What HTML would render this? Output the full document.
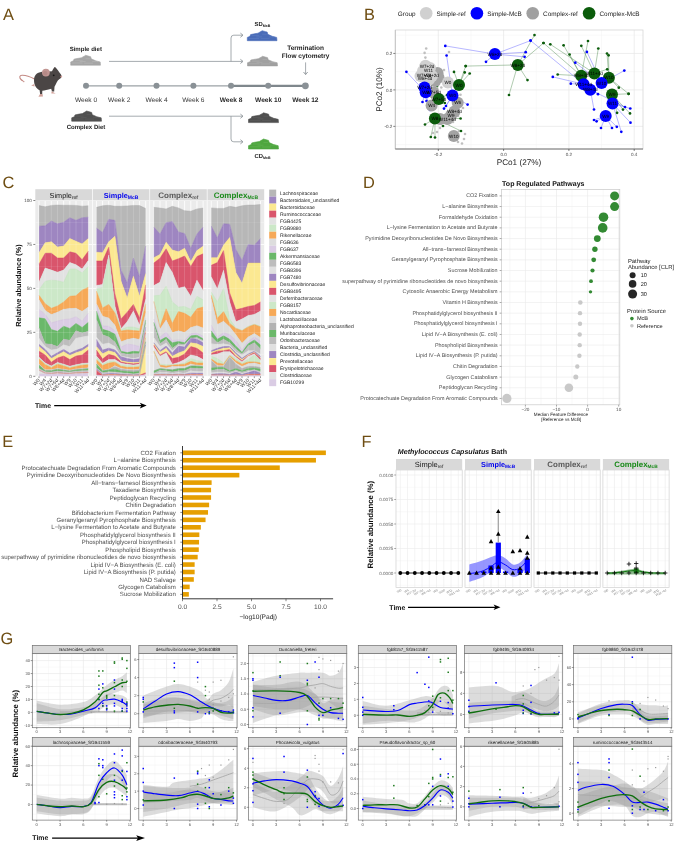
<!DOCTYPE html>
<html><head><meta charset="utf-8"><style>
html,body{margin:0;padding:0;background:#fff;width:685px;height:841px;overflow:hidden}
svg{display:block;will-change:transform}
text{font-family:"Liberation Sans", sans-serif;text-rendering:geometricPrecision}
</style></head><body>
<svg width="685" height="841" viewBox="0 0 685 841">
<rect width="685" height="841" fill="#fff"/>
<text x="3" y="20" font-size="16.4" text-anchor="start" fill="#6E4D12">A</text>
<path d="M 34.5,79 C 30,76.5 26,75 22,75.2 C 19.5,75.4 19,77.5 21,79.5 C 22,80.5 23.5,81.2 24.3,82" fill="none" stroke="#C48A84" stroke-width="1.1"/>
<path d="M 34,80 C 34,74 38.5,71.8 44,71.8 L 52,71.2 C 53.5,68.5 54.5,66.5 55.3,67.2 C 57.2,68.8 59,71.8 60.8,74.3 C 62.2,76 61.6,78.3 59.2,79.2 C 57.2,80.5 56,84 54.5,86.8 L 54.2,91.5 L 52,91.5 L 51.2,88.8 C 47.5,89.8 44.5,90.4 42.3,90.8 L 42.2,94.5 L 40.2,94.5 L 39.6,90.2 C 36,88.3 34,85.2 34,80 Z" fill="#4B4645" stroke="none" stroke-width="1"/>
<circle cx="45.9" cy="72.6" r="3.9" fill="#C19592" stroke="none" stroke-width="1"/>
<circle cx="45.2" cy="73.3" r="2.2" fill="#A97D7A" stroke="none" stroke-width="1" opacity="0.5"/>
<circle cx="53.7" cy="75.3" r="0.9" fill="#151515" stroke="none" stroke-width="1"/>
<circle cx="61.3" cy="76.6" r="0.9" fill="#D79C97" stroke="none" stroke-width="1"/>
<path d="M 51.6,91.2 L 55.6,93.4 L 51.4,93.6 Z" fill="#D2A29B" stroke="none" stroke-width="1"/>
<path d="M 40,94 L 42.6,94.2 L 43,96.6 L 38.4,96.8 Z" fill="#D2A29B" stroke="none" stroke-width="1"/>
<path d="M 34.2,84 L 31.2,85.6 L 34.6,86.4 Z" fill="#D2A29B" stroke="none" stroke-width="1"/>
<text x="85.8" y="50.7" font-size="6.05" text-anchor="middle" fill="#222" font-weight="bold">Simple diet</text>
<polygon points="70.7,65.2 70.7,61.93 73.38,60.84 73.98,59.16 76.66,58.57 81.43,57.77 84.71,55.89 85.6,55.3 89.18,56.29 90.67,56.69 91.26,58.86 95.73,60.84 100.2,61.93 100.5,65.2" fill="#A6A6A6" stroke="#A6A6A6" stroke-width="0.6" stroke-linejoin="round"/>
<line x1="72.19" y1="63.02" x2="82.62" y2="63.02" stroke="#C4C4C4" stroke-width="0.5" opacity="0.7"/>
<line x1="84.11" y1="63.22" x2="93.05" y2="63.22" stroke="#C4C4C4" stroke-width="0.5" opacity="0.7"/>
<line x1="75.17" y1="60.25" x2="82.62" y2="60.25" stroke="#C4C4C4" stroke-width="0.5" opacity="0.7"/>
<line x1="85.6" y1="58.77" x2="90.07" y2="58.77" stroke="#C4C4C4" stroke-width="0.5" opacity="0.7"/>
<line x1="92.16" y1="61.44" x2="98.12" y2="61.44" stroke="#C4C4C4" stroke-width="0.5" opacity="0.7"/>
<line x1="79.64" y1="61.44" x2="85.6" y2="61.44" stroke="#C4C4C4" stroke-width="0.5" opacity="0.7"/>
<polygon points="71.7,121.2 71.7,117.83 74.38,116.71 74.98,114.98 77.66,114.37 82.43,113.55 85.71,111.61 86.6,111 90.18,112.02 91.67,112.43 92.26,114.67 96.73,116.71 101.2,117.83 101.5,121.2" fill="#505050" stroke="#505050" stroke-width="0.6" stroke-linejoin="round"/>
<line x1="73.19" y1="118.96" x2="83.62" y2="118.96" stroke="#6A6A6A" stroke-width="0.5" opacity="0.7"/>
<line x1="85.11" y1="119.16" x2="94.05" y2="119.16" stroke="#6A6A6A" stroke-width="0.5" opacity="0.7"/>
<line x1="76.17" y1="116.1" x2="83.62" y2="116.1" stroke="#6A6A6A" stroke-width="0.5" opacity="0.7"/>
<line x1="86.6" y1="114.57" x2="91.07" y2="114.57" stroke="#6A6A6A" stroke-width="0.5" opacity="0.7"/>
<line x1="93.16" y1="117.32" x2="99.12" y2="117.32" stroke="#6A6A6A" stroke-width="0.5" opacity="0.7"/>
<line x1="80.64" y1="117.32" x2="86.6" y2="117.32" stroke="#6A6A6A" stroke-width="0.5" opacity="0.7"/>
<text x="86" y="128.5" font-size="6.05" text-anchor="middle" fill="#222" font-weight="bold">Complex Diet</text>
<line x1="109" y1="61.4" x2="242.5" y2="61.4" stroke="#8E959A" stroke-width="0.8"/>
<polyline points="240.4,63.48 243,61.4 240.4,59.32" fill="none" stroke="#8E959A" stroke-width="0.9"/>
<path d="M 231,61.4 L 231,38 Q 231,35.2 233.8,35.2 L 242.5,35.2" fill="none" stroke="#8E959A" stroke-width="0.8"/>
<polyline points="240.4,37.28 243,35.2 240.4,33.12" fill="none" stroke="#8E959A" stroke-width="0.9"/>
<line x1="109" y1="116.2" x2="242.5" y2="116.2" stroke="#8E959A" stroke-width="0.8"/>
<polyline points="240.4,118.28 243,116.2 240.4,114.12" fill="none" stroke="#8E959A" stroke-width="0.9"/>
<path d="M 231,116.2 L 231,139 Q 231,141.8 233.8,141.8 L 242.5,141.8" fill="none" stroke="#8E959A" stroke-width="0.8"/>
<polyline points="240.4,143.88 243,141.8 240.4,139.72" fill="none" stroke="#8E959A" stroke-width="0.9"/>
<polygon points="247.3,40.7 247.3,37.4 249.97,36.3 250.57,34.6 253.24,34 257.99,33.2 261.26,31.3 262.15,30.7 265.71,31.7 267.2,32.1 267.79,34.3 272.25,36.3 276.7,37.4 277,40.7" fill="#4A6CB8" stroke="#4A6CB8" stroke-width="0.6" stroke-linejoin="round"/>
<line x1="248.79" y1="38.5" x2="259.18" y2="38.5" stroke="#6F8CCB" stroke-width="0.5" opacity="0.7"/>
<line x1="260.67" y1="38.7" x2="269.57" y2="38.7" stroke="#6F8CCB" stroke-width="0.5" opacity="0.7"/>
<line x1="251.75" y1="35.7" x2="259.18" y2="35.7" stroke="#6F8CCB" stroke-width="0.5" opacity="0.7"/>
<line x1="262.15" y1="34.2" x2="266.61" y2="34.2" stroke="#6F8CCB" stroke-width="0.5" opacity="0.7"/>
<line x1="268.68" y1="36.9" x2="274.62" y2="36.9" stroke="#6F8CCB" stroke-width="0.5" opacity="0.7"/>
<line x1="256.21" y1="36.9" x2="262.15" y2="36.9" stroke="#6F8CCB" stroke-width="0.5" opacity="0.7"/>
<polygon points="247.5,65.9 247.5,62.73 250.2,61.68 250.8,60.04 253.5,59.47 258.3,58.7 261.6,56.88 262.5,56.3 266.1,57.26 267.6,57.64 268.2,59.76 272.7,61.68 277.2,62.73 277.5,65.9" fill="#A0A0A0" stroke="#A0A0A0" stroke-width="0.6" stroke-linejoin="round"/>
<line x1="249" y1="63.79" x2="259.5" y2="63.79" stroke="#BDBDBD" stroke-width="0.5" opacity="0.7"/>
<line x1="261" y1="63.98" x2="270" y2="63.98" stroke="#BDBDBD" stroke-width="0.5" opacity="0.7"/>
<line x1="252" y1="61.1" x2="259.5" y2="61.1" stroke="#BDBDBD" stroke-width="0.5" opacity="0.7"/>
<line x1="262.5" y1="59.66" x2="267" y2="59.66" stroke="#BDBDBD" stroke-width="0.5" opacity="0.7"/>
<line x1="269.1" y1="62.25" x2="275.1" y2="62.25" stroke="#BDBDBD" stroke-width="0.5" opacity="0.7"/>
<line x1="256.5" y1="62.25" x2="262.5" y2="62.25" stroke="#BDBDBD" stroke-width="0.5" opacity="0.7"/>
<polygon points="248.5,122.6 248.5,119.37 251.2,118.29 251.8,116.62 254.5,116.03 259.3,115.25 262.6,113.39 263.5,112.8 267.1,113.78 268.6,114.17 269.2,116.33 273.7,118.29 278.2,119.37 278.5,122.6" fill="#4F4F4F" stroke="#4F4F4F" stroke-width="0.6" stroke-linejoin="round"/>
<line x1="250" y1="120.44" x2="260.5" y2="120.44" stroke="#6A6A6A" stroke-width="0.5" opacity="0.7"/>
<line x1="262" y1="120.64" x2="271" y2="120.64" stroke="#6A6A6A" stroke-width="0.5" opacity="0.7"/>
<line x1="253" y1="117.7" x2="260.5" y2="117.7" stroke="#6A6A6A" stroke-width="0.5" opacity="0.7"/>
<line x1="263.5" y1="116.23" x2="268" y2="116.23" stroke="#6A6A6A" stroke-width="0.5" opacity="0.7"/>
<line x1="270.1" y1="118.88" x2="276.1" y2="118.88" stroke="#6A6A6A" stroke-width="0.5" opacity="0.7"/>
<line x1="257.5" y1="118.88" x2="263.5" y2="118.88" stroke="#6A6A6A" stroke-width="0.5" opacity="0.7"/>
<polygon points="248.5,149 248.5,145.7 251.2,144.6 251.8,142.9 254.5,142.3 259.3,141.5 262.6,139.6 263.5,139 267.1,140 268.6,140.4 269.2,142.6 273.7,144.6 278.2,145.7 278.5,149" fill="#4EA63F" stroke="#4EA63F" stroke-width="0.6" stroke-linejoin="round"/>
<line x1="250" y1="146.8" x2="260.5" y2="146.8" stroke="#72BC62" stroke-width="0.5" opacity="0.7"/>
<line x1="262" y1="147" x2="271" y2="147" stroke="#72BC62" stroke-width="0.5" opacity="0.7"/>
<line x1="253" y1="144" x2="260.5" y2="144" stroke="#72BC62" stroke-width="0.5" opacity="0.7"/>
<line x1="263.5" y1="142.5" x2="268" y2="142.5" stroke="#72BC62" stroke-width="0.5" opacity="0.7"/>
<line x1="270.1" y1="145.2" x2="276.1" y2="145.2" stroke="#72BC62" stroke-width="0.5" opacity="0.7"/>
<line x1="257.5" y1="145.2" x2="263.5" y2="145.2" stroke="#72BC62" stroke-width="0.5" opacity="0.7"/>
<text x="262.5" y="26" font-size="5.9" text-anchor="middle" font-weight="bold" fill="#222">SD<tspan font-size="3.6" dy="1">McB</tspan></text>
<text x="262.5" y="158" font-size="5.9" text-anchor="middle" font-weight="bold" fill="#222">CD<tspan font-size="3.6" dy="1">McB</tspan></text>
<text x="305.6" y="49.6" font-size="6.5" text-anchor="middle" fill="#222" font-weight="bold">Termination</text>
<text x="305.6" y="57.6" font-size="6.5" text-anchor="middle" fill="#222" font-weight="bold">Flow cytometry</text>
<line x1="305.6" y1="62.4" x2="305.6" y2="74.4" stroke="#8E959A" stroke-width="0.8"/>
<polyline points="303.52,72 305.6,74.6 307.68,72" fill="none" stroke="#8E959A" stroke-width="0.9"/>
<line x1="86" y1="85.8" x2="231" y2="85.8" stroke="#9BA2A6" stroke-width="1.3"/>
<line x1="231" y1="85.8" x2="305.4" y2="85.8" stroke="#7F878C" stroke-width="2.2"/>
<circle cx="86" cy="85.8" r="3" fill="#8A9196" stroke="none" stroke-width="1"/>
<circle cx="119.2" cy="85.8" r="3" fill="#8A9196" stroke="none" stroke-width="1"/>
<circle cx="156.5" cy="85.8" r="3" fill="#8A9196" stroke="none" stroke-width="1"/>
<circle cx="193.4" cy="85.8" r="3" fill="#8A9196" stroke="none" stroke-width="1"/>
<circle cx="231" cy="85.8" r="3" fill="#8A9196" stroke="none" stroke-width="1"/>
<circle cx="268.2" cy="85.8" r="3" fill="#8A9196" stroke="none" stroke-width="1"/>
<circle cx="305.4" cy="85.8" r="3.4" fill="#8A9196" stroke="none" stroke-width="1"/>
<text x="86" y="102.2" font-size="6.6" text-anchor="middle" fill="#353535">Week 0</text>
<text x="119.2" y="102.2" font-size="6.6" text-anchor="middle" fill="#353535">Week 2</text>
<text x="156.5" y="102.2" font-size="6.6" text-anchor="middle" fill="#353535">Week 4</text>
<text x="193.4" y="102.2" font-size="6.6" text-anchor="middle" fill="#353535">Week 6</text>
<text x="231" y="102.2" font-size="6.6" text-anchor="middle" fill="#2a2a2a" font-weight="bold">Week 8</text>
<text x="268.2" y="102.2" font-size="6.6" text-anchor="middle" fill="#2a2a2a" font-weight="bold">Week 10</text>
<text x="305.4" y="102.2" font-size="6.6" text-anchor="middle" fill="#2a2a2a" font-weight="bold">Week 12</text>
<text x="364" y="20.4" font-size="16.4" text-anchor="start" fill="#6E4D12">B</text>
<text x="397.8" y="15.9" font-size="6.4" text-anchor="start" fill="#222">Group</text>
<circle cx="426.2" cy="13.3" r="6.3" fill="#D0D0D0" stroke="none" stroke-width="1"/>
<text x="436.6" y="15.9" font-size="6.4" text-anchor="start" fill="#222">Simple-ref</text>
<circle cx="476.9" cy="13.3" r="6.3" fill="#0000FF" stroke="none" stroke-width="1"/>
<text x="487.3" y="15.9" font-size="6.4" text-anchor="start" fill="#222">Simple-McB</text>
<circle cx="532.7" cy="13.3" r="6.3" fill="#A0A0A0" stroke="none" stroke-width="1"/>
<text x="543.1" y="15.9" font-size="6.4" text-anchor="start" fill="#222">Complex-ref</text>
<circle cx="589.1" cy="13.3" r="6.3" fill="#0B5C0B" stroke="none" stroke-width="1"/>
<text x="599.5" y="15.9" font-size="6.4" text-anchor="start" fill="#222">Complex-McB</text>
<rect x="395.3" y="30" width="247.7" height="119" fill="#fff" stroke="none" stroke-width="1"/>
<line x1="405.65" y1="30" x2="405.65" y2="149" stroke="#F2F2F2" stroke-width="0.5"/>
<line x1="470.95" y1="30" x2="470.95" y2="149" stroke="#F2F2F2" stroke-width="0.5"/>
<line x1="536.25" y1="30" x2="536.25" y2="149" stroke="#F2F2F2" stroke-width="0.5"/>
<line x1="601.55" y1="30" x2="601.55" y2="149" stroke="#F2F2F2" stroke-width="0.5"/>
<line x1="395.3" y1="35.21" x2="643" y2="35.21" stroke="#F2F2F2" stroke-width="0.5"/>
<line x1="395.3" y1="71.67" x2="643" y2="71.67" stroke="#F2F2F2" stroke-width="0.5"/>
<line x1="395.3" y1="108.13" x2="643" y2="108.13" stroke="#F2F2F2" stroke-width="0.5"/>
<line x1="395.3" y1="144.59" x2="643" y2="144.59" stroke="#F2F2F2" stroke-width="0.5"/>
<line x1="438.3" y1="30" x2="438.3" y2="149" stroke="#E6E6E6" stroke-width="0.7"/>
<line x1="503.6" y1="30" x2="503.6" y2="149" stroke="#E6E6E6" stroke-width="0.7"/>
<line x1="568.9" y1="30" x2="568.9" y2="149" stroke="#E6E6E6" stroke-width="0.7"/>
<line x1="634.2" y1="30" x2="634.2" y2="149" stroke="#E6E6E6" stroke-width="0.7"/>
<line x1="395.3" y1="53.44" x2="643" y2="53.44" stroke="#E6E6E6" stroke-width="0.7"/>
<line x1="395.3" y1="89.9" x2="643" y2="89.9" stroke="#E6E6E6" stroke-width="0.7"/>
<line x1="395.3" y1="126.36" x2="643" y2="126.36" stroke="#E6E6E6" stroke-width="0.7"/>
<rect x="395.3" y="30" width="247.7" height="119" fill="none" stroke="#D6D6D6" stroke-width="0.8"/>
<line x1="395.3" y1="30" x2="395.3" y2="149" stroke="#BDBDBD" stroke-width="0.8"/>
<line x1="395.3" y1="149" x2="643" y2="149" stroke="#555" stroke-width="0.8"/>
<line x1="393.3" y1="53.44" x2="395.3" y2="53.44" stroke="#333" stroke-width="0.6"/>
<text x="392.3" y="55.04" font-size="4.6" text-anchor="end" fill="#4D4D4D">0.2</text>
<line x1="393.3" y1="89.9" x2="395.3" y2="89.9" stroke="#333" stroke-width="0.6"/>
<text x="392.3" y="91.5" font-size="4.6" text-anchor="end" fill="#4D4D4D">0.0</text>
<line x1="393.3" y1="126.36" x2="395.3" y2="126.36" stroke="#333" stroke-width="0.6"/>
<text x="392.3" y="127.96" font-size="4.6" text-anchor="end" fill="#4D4D4D">-0.2</text>
<line x1="438.3" y1="149" x2="438.3" y2="151" stroke="#333" stroke-width="0.6"/>
<text x="438.3" y="155.6" font-size="4.6" text-anchor="middle" fill="#4D4D4D">-0.2</text>
<line x1="503.6" y1="149" x2="503.6" y2="151" stroke="#333" stroke-width="0.6"/>
<text x="503.6" y="155.6" font-size="4.6" text-anchor="middle" fill="#4D4D4D">0.0</text>
<line x1="568.9" y1="149" x2="568.9" y2="151" stroke="#333" stroke-width="0.6"/>
<text x="568.9" y="155.6" font-size="4.6" text-anchor="middle" fill="#4D4D4D">0.2</text>
<line x1="634.2" y1="149" x2="634.2" y2="151" stroke="#333" stroke-width="0.6"/>
<text x="634.2" y="155.6" font-size="4.6" text-anchor="middle" fill="#4D4D4D">0.4</text>
<text x="519" y="164.5" font-size="8.2" text-anchor="middle" fill="#222">PCo1 (27%)</text>
<text x="381.5" y="89.5" font-size="8.2" text-anchor="middle" fill="#222" transform="rotate(-90 381.5 89.5)">PCo2 (10%)</text>
<line x1="494.9" y1="54.1" x2="445.3" y2="45.9" stroke="#5D5DFF" stroke-width="0.45"/>
<line x1="494.9" y1="54.1" x2="486" y2="61.8" stroke="#5D5DFF" stroke-width="0.45"/>
<line x1="494.9" y1="54.1" x2="530.6" y2="40.6" stroke="#5D5DFF" stroke-width="0.45"/>
<line x1="494.9" y1="54.1" x2="525.7" y2="52.2" stroke="#5D5DFF" stroke-width="0.45"/>
<line x1="494.9" y1="54.1" x2="524.6" y2="56.8" stroke="#5D5DFF" stroke-width="0.45"/>
<line x1="517.8" y1="64.9" x2="465.7" y2="66.1" stroke="#4F8A4F" stroke-width="0.45"/>
<line x1="517.8" y1="64.9" x2="534.5" y2="35.1" stroke="#4F8A4F" stroke-width="0.45"/>
<line x1="517.8" y1="64.9" x2="543.5" y2="43" stroke="#4F8A4F" stroke-width="0.45"/>
<line x1="517.8" y1="64.9" x2="509" y2="95" stroke="#4F8A4F" stroke-width="0.45"/>
<line x1="517.8" y1="64.9" x2="527.5" y2="80.1" stroke="#4F8A4F" stroke-width="0.45"/>
<line x1="581.2" y1="75.8" x2="563.6" y2="45.3" stroke="#4F8A4F" stroke-width="0.45"/>
<line x1="581.2" y1="75.8" x2="557.7" y2="74.5" stroke="#4F8A4F" stroke-width="0.45"/>
<line x1="581.2" y1="75.8" x2="569.6" y2="54.5" stroke="#4F8A4F" stroke-width="0.45"/>
<line x1="581.2" y1="75.8" x2="588" y2="41" stroke="#4F8A4F" stroke-width="0.45"/>
<line x1="581.2" y1="75.8" x2="543.5" y2="43" stroke="#4F8A4F" stroke-width="0.45"/>
<line x1="594.4" y1="73.4" x2="581.3" y2="45.8" stroke="#4F8A4F" stroke-width="0.45"/>
<line x1="594.4" y1="73.4" x2="598.3" y2="48.5" stroke="#4F8A4F" stroke-width="0.45"/>
<line x1="594.4" y1="73.4" x2="607.2" y2="69.3" stroke="#4F8A4F" stroke-width="0.45"/>
<line x1="594.4" y1="73.4" x2="550.3" y2="44.3" stroke="#4F8A4F" stroke-width="0.45"/>
<line x1="608.9" y1="77.7" x2="607" y2="53.5" stroke="#4F8A4F" stroke-width="0.45"/>
<line x1="608.9" y1="77.7" x2="608.6" y2="55.3" stroke="#4F8A4F" stroke-width="0.45"/>
<line x1="608.9" y1="77.7" x2="618.8" y2="87.7" stroke="#4F8A4F" stroke-width="0.45"/>
<line x1="608.9" y1="77.7" x2="628.6" y2="93.8" stroke="#4F8A4F" stroke-width="0.45"/>
<line x1="601.6" y1="83" x2="586.9" y2="51.9" stroke="#5D5DFF" stroke-width="0.45"/>
<line x1="601.6" y1="83" x2="624.3" y2="70.6" stroke="#5D5DFF" stroke-width="0.45"/>
<line x1="601.6" y1="83" x2="593.1" y2="70.5" stroke="#5D5DFF" stroke-width="0.45"/>
<line x1="601.6" y1="83" x2="575.3" y2="62.7" stroke="#5D5DFF" stroke-width="0.45"/>
<line x1="583.6" y1="84.2" x2="552.8" y2="76.9" stroke="#5D5DFF" stroke-width="0.45"/>
<line x1="583.6" y1="84.2" x2="570.8" y2="83.7" stroke="#5D5DFF" stroke-width="0.45"/>
<line x1="583.6" y1="84.2" x2="530.6" y2="40.6" stroke="#5D5DFF" stroke-width="0.45"/>
<line x1="590.3" y1="89.7" x2="598" y2="94.2" stroke="#5D5DFF" stroke-width="0.45"/>
<line x1="590.3" y1="89.7" x2="594" y2="109.5" stroke="#5D5DFF" stroke-width="0.45"/>
<line x1="590.3" y1="89.7" x2="625" y2="107" stroke="#5D5DFF" stroke-width="0.45"/>
<line x1="612" y1="94.5" x2="623" y2="109.6" stroke="#4F8A4F" stroke-width="0.45"/>
<line x1="612" y1="94.5" x2="630" y2="113.4" stroke="#4F8A4F" stroke-width="0.45"/>
<line x1="612" y1="94.5" x2="617.1" y2="112.8" stroke="#4F8A4F" stroke-width="0.45"/>
<line x1="612" y1="94.5" x2="628.6" y2="93.8" stroke="#4F8A4F" stroke-width="0.45"/>
<line x1="612.5" y1="103.5" x2="630.5" y2="122.7" stroke="#5D5DFF" stroke-width="0.45"/>
<line x1="612.5" y1="103.5" x2="630.3" y2="108.5" stroke="#5D5DFF" stroke-width="0.45"/>
<line x1="612.5" y1="103.5" x2="621.3" y2="131.8" stroke="#5D5DFF" stroke-width="0.45"/>
<line x1="605.7" y1="116" x2="596.6" y2="121.3" stroke="#5D5DFF" stroke-width="0.45"/>
<line x1="605.7" y1="116" x2="601" y2="128" stroke="#5D5DFF" stroke-width="0.45"/>
<line x1="605.7" y1="116" x2="612" y2="128" stroke="#5D5DFF" stroke-width="0.45"/>
<line x1="605.7" y1="116" x2="616.8" y2="126.8" stroke="#5D5DFF" stroke-width="0.45"/>
<line x1="605.7" y1="116" x2="594" y2="120" stroke="#5D5DFF" stroke-width="0.45"/>
<line x1="425.7" y1="92.3" x2="406.4" y2="71.8" stroke="#5D5DFF" stroke-width="0.45"/>
<line x1="425.7" y1="92.3" x2="422.5" y2="102" stroke="#5D5DFF" stroke-width="0.45"/>
<line x1="425.7" y1="92.3" x2="426.5" y2="101" stroke="#5D5DFF" stroke-width="0.45"/>
<line x1="425.7" y1="92.3" x2="430" y2="110" stroke="#5D5DFF" stroke-width="0.45"/>
<line x1="452.5" y1="95.6" x2="446.6" y2="55.5" stroke="#5D5DFF" stroke-width="0.45"/>
<line x1="452.5" y1="95.6" x2="467.6" y2="104.6" stroke="#5D5DFF" stroke-width="0.45"/>
<line x1="452.5" y1="95.6" x2="446" y2="106" stroke="#5D5DFF" stroke-width="0.45"/>
<line x1="452.5" y1="95.6" x2="444" y2="108.6" stroke="#5D5DFF" stroke-width="0.45"/>
<line x1="459" y1="85.1" x2="465.7" y2="66.1" stroke="#4F8A4F" stroke-width="0.45"/>
<line x1="459" y1="85.1" x2="454" y2="71.9" stroke="#4F8A4F" stroke-width="0.45"/>
<line x1="459" y1="85.1" x2="464.7" y2="72.4" stroke="#4F8A4F" stroke-width="0.45"/>
<line x1="459" y1="85.1" x2="469.7" y2="73.5" stroke="#4F8A4F" stroke-width="0.45"/>
<line x1="438.8" y1="98.9" x2="437" y2="86" stroke="#4F8A4F" stroke-width="0.45"/>
<line x1="438.8" y1="98.9" x2="447" y2="95" stroke="#4F8A4F" stroke-width="0.45"/>
<line x1="438.8" y1="98.9" x2="444.8" y2="103" stroke="#4F8A4F" stroke-width="0.45"/>
<line x1="434.9" y1="118.5" x2="425" y2="124.5" stroke="#4F8A4F" stroke-width="0.45"/>
<line x1="434.9" y1="118.5" x2="430.8" y2="137" stroke="#4F8A4F" stroke-width="0.45"/>
<line x1="434.9" y1="118.5" x2="435" y2="137.5" stroke="#4F8A4F" stroke-width="0.45"/>
<line x1="434.9" y1="118.5" x2="443" y2="126" stroke="#4F8A4F" stroke-width="0.45"/>
<line x1="434.9" y1="118.5" x2="450" y2="116" stroke="#4F8A4F" stroke-width="0.45"/>
<line x1="434.9" y1="118.5" x2="460.6" y2="118.5" stroke="#4F8A4F" stroke-width="0.45"/>
<line x1="434.9" y1="118.5" x2="461" y2="131" stroke="#4F8A4F" stroke-width="0.45"/>
<circle cx="426.2" cy="48.5" r="1.3" fill="#BFBFBF" stroke="none" stroke-width="1"/>
<circle cx="424.6" cy="52.9" r="1.3" fill="#BFBFBF" stroke="none" stroke-width="1"/>
<circle cx="425.4" cy="57.6" r="1.3" fill="#BFBFBF" stroke="none" stroke-width="1"/>
<circle cx="449" cy="52" r="1.3" fill="#BFBFBF" stroke="none" stroke-width="1"/>
<circle cx="444" cy="70" r="1.3" fill="#BFBFBF" stroke="none" stroke-width="1"/>
<circle cx="441.3" cy="87.5" r="1.3" fill="#BFBFBF" stroke="none" stroke-width="1"/>
<circle cx="439" cy="84" r="1.3" fill="#BFBFBF" stroke="none" stroke-width="1"/>
<circle cx="460.5" cy="94.8" r="1.3" fill="#BFBFBF" stroke="none" stroke-width="1"/>
<circle cx="463" cy="108" r="1.3" fill="#BFBFBF" stroke="none" stroke-width="1"/>
<circle cx="458" cy="116" r="1.3" fill="#BFBFBF" stroke="none" stroke-width="1"/>
<circle cx="453" cy="122" r="1.3" fill="#BFBFBF" stroke="none" stroke-width="1"/>
<circle cx="437" cy="132" r="1.3" fill="#BFBFBF" stroke="none" stroke-width="1"/>
<circle cx="433" cy="133" r="1.3" fill="#BFBFBF" stroke="none" stroke-width="1"/>
<circle cx="459" cy="131" r="1.3" fill="#BFBFBF" stroke="none" stroke-width="1"/>
<circle cx="464" cy="139" r="1.3" fill="#BFBFBF" stroke="none" stroke-width="1"/>
<circle cx="462" cy="143.5" r="1.3" fill="#BFBFBF" stroke="none" stroke-width="1"/>
<circle cx="458" cy="142" r="1.3" fill="#BFBFBF" stroke="none" stroke-width="1"/>
<circle cx="465" cy="134" r="1.3" fill="#BFBFBF" stroke="none" stroke-width="1"/>
<circle cx="440" cy="128" r="1.3" fill="#BFBFBF" stroke="none" stroke-width="1"/>
<circle cx="445.3" cy="45.9" r="1.35" fill="#0000FF" stroke="none" stroke-width="1"/>
<circle cx="486" cy="61.8" r="1.35" fill="#0000FF" stroke="none" stroke-width="1"/>
<circle cx="530.6" cy="40.6" r="1.35" fill="#0000FF" stroke="none" stroke-width="1"/>
<circle cx="525.7" cy="52.2" r="1.35" fill="#0000FF" stroke="none" stroke-width="1"/>
<circle cx="524.6" cy="56.8" r="1.35" fill="#0000FF" stroke="none" stroke-width="1"/>
<circle cx="465.7" cy="66.1" r="1.35" fill="#0B5C0B" stroke="none" stroke-width="1"/>
<circle cx="534.5" cy="35.1" r="1.35" fill="#0B5C0B" stroke="none" stroke-width="1"/>
<circle cx="543.5" cy="43" r="1.35" fill="#0B5C0B" stroke="none" stroke-width="1"/>
<circle cx="509" cy="95" r="1.35" fill="#0B5C0B" stroke="none" stroke-width="1"/>
<circle cx="527.5" cy="80.1" r="1.35" fill="#0B5C0B" stroke="none" stroke-width="1"/>
<circle cx="563.6" cy="45.3" r="1.35" fill="#0B5C0B" stroke="none" stroke-width="1"/>
<circle cx="557.7" cy="74.5" r="1.35" fill="#0B5C0B" stroke="none" stroke-width="1"/>
<circle cx="569.6" cy="54.5" r="1.35" fill="#0B5C0B" stroke="none" stroke-width="1"/>
<circle cx="588" cy="41" r="1.35" fill="#0B5C0B" stroke="none" stroke-width="1"/>
<circle cx="543.5" cy="43" r="1.35" fill="#0B5C0B" stroke="none" stroke-width="1"/>
<circle cx="581.3" cy="45.8" r="1.35" fill="#0B5C0B" stroke="none" stroke-width="1"/>
<circle cx="598.3" cy="48.5" r="1.35" fill="#0B5C0B" stroke="none" stroke-width="1"/>
<circle cx="607.2" cy="69.3" r="1.35" fill="#0B5C0B" stroke="none" stroke-width="1"/>
<circle cx="550.3" cy="44.3" r="1.35" fill="#0B5C0B" stroke="none" stroke-width="1"/>
<circle cx="607" cy="53.5" r="1.35" fill="#0B5C0B" stroke="none" stroke-width="1"/>
<circle cx="608.6" cy="55.3" r="1.35" fill="#0B5C0B" stroke="none" stroke-width="1"/>
<circle cx="618.8" cy="87.7" r="1.35" fill="#0B5C0B" stroke="none" stroke-width="1"/>
<circle cx="628.6" cy="93.8" r="1.35" fill="#0B5C0B" stroke="none" stroke-width="1"/>
<circle cx="586.9" cy="51.9" r="1.35" fill="#0000FF" stroke="none" stroke-width="1"/>
<circle cx="624.3" cy="70.6" r="1.35" fill="#0000FF" stroke="none" stroke-width="1"/>
<circle cx="593.1" cy="70.5" r="1.35" fill="#0000FF" stroke="none" stroke-width="1"/>
<circle cx="575.3" cy="62.7" r="1.35" fill="#0000FF" stroke="none" stroke-width="1"/>
<circle cx="552.8" cy="76.9" r="1.35" fill="#0000FF" stroke="none" stroke-width="1"/>
<circle cx="570.8" cy="83.7" r="1.35" fill="#0000FF" stroke="none" stroke-width="1"/>
<circle cx="530.6" cy="40.6" r="1.35" fill="#0000FF" stroke="none" stroke-width="1"/>
<circle cx="598" cy="94.2" r="1.35" fill="#0000FF" stroke="none" stroke-width="1"/>
<circle cx="594" cy="109.5" r="1.35" fill="#0000FF" stroke="none" stroke-width="1"/>
<circle cx="625" cy="107" r="1.35" fill="#0000FF" stroke="none" stroke-width="1"/>
<circle cx="623" cy="109.6" r="1.35" fill="#0B5C0B" stroke="none" stroke-width="1"/>
<circle cx="630" cy="113.4" r="1.35" fill="#0B5C0B" stroke="none" stroke-width="1"/>
<circle cx="617.1" cy="112.8" r="1.35" fill="#0B5C0B" stroke="none" stroke-width="1"/>
<circle cx="628.6" cy="93.8" r="1.35" fill="#0B5C0B" stroke="none" stroke-width="1"/>
<circle cx="630.5" cy="122.7" r="1.35" fill="#0000FF" stroke="none" stroke-width="1"/>
<circle cx="630.3" cy="108.5" r="1.35" fill="#0000FF" stroke="none" stroke-width="1"/>
<circle cx="621.3" cy="131.8" r="1.35" fill="#0000FF" stroke="none" stroke-width="1"/>
<circle cx="596.6" cy="121.3" r="1.35" fill="#0000FF" stroke="none" stroke-width="1"/>
<circle cx="601" cy="128" r="1.35" fill="#0000FF" stroke="none" stroke-width="1"/>
<circle cx="612" cy="128" r="1.35" fill="#0000FF" stroke="none" stroke-width="1"/>
<circle cx="616.8" cy="126.8" r="1.35" fill="#0000FF" stroke="none" stroke-width="1"/>
<circle cx="594" cy="120" r="1.35" fill="#0000FF" stroke="none" stroke-width="1"/>
<circle cx="406.4" cy="71.8" r="1.35" fill="#0000FF" stroke="none" stroke-width="1"/>
<circle cx="422.5" cy="102" r="1.35" fill="#0000FF" stroke="none" stroke-width="1"/>
<circle cx="426.5" cy="101" r="1.35" fill="#0000FF" stroke="none" stroke-width="1"/>
<circle cx="430" cy="110" r="1.35" fill="#0000FF" stroke="none" stroke-width="1"/>
<circle cx="446.6" cy="55.5" r="1.35" fill="#0000FF" stroke="none" stroke-width="1"/>
<circle cx="467.6" cy="104.6" r="1.35" fill="#0000FF" stroke="none" stroke-width="1"/>
<circle cx="446" cy="106" r="1.35" fill="#0000FF" stroke="none" stroke-width="1"/>
<circle cx="444" cy="108.6" r="1.35" fill="#0000FF" stroke="none" stroke-width="1"/>
<circle cx="465.7" cy="66.1" r="1.35" fill="#0B5C0B" stroke="none" stroke-width="1"/>
<circle cx="454" cy="71.9" r="1.35" fill="#0B5C0B" stroke="none" stroke-width="1"/>
<circle cx="464.7" cy="72.4" r="1.35" fill="#0B5C0B" stroke="none" stroke-width="1"/>
<circle cx="469.7" cy="73.5" r="1.35" fill="#0B5C0B" stroke="none" stroke-width="1"/>
<circle cx="437" cy="86" r="1.35" fill="#0B5C0B" stroke="none" stroke-width="1"/>
<circle cx="447" cy="95" r="1.35" fill="#0B5C0B" stroke="none" stroke-width="1"/>
<circle cx="444.8" cy="103" r="1.35" fill="#0B5C0B" stroke="none" stroke-width="1"/>
<circle cx="425" cy="124.5" r="1.35" fill="#0B5C0B" stroke="none" stroke-width="1"/>
<circle cx="430.8" cy="137" r="1.35" fill="#0B5C0B" stroke="none" stroke-width="1"/>
<circle cx="435" cy="137.5" r="1.35" fill="#0B5C0B" stroke="none" stroke-width="1"/>
<circle cx="443" cy="126" r="1.35" fill="#0B5C0B" stroke="none" stroke-width="1"/>
<circle cx="450" cy="116" r="1.35" fill="#0B5C0B" stroke="none" stroke-width="1"/>
<circle cx="460.6" cy="118.5" r="1.35" fill="#0B5C0B" stroke="none" stroke-width="1"/>
<circle cx="461" cy="131" r="1.35" fill="#0B5C0B" stroke="none" stroke-width="1"/>
<circle cx="437.5" cy="73" r="6" fill="#A3A3A3" stroke="none" stroke-width="1"/>
<circle cx="438.5" cy="77.5" r="6" fill="#A3A3A3" stroke="none" stroke-width="1"/>
<circle cx="435" cy="81" r="6" fill="#A3A3A3" stroke="none" stroke-width="1"/>
<circle cx="425.5" cy="65.8" r="6" fill="#D0D0D0" stroke="none" stroke-width="1"/>
<circle cx="430" cy="68" r="6" fill="#D0D0D0" stroke="none" stroke-width="1"/>
<circle cx="423" cy="71" r="6" fill="#D0D0D0" stroke="none" stroke-width="1"/>
<circle cx="428" cy="72" r="6" fill="#D0D0D0" stroke="none" stroke-width="1"/>
<circle cx="420.5" cy="76" r="6" fill="#D0D0D0" stroke="none" stroke-width="1"/>
<circle cx="426" cy="77.5" r="6" fill="#D0D0D0" stroke="none" stroke-width="1"/>
<circle cx="432" cy="76" r="6" fill="#D0D0D0" stroke="none" stroke-width="1"/>
<circle cx="429" cy="79.5" r="6" fill="#D0D0D0" stroke="none" stroke-width="1"/>
<circle cx="447.9" cy="82.5" r="6" fill="#D0D0D0" stroke="none" stroke-width="1"/>
<circle cx="431.6" cy="105.4" r="6" fill="#A3A3A3" stroke="none" stroke-width="1"/>
<circle cx="433.5" cy="92.5" r="6" fill="#A3A3A3" stroke="none" stroke-width="1"/>
<circle cx="457.7" cy="102.8" r="6" fill="#A3A3A3" stroke="none" stroke-width="1"/>
<circle cx="454.5" cy="111.5" r="6" fill="#A3A3A3" stroke="none" stroke-width="1"/>
<circle cx="451" cy="115.5" r="6" fill="#A3A3A3" stroke="none" stroke-width="1"/>
<circle cx="447.3" cy="119.1" r="6" fill="#A3A3A3" stroke="none" stroke-width="1"/>
<circle cx="440" cy="119" r="6" fill="#A3A3A3" stroke="none" stroke-width="1"/>
<circle cx="453.8" cy="136.1" r="6" fill="#A3A3A3" stroke="none" stroke-width="1"/>
<circle cx="459" cy="85.1" r="6" fill="#0B5C0B" stroke="none" stroke-width="1"/>
<circle cx="438.8" cy="98.9" r="6" fill="#0B5C0B" stroke="none" stroke-width="1"/>
<circle cx="434.9" cy="118.5" r="6" fill="#0B5C0B" stroke="none" stroke-width="1"/>
<circle cx="424.5" cy="87.5" r="6" fill="#0000FF" stroke="none" stroke-width="1"/>
<circle cx="425.7" cy="92.3" r="6" fill="#0000FF" stroke="none" stroke-width="1"/>
<circle cx="452.5" cy="95.6" r="6" fill="#0000FF" stroke="none" stroke-width="1"/>
<circle cx="494.9" cy="54.1" r="6" fill="#0000FF" stroke="none" stroke-width="1"/>
<circle cx="517.8" cy="64.9" r="6" fill="#0B5C0B" stroke="none" stroke-width="1"/>
<circle cx="581.2" cy="75.8" r="6" fill="#0B5C0B" stroke="none" stroke-width="1"/>
<circle cx="594.4" cy="73.4" r="6" fill="#0B5C0B" stroke="none" stroke-width="1"/>
<circle cx="608.9" cy="77.7" r="6" fill="#0B5C0B" stroke="none" stroke-width="1"/>
<circle cx="601.6" cy="83" r="6" fill="#0000FF" stroke="none" stroke-width="1"/>
<circle cx="583.6" cy="84.2" r="6" fill="#0000FF" stroke="none" stroke-width="1"/>
<circle cx="590.3" cy="89.7" r="6" fill="#0000FF" stroke="none" stroke-width="1"/>
<circle cx="612" cy="94.5" r="6" fill="#0B5C0B" stroke="none" stroke-width="1"/>
<circle cx="612.5" cy="103.5" r="6" fill="#0000FF" stroke="none" stroke-width="1"/>
<circle cx="605.7" cy="116" r="6" fill="#0000FF" stroke="none" stroke-width="1"/>
<text x="447.9" y="84.1" font-size="4.6" text-anchor="middle" fill="#000">W0</text>
<text x="431.6" y="107" font-size="4.6" text-anchor="middle" fill="#000">W4</text>
<text x="433.5" y="94.1" font-size="4.6" text-anchor="middle" fill="#000">W7+5d</text>
<text x="457.7" y="104.4" font-size="4.6" text-anchor="middle" fill="#000">W6</text>
<text x="454.5" y="113.1" font-size="4.6" text-anchor="middle" fill="#000">W8+4d</text>
<text x="451" y="117.1" font-size="4.6" text-anchor="middle" fill="#000">W9</text>
<text x="447.3" y="120.7" font-size="4.6" text-anchor="middle" fill="#000">W11+4d</text>
<text x="453.8" y="137.7" font-size="4.6" text-anchor="middle" fill="#000">W10</text>
<text x="459" y="86.7" font-size="4.6" text-anchor="middle" fill="#000">W0</text>
<text x="438.8" y="100.5" font-size="4.6" text-anchor="middle" fill="#000">W7+5d</text>
<text x="434.9" y="120.1" font-size="4.6" text-anchor="middle" fill="#000">W8</text>
<text x="424.5" y="89.1" font-size="4.6" text-anchor="middle" fill="#000">W7+2d</text>
<text x="425.7" y="93.9" font-size="4.6" text-anchor="middle" fill="#000">W8</text>
<text x="452.5" y="97.2" font-size="4.6" text-anchor="middle" fill="#000">W0</text>
<text x="494.9" y="55.7" font-size="4.6" text-anchor="middle" fill="#000">W8+2d</text>
<text x="517.8" y="66.5" font-size="4.6" text-anchor="middle" fill="#000">W8+2d</text>
<text x="581.2" y="77.4" font-size="4.6" text-anchor="middle" fill="#000">W8+4d</text>
<text x="594.4" y="75" font-size="4.6" text-anchor="middle" fill="#000">W11+4d</text>
<text x="608.9" y="79.3" font-size="4.6" text-anchor="middle" fill="#000">W10</text>
<text x="601.6" y="84.6" font-size="4.6" text-anchor="middle" fill="#000">W10</text>
<text x="583.6" y="85.8" font-size="4.6" text-anchor="middle" fill="#000">W11+4d</text>
<text x="590.3" y="91.3" font-size="4.6" text-anchor="middle" fill="#000">W8+4d</text>
<text x="612" y="96.1" font-size="4.6" text-anchor="middle" fill="#000">W9</text>
<text x="612.5" y="105.1" font-size="4.6" text-anchor="middle" fill="#000">W11</text>
<text x="605.7" y="117.6" font-size="4.6" text-anchor="middle" fill="#000">W9</text>
<text x="427" y="68.2" font-size="4.6" text-anchor="middle" fill="#000">W7+2d</text>
<text x="428.5" y="71.5" font-size="4.6" text-anchor="middle" fill="#000">W11</text>
<text x="424" y="76.6" font-size="4.6" text-anchor="middle" fill="#000">W7+5d</text>
<text x="431.5" y="77.2" font-size="4.6" text-anchor="middle" fill="#000">W8+2d</text>
<text x="425" y="80.2" font-size="4.6" text-anchor="middle" fill="#000">W8+4d</text>
<text x="2.6" y="187.7" font-size="16.4" text-anchor="start" fill="#6E4D12">C</text>
<rect x="35.3" y="200.4" width="56.7" height="175.9" fill="#EBEBEB" stroke="none" stroke-width="1"/>
<line x1="35.3" y1="354.32" x2="92" y2="354.32" stroke="#F5F5F5" stroke-width="0.4"/>
<line x1="35.3" y1="310.38" x2="92" y2="310.38" stroke="#F5F5F5" stroke-width="0.4"/>
<line x1="35.3" y1="266.43" x2="92" y2="266.43" stroke="#F5F5F5" stroke-width="0.4"/>
<line x1="35.3" y1="222.48" x2="92" y2="222.48" stroke="#F5F5F5" stroke-width="0.4"/>
<line x1="35.3" y1="376.3" x2="92" y2="376.3" stroke="#FFFFFF" stroke-width="0.8"/>
<line x1="35.3" y1="332.35" x2="92" y2="332.35" stroke="#FFFFFF" stroke-width="0.8"/>
<line x1="35.3" y1="288.4" x2="92" y2="288.4" stroke="#FFFFFF" stroke-width="0.8"/>
<line x1="35.3" y1="244.45" x2="92" y2="244.45" stroke="#FFFFFF" stroke-width="0.8"/>
<line x1="35.3" y1="200.5" x2="92" y2="200.5" stroke="#FFFFFF" stroke-width="0.8"/>
<line x1="39.02" y1="200.4" x2="39.02" y2="376.3" stroke="#FFFFFF" stroke-width="0.8"/>
<line x1="45.18" y1="200.4" x2="45.18" y2="376.3" stroke="#FFFFFF" stroke-width="0.8"/>
<line x1="51.34" y1="200.4" x2="51.34" y2="376.3" stroke="#FFFFFF" stroke-width="0.8"/>
<line x1="57.5" y1="200.4" x2="57.5" y2="376.3" stroke="#FFFFFF" stroke-width="0.8"/>
<line x1="63.66" y1="200.4" x2="63.66" y2="376.3" stroke="#FFFFFF" stroke-width="0.8"/>
<line x1="69.82" y1="200.4" x2="69.82" y2="376.3" stroke="#FFFFFF" stroke-width="0.8"/>
<line x1="75.98" y1="200.4" x2="75.98" y2="376.3" stroke="#FFFFFF" stroke-width="0.8"/>
<line x1="82.14" y1="200.4" x2="82.14" y2="376.3" stroke="#FFFFFF" stroke-width="0.8"/>
<line x1="88.3" y1="200.4" x2="88.3" y2="376.3" stroke="#FFFFFF" stroke-width="0.8"/>
<polygon points="39.02,205.6 45.18,206.83 51.34,205.42 57.5,205.07 63.66,205.25 69.82,205.25 75.98,205.42 82.14,206.13 88.3,205.77 88.3,217.2 82.14,217.73 75.98,220.37 69.82,217.73 63.66,222.3 57.5,223.71 51.34,221.07 45.18,225.82 39.02,226.17" fill="#B7B7B7" stroke="none" stroke-width="1"/>
<polygon points="39.02,226.17 45.18,225.82 51.34,221.07 57.5,223.71 63.66,222.3 69.82,217.73 75.98,220.37 82.14,217.73 88.3,217.2 88.3,238.47 82.14,243.92 75.98,241.29 69.82,238.47 63.66,246.03 57.5,247.09 51.34,241.81 45.18,242.87 39.02,252.71" fill="#9E86C1" stroke="none" stroke-width="1"/>
<polygon points="39.02,252.71 45.18,242.87 51.34,241.81 57.5,247.09 63.66,246.03 69.82,238.47 75.98,241.29 82.14,243.92 88.3,238.47 88.3,251.13 82.14,259.74 75.98,253.24 69.82,251.83 63.66,257.99 57.5,257.99 51.34,253.24 45.18,253.24 39.02,264.14" fill="#FBE891" stroke="none" stroke-width="1"/>
<polygon points="39.02,264.14 45.18,253.24 51.34,253.24 57.5,257.99 63.66,257.99 69.82,251.83 75.98,253.24 82.14,259.74 88.3,251.13 88.3,260.45 82.14,269.06 75.98,264.67 69.82,262.56 63.66,270.12 57.5,272.23 51.34,270.12 45.18,268.01 39.02,282.25" fill="#D9556C" stroke="none" stroke-width="1"/>
<polygon points="39.02,282.25 45.18,268.01 51.34,270.12 57.5,272.23 63.66,270.12 69.82,262.56 75.98,264.67 82.14,269.06 88.3,260.45 88.3,266.43 82.14,272.93 75.98,269.06 69.82,269.06 63.66,282.25 57.5,280.66 51.34,280.14 45.18,281.19 39.02,289.98" fill="#E2E2E2" stroke="none" stroke-width="1"/>
<polygon points="39.02,289.98 45.18,281.19 51.34,280.14 57.5,280.66 63.66,282.25 69.82,269.06 75.98,269.06 82.14,272.93 88.3,266.43 88.3,287.35 82.14,290.16 75.98,295.78 69.82,296.31 63.66,301.94 57.5,305.98 51.34,308.27 45.18,303.69 39.02,295.26" fill="#CCE8C8" stroke="none" stroke-width="1"/>
<polygon points="39.02,295.26 45.18,303.69 51.34,308.27 57.5,305.98 63.66,301.94 69.82,296.31 75.98,295.78 82.14,290.16 88.3,287.35 88.3,307.03 82.14,311.43 75.98,308.27 69.82,308.62 63.66,309.32 57.5,312.13 51.34,314.59 45.18,310.38 39.02,299.65" fill="#F6A958" stroke="none" stroke-width="1"/>
<polygon points="39.02,299.65 45.18,310.38 51.34,314.59 57.5,312.13 63.66,309.32 69.82,308.62 75.98,308.27 82.14,311.43 88.3,307.03 88.3,313.19 82.14,321.1 75.98,316.7 69.82,318.99 63.66,319.52 57.5,321.1 51.34,322.86 45.18,314.42 39.02,309.32" fill="#DDDDDD" stroke="none" stroke-width="1"/>
<polygon points="39.02,309.32 45.18,314.42 51.34,322.86 57.5,321.1 63.66,319.52 69.82,318.99 75.98,316.7 82.14,321.1 88.3,313.19 88.3,322.33 82.14,327.43 75.98,323.38 69.82,328.48 63.66,326.2 57.5,331.3 51.34,329.54 45.18,318.81 39.02,317.76" fill="#DACCE4" stroke="none" stroke-width="1"/>
<polygon points="39.02,317.76 45.18,318.81 51.34,329.54 57.5,331.3 63.66,326.2 69.82,328.48 75.98,323.38 82.14,327.43 88.3,322.33 88.3,331.3 82.14,333.05 75.98,330.77 69.82,340.26 63.66,339.21 57.5,346.59 51.34,344.3 45.18,343.78 39.02,327.96" fill="#6BB86A" stroke="none" stroke-width="1"/>
<polygon points="39.02,327.96 45.18,343.78 51.34,344.3 57.5,346.59 63.66,339.21 69.82,340.26 75.98,330.77 82.14,333.05 88.3,331.3 88.3,335.87 82.14,337.1 75.98,338.15 69.82,346.59 63.66,344.83 57.5,349.05 51.34,349.93 45.18,346.59 39.02,338.15" fill="#BDBDBD" stroke="none" stroke-width="1"/>
<polygon points="39.02,338.15 45.18,346.59 51.34,349.93 57.5,349.05 63.66,344.83 69.82,346.59 75.98,338.15 82.14,337.1 88.3,335.87 88.3,344.3 82.14,348.35 75.98,350.46 69.82,353.27 63.66,349.4 57.5,352.74 51.34,356.26 45.18,349.4 39.02,344.3" fill="#E0E0E0" stroke="none" stroke-width="1"/>
<polygon points="39.02,344.3 45.18,349.4 51.34,356.26 57.5,352.74 63.66,349.4 69.82,353.27 75.98,350.46 82.14,348.35 88.3,344.3 88.3,346.59 82.14,350.63 75.98,352.74 69.82,355.56 63.66,351.69 57.5,355.03 51.34,358.54 45.18,351.69 39.02,346.59" fill="#9E86C1" stroke="none" stroke-width="1"/>
<polygon points="39.02,346.59 45.18,351.69 51.34,358.54 57.5,355.03 63.66,351.69 69.82,355.56 75.98,352.74 82.14,350.63 88.3,346.59 88.3,349.93 82.14,355.03 75.98,356.08 69.82,359.6 63.66,356.08 57.5,358.02 51.34,362.24 45.18,355.03 39.02,351.16" fill="#FBE891" stroke="none" stroke-width="1"/>
<polygon points="39.02,351.16 45.18,355.03 51.34,362.24 57.5,358.02 63.66,356.08 69.82,359.6 75.98,356.08 82.14,355.03 88.3,349.93 88.3,362.94 82.14,363.47 75.98,364.7 69.82,366.28 63.66,364.17 57.5,362.41 51.34,365.93 45.18,362.94 39.02,357.31" fill="#D9556C" stroke="none" stroke-width="1"/>
<polygon points="39.02,357.31 45.18,362.94 51.34,365.93 57.5,362.41 63.66,364.17 69.82,366.28 75.98,364.7 82.14,363.47 88.3,362.94 88.3,363.64 82.14,364.17 75.98,365.4 69.82,366.98 63.66,364.87 57.5,363.12 51.34,366.63 45.18,363.64 39.02,358.02" fill="#E2E2E2" stroke="none" stroke-width="1"/>
<polygon points="39.02,358.02 45.18,363.64 51.34,366.63 57.5,363.12 63.66,364.87 69.82,366.98 75.98,365.4 82.14,364.17 88.3,363.64 88.3,364.7 82.14,365.22 75.98,366.46 69.82,368.04 63.66,365.93 57.5,364.17 51.34,367.69 45.18,364.7 39.02,359.07" fill="#CCE8C8" stroke="none" stroke-width="1"/>
<polygon points="39.02,359.07 45.18,364.7 51.34,367.69 57.5,364.17 63.66,365.93 69.82,368.04 75.98,366.46 82.14,365.22 88.3,364.7 88.3,367.86 82.14,368.39 75.98,368.92 69.82,370.15 63.66,369.27 57.5,368.39 51.34,369.8 45.18,369.8 39.02,364.17" fill="#F6A958" stroke="none" stroke-width="1"/>
<polygon points="39.02,364.17 45.18,369.8 51.34,369.8 57.5,368.39 63.66,369.27 69.82,370.15 75.98,368.92 82.14,368.39 88.3,367.86 88.3,368.39 82.14,368.92 75.98,369.44 69.82,370.67 63.66,369.8 57.5,368.92 51.34,370.32 45.18,370.32 39.02,364.7" fill="#DDDDDD" stroke="none" stroke-width="1"/>
<polygon points="39.02,364.7 45.18,370.32 51.34,370.32 57.5,368.92 63.66,369.8 69.82,370.67 75.98,369.44 82.14,368.92 88.3,368.39 88.3,368.92 82.14,369.44 75.98,369.97 69.82,371.2 63.66,370.32 57.5,369.44 51.34,370.85 45.18,370.85 39.02,365.22" fill="#B3B3B3" stroke="none" stroke-width="1"/>
<polygon points="39.02,365.22 45.18,370.85 51.34,370.85 57.5,369.44 63.66,370.32 69.82,371.2 75.98,369.97 82.14,369.44 88.3,368.92 88.3,370.5 82.14,370.85 75.98,371.03 69.82,371.91 63.66,371.38 57.5,371.03 51.34,371.91 45.18,371.73 39.02,368.56" fill="#6BB86A" stroke="none" stroke-width="1"/>
<polygon points="39.02,368.56 45.18,371.73 51.34,371.91 57.5,371.03 63.66,371.38 69.82,371.91 75.98,371.03 82.14,370.85 88.3,370.5 88.3,371.38 82.14,371.73 75.98,371.91 69.82,372.78 63.66,372.26 57.5,371.91 51.34,372.78 45.18,372.61 39.02,369.44" fill="#BDBDBD" stroke="none" stroke-width="1"/>
<polygon points="39.02,369.44 45.18,372.61 51.34,372.78 57.5,371.91 63.66,372.26 69.82,372.78 75.98,371.91 82.14,371.73 88.3,371.38 88.3,371.91 82.14,372.26 75.98,372.43 69.82,373.31 63.66,372.78 57.5,372.43 51.34,373.31 45.18,373.14 39.02,369.97" fill="#E0E0E0" stroke="none" stroke-width="1"/>
<polygon points="39.02,369.97 45.18,373.14 51.34,373.31 57.5,372.43 63.66,372.78 69.82,373.31 75.98,372.43 82.14,372.26 88.3,371.91 88.3,372.26 82.14,372.43 75.98,372.78 69.82,373.31 63.66,373.14 57.5,372.78 51.34,373.31 45.18,373.14 39.02,369.97" fill="#9E86C1" stroke="none" stroke-width="1"/>
<polygon points="39.02,369.97 45.18,373.14 51.34,373.31 57.5,372.78 63.66,373.14 69.82,373.31 75.98,372.78 82.14,372.43 88.3,372.26 88.3,372.61 82.14,372.78 75.98,373.14 69.82,373.49 63.66,373.49 57.5,373.14 51.34,373.49 45.18,373.14 39.02,369.97" fill="#FBE891" stroke="none" stroke-width="1"/>
<polygon points="39.02,369.97 45.18,373.14 51.34,373.49 57.5,373.14 63.66,373.49 69.82,373.49 75.98,373.14 82.14,372.78 88.3,372.61 88.3,372.96 82.14,373.14 75.98,373.49 69.82,373.84 63.66,373.84 57.5,373.49 51.34,373.84 45.18,373.49 39.02,369.97" fill="#D9556C" stroke="none" stroke-width="1"/>
<polygon points="39.02,369.97 45.18,373.49 51.34,373.84 57.5,373.49 63.66,373.84 69.82,373.84 75.98,373.49 82.14,373.14 88.3,372.96 88.3,373.66 82.14,373.84 75.98,374.01 69.82,374.37 63.66,374.37 57.5,374.01 51.34,374.37 45.18,374.01 39.02,374.19" fill="#E2E2E2" stroke="none" stroke-width="1"/>
<polygon points="39.02,374.19 45.18,374.01 51.34,374.37 57.5,374.01 63.66,374.37 69.82,374.37 75.98,374.01 82.14,373.84 88.3,373.66 88.3,376.3 82.14,376.3 75.98,376.3 69.82,376.3 63.66,376.3 57.5,376.3 51.34,376.3 45.18,376.3 39.02,376.3" fill="#DACCE4" stroke="none" stroke-width="1"/>
<polyline points="39.02,205.6 45.18,206.83 51.34,205.42 57.5,205.07 63.66,205.25 69.82,205.25 75.98,205.42 82.14,206.13 88.3,205.77" fill="none" stroke="#ABABAB" stroke-width="0.45"/>
<polyline points="39.02,226.17 45.18,225.82 51.34,221.07 57.5,223.71 63.66,222.3 69.82,217.73 75.98,220.37 82.14,217.73 88.3,217.2" fill="none" stroke="#8C72B4" stroke-width="0.45"/>
<polyline points="39.02,252.71 45.18,242.87 51.34,241.81 57.5,247.09 63.66,246.03 69.82,238.47 75.98,241.29 82.14,243.92 88.3,238.47" fill="none" stroke="#F4DC78" stroke-width="0.45"/>
<polyline points="39.02,264.14 45.18,253.24 51.34,253.24 57.5,257.99 63.66,257.99 69.82,251.83 75.98,253.24 82.14,259.74 88.3,251.13" fill="none" stroke="#D23F5A" stroke-width="0.45"/>
<polyline points="39.02,282.25 45.18,268.01 51.34,270.12 57.5,272.23 63.66,270.12 69.82,262.56 75.98,264.67 82.14,269.06 88.3,260.45" fill="none" stroke="#D8D8D8" stroke-width="0.45"/>
<polyline points="39.02,289.98 45.18,281.19 51.34,280.14 57.5,280.66 63.66,282.25 69.82,269.06 75.98,269.06 82.14,272.93 88.3,266.43" fill="none" stroke="#BFE0BA" stroke-width="0.45"/>
<polyline points="39.02,295.26 45.18,303.69 51.34,308.27 57.5,305.98 63.66,301.94 69.82,296.31 75.98,295.78 82.14,290.16 88.3,287.35" fill="none" stroke="#F19A40" stroke-width="0.45"/>
<polyline points="39.02,299.65 45.18,310.38 51.34,314.59 57.5,312.13 63.66,309.32 69.82,308.62 75.98,308.27 82.14,311.43 88.3,307.03" fill="none" stroke="#D2D2D2" stroke-width="0.45"/>
<polyline points="39.02,309.32 45.18,314.42 51.34,322.86 57.5,321.1 63.66,319.52 69.82,318.99 75.98,316.7 82.14,321.1 88.3,313.19" fill="none" stroke="#CDBCDA" stroke-width="0.45"/>
<polyline points="39.02,317.76 45.18,318.81 51.34,329.54 57.5,331.3 63.66,326.2 69.82,328.48 75.98,323.38 82.14,327.43 88.3,322.33" fill="none" stroke="#5AAE59" stroke-width="0.45"/>
<polyline points="39.02,327.96 45.18,343.78 51.34,344.3 57.5,346.59 63.66,339.21 69.82,340.26 75.98,330.77 82.14,333.05 88.3,331.3" fill="none" stroke="#B0B0B0" stroke-width="0.45"/>
<polyline points="39.02,338.15 45.18,346.59 51.34,349.93 57.5,349.05 63.66,344.83 69.82,346.59 75.98,338.15 82.14,337.1 88.3,335.87" fill="none" stroke="#D5D5D5" stroke-width="0.45"/>
<polyline points="39.02,344.3 45.18,349.4 51.34,356.26 57.5,352.74 63.66,349.4 69.82,353.27 75.98,350.46 82.14,348.35 88.3,344.3" fill="none" stroke="#8C72B4" stroke-width="0.45"/>
<polyline points="39.02,346.59 45.18,351.69 51.34,358.54 57.5,355.03 63.66,351.69 69.82,355.56 75.98,352.74 82.14,350.63 88.3,346.59" fill="none" stroke="#F4DC78" stroke-width="0.45"/>
<polyline points="39.02,351.16 45.18,355.03 51.34,362.24 57.5,358.02 63.66,356.08 69.82,359.6 75.98,356.08 82.14,355.03 88.3,349.93" fill="none" stroke="#D23F5A" stroke-width="0.45"/>
<polyline points="39.02,357.31 45.18,362.94 51.34,365.93 57.5,362.41 63.66,364.17 69.82,366.28 75.98,364.7 82.14,363.47 88.3,362.94" fill="none" stroke="#D8D8D8" stroke-width="0.45"/>
<polyline points="39.02,358.02 45.18,363.64 51.34,366.63 57.5,363.12 63.66,364.87 69.82,366.98 75.98,365.4 82.14,364.17 88.3,363.64" fill="none" stroke="#BFE0BA" stroke-width="0.45"/>
<polyline points="39.02,359.07 45.18,364.7 51.34,367.69 57.5,364.17 63.66,365.93 69.82,368.04 75.98,366.46 82.14,365.22 88.3,364.7" fill="none" stroke="#F19A40" stroke-width="0.45"/>
<polyline points="39.02,364.17 45.18,369.8 51.34,369.8 57.5,368.39 63.66,369.27 69.82,370.15 75.98,368.92 82.14,368.39 88.3,367.86" fill="none" stroke="#D2D2D2" stroke-width="0.45"/>
<polyline points="39.02,364.7 45.18,370.32 51.34,370.32 57.5,368.92 63.66,369.8 69.82,370.67 75.98,369.44 82.14,368.92 88.3,368.39" fill="none" stroke="#A8A8A8" stroke-width="0.45"/>
<polyline points="39.02,365.22 45.18,370.85 51.34,370.85 57.5,369.44 63.66,370.32 69.82,371.2 75.98,369.97 82.14,369.44 88.3,368.92" fill="none" stroke="#5AAE59" stroke-width="0.45"/>
<polyline points="39.02,368.56 45.18,371.73 51.34,371.91 57.5,371.03 63.66,371.38 69.82,371.91 75.98,371.03 82.14,370.85 88.3,370.5" fill="none" stroke="#B0B0B0" stroke-width="0.45"/>
<polyline points="39.02,369.44 45.18,372.61 51.34,372.78 57.5,371.91 63.66,372.26 69.82,372.78 75.98,371.91 82.14,371.73 88.3,371.38" fill="none" stroke="#D5D5D5" stroke-width="0.45"/>
<polyline points="39.02,369.97 45.18,373.14 51.34,373.31 57.5,372.43 63.66,372.78 69.82,373.31 75.98,372.43 82.14,372.26 88.3,371.91" fill="none" stroke="#8C72B4" stroke-width="0.45"/>
<polyline points="39.02,369.97 45.18,373.14 51.34,373.31 57.5,372.78 63.66,373.14 69.82,373.31 75.98,372.78 82.14,372.43 88.3,372.26" fill="none" stroke="#F4DC78" stroke-width="0.45"/>
<polyline points="39.02,369.97 45.18,373.14 51.34,373.49 57.5,373.14 63.66,373.49 69.82,373.49 75.98,373.14 82.14,372.78 88.3,372.61" fill="none" stroke="#D23F5A" stroke-width="0.45"/>
<polyline points="39.02,369.97 45.18,373.49 51.34,373.84 57.5,373.49 63.66,373.84 69.82,373.84 75.98,373.49 82.14,373.14 88.3,372.96" fill="none" stroke="#D8D8D8" stroke-width="0.45"/>
<polyline points="39.02,374.19 45.18,374.01 51.34,374.37 57.5,374.01 63.66,374.37 69.82,374.37 75.98,374.01 82.14,373.84 88.3,373.66" fill="none" stroke="#CDBCDA" stroke-width="0.45"/>
<line x1="39.02" y1="200.4" x2="39.02" y2="376.3" stroke="#FFFFFF" stroke-width="0.7" opacity="0.22"/>
<line x1="45.18" y1="200.4" x2="45.18" y2="376.3" stroke="#FFFFFF" stroke-width="0.7" opacity="0.22"/>
<line x1="51.34" y1="200.4" x2="51.34" y2="376.3" stroke="#FFFFFF" stroke-width="0.7" opacity="0.22"/>
<line x1="57.5" y1="200.4" x2="57.5" y2="376.3" stroke="#FFFFFF" stroke-width="0.7" opacity="0.22"/>
<line x1="63.66" y1="200.4" x2="63.66" y2="376.3" stroke="#FFFFFF" stroke-width="0.7" opacity="0.22"/>
<line x1="69.82" y1="200.4" x2="69.82" y2="376.3" stroke="#FFFFFF" stroke-width="0.7" opacity="0.22"/>
<line x1="75.98" y1="200.4" x2="75.98" y2="376.3" stroke="#FFFFFF" stroke-width="0.7" opacity="0.22"/>
<line x1="82.14" y1="200.4" x2="82.14" y2="376.3" stroke="#FFFFFF" stroke-width="0.7" opacity="0.22"/>
<line x1="88.3" y1="200.4" x2="88.3" y2="376.3" stroke="#FFFFFF" stroke-width="0.7" opacity="0.22"/>
<line x1="35.3" y1="332.35" x2="92" y2="332.35" stroke="#FFFFFF" stroke-width="0.7" opacity="0.22"/>
<line x1="35.3" y1="288.4" x2="92" y2="288.4" stroke="#FFFFFF" stroke-width="0.7" opacity="0.22"/>
<line x1="35.3" y1="244.45" x2="92" y2="244.45" stroke="#FFFFFF" stroke-width="0.7" opacity="0.22"/>
<line x1="35.3" y1="354.32" x2="92" y2="354.32" stroke="#FFFFFF" stroke-width="0.45" opacity="0.18"/>
<line x1="35.3" y1="310.38" x2="92" y2="310.38" stroke="#FFFFFF" stroke-width="0.45" opacity="0.18"/>
<line x1="35.3" y1="266.43" x2="92" y2="266.43" stroke="#FFFFFF" stroke-width="0.45" opacity="0.18"/>
<line x1="35.3" y1="222.48" x2="92" y2="222.48" stroke="#FFFFFF" stroke-width="0.45" opacity="0.18"/>
<rect x="35.3" y="189.2" width="56.7" height="11.2" fill="#D9D9D9" stroke="none" stroke-width="1"/>
<text x="63.65" y="197.6" font-size="7.3" text-anchor="middle" font-weight="normal" fill="#1A1A1A">Simple<tspan font-size="5.0" dy="1.4">ref</tspan></text>
<line x1="39.02" y1="376.3" x2="39.02" y2="378.1" stroke="#333" stroke-width="0.5"/>
<text x="40.32" y="380.6" font-size="5" text-anchor="end" fill="#333" transform="rotate(-45 40.32 380.6)">W0</text>
<line x1="45.18" y1="376.3" x2="45.18" y2="378.1" stroke="#333" stroke-width="0.5"/>
<text x="46.48" y="380.6" font-size="5" text-anchor="end" fill="#333" transform="rotate(-45 46.48 380.6)">W4</text>
<line x1="51.34" y1="376.3" x2="51.34" y2="378.1" stroke="#333" stroke-width="0.5"/>
<text x="52.64" y="380.6" font-size="5" text-anchor="end" fill="#333" transform="rotate(-45 52.64 380.6)">W7+2d</text>
<line x1="57.5" y1="376.3" x2="57.5" y2="378.1" stroke="#333" stroke-width="0.5"/>
<text x="58.8" y="380.6" font-size="5" text-anchor="end" fill="#333" transform="rotate(-45 58.8 380.6)">W7+5d</text>
<line x1="63.66" y1="376.3" x2="63.66" y2="378.1" stroke="#333" stroke-width="0.5"/>
<text x="64.96" y="380.6" font-size="5" text-anchor="end" fill="#333" transform="rotate(-45 64.96 380.6)">W8+4d</text>
<line x1="69.82" y1="376.3" x2="69.82" y2="378.1" stroke="#333" stroke-width="0.5"/>
<text x="71.12" y="380.6" font-size="5" text-anchor="end" fill="#333" transform="rotate(-45 71.12 380.6)">W9</text>
<line x1="75.98" y1="376.3" x2="75.98" y2="378.1" stroke="#333" stroke-width="0.5"/>
<text x="77.28" y="380.6" font-size="5" text-anchor="end" fill="#333" transform="rotate(-45 77.28 380.6)">W10</text>
<line x1="82.14" y1="376.3" x2="82.14" y2="378.1" stroke="#333" stroke-width="0.5"/>
<text x="83.44" y="380.6" font-size="5" text-anchor="end" fill="#333" transform="rotate(-45 83.44 380.6)">W11</text>
<line x1="88.3" y1="376.3" x2="88.3" y2="378.1" stroke="#333" stroke-width="0.5"/>
<text x="89.6" y="380.6" font-size="5" text-anchor="end" fill="#333" transform="rotate(-45 89.6 380.6)">W11+4d</text>
<rect x="92.7" y="200.4" width="56.7" height="175.9" fill="#EBEBEB" stroke="none" stroke-width="1"/>
<line x1="92.7" y1="354.32" x2="149.4" y2="354.32" stroke="#F5F5F5" stroke-width="0.4"/>
<line x1="92.7" y1="310.38" x2="149.4" y2="310.38" stroke="#F5F5F5" stroke-width="0.4"/>
<line x1="92.7" y1="266.43" x2="149.4" y2="266.43" stroke="#F5F5F5" stroke-width="0.4"/>
<line x1="92.7" y1="222.48" x2="149.4" y2="222.48" stroke="#F5F5F5" stroke-width="0.4"/>
<line x1="92.7" y1="376.3" x2="149.4" y2="376.3" stroke="#FFFFFF" stroke-width="0.8"/>
<line x1="92.7" y1="332.35" x2="149.4" y2="332.35" stroke="#FFFFFF" stroke-width="0.8"/>
<line x1="92.7" y1="288.4" x2="149.4" y2="288.4" stroke="#FFFFFF" stroke-width="0.8"/>
<line x1="92.7" y1="244.45" x2="149.4" y2="244.45" stroke="#FFFFFF" stroke-width="0.8"/>
<line x1="92.7" y1="200.5" x2="149.4" y2="200.5" stroke="#FFFFFF" stroke-width="0.8"/>
<line x1="96.42" y1="200.4" x2="96.42" y2="376.3" stroke="#FFFFFF" stroke-width="0.8"/>
<line x1="102.58" y1="200.4" x2="102.58" y2="376.3" stroke="#FFFFFF" stroke-width="0.8"/>
<line x1="108.74" y1="200.4" x2="108.74" y2="376.3" stroke="#FFFFFF" stroke-width="0.8"/>
<line x1="114.9" y1="200.4" x2="114.9" y2="376.3" stroke="#FFFFFF" stroke-width="0.8"/>
<line x1="121.06" y1="200.4" x2="121.06" y2="376.3" stroke="#FFFFFF" stroke-width="0.8"/>
<line x1="127.22" y1="200.4" x2="127.22" y2="376.3" stroke="#FFFFFF" stroke-width="0.8"/>
<line x1="133.38" y1="200.4" x2="133.38" y2="376.3" stroke="#FFFFFF" stroke-width="0.8"/>
<line x1="139.54" y1="200.4" x2="139.54" y2="376.3" stroke="#FFFFFF" stroke-width="0.8"/>
<line x1="145.7" y1="200.4" x2="145.7" y2="376.3" stroke="#FFFFFF" stroke-width="0.8"/>
<polygon points="96.42,207.36 102.58,205.77 108.74,205.25 114.9,206.3 121.06,206.3 127.22,205.95 133.38,205.42 139.54,205.6 145.7,208.41 145.7,246.03 139.54,276.8 133.38,258.16 127.22,282.77 121.06,270.12 114.9,220.37 108.74,219.31 102.58,232.5 96.42,228.1" fill="#B7B7B7" stroke="none" stroke-width="1"/>
<polygon points="96.42,228.1 102.58,232.5 108.74,219.31 114.9,220.37 121.06,270.12 127.22,282.77 133.38,258.16 139.54,276.8 145.7,246.03 145.7,273.46 139.54,296.31 133.38,276.27 127.22,298.07 121.06,281.19 114.9,236.36 108.74,241.81 102.58,252.71 96.42,252.19" fill="#9E86C1" stroke="none" stroke-width="1"/>
<polygon points="96.42,252.19 102.58,252.71 108.74,241.81 114.9,236.36 121.06,281.19 127.22,298.07 133.38,276.27 139.54,296.31 145.7,273.46 145.7,284.88 139.54,318.11 133.38,304.4 127.22,312.13 121.06,318.99 114.9,293.67 108.74,247.26 102.58,260.98 96.42,260.98" fill="#FBE891" stroke="none" stroke-width="1"/>
<polygon points="96.42,260.98 102.58,260.98 108.74,247.26 114.9,293.67 121.06,318.99 127.22,312.13 133.38,304.4 139.54,318.11 145.7,284.88 145.7,298.95 139.54,325.14 133.38,310.9 127.22,321.63 121.06,328.66 114.9,305.98 108.74,255 102.58,284.53 96.42,285.41" fill="#D9556C" stroke="none" stroke-width="1"/>
<polygon points="96.42,285.41 102.58,284.53 108.74,255 114.9,305.98 121.06,328.66 127.22,321.63 133.38,310.9 139.54,325.14 145.7,298.95 145.7,302.46 139.54,328.83 133.38,327.08 127.22,327.08 121.06,329.71 114.9,309.5 108.74,257.63 102.58,287.52 96.42,288.93" fill="#E2E2E2" stroke="none" stroke-width="1"/>
<polygon points="96.42,288.93 102.58,287.52 108.74,257.63 114.9,309.5 121.06,329.71 127.22,327.08 133.38,327.08 139.54,328.83 145.7,302.46 145.7,304.22 139.54,331.12 133.38,330.59 127.22,329.89 121.06,331.12 114.9,313.01 108.74,304.4 102.58,307.91 96.42,291.04" fill="#CCE8C8" stroke="none" stroke-width="1"/>
<polygon points="96.42,291.04 102.58,307.91 108.74,304.4 114.9,313.01 121.06,331.12 127.22,329.89 133.38,330.59 139.54,331.12 145.7,304.22 145.7,313.01 139.54,339.38 133.38,338.33 127.22,339.38 121.06,341.84 114.9,325.32 108.74,318.11 102.58,316.18 96.42,303.69" fill="#F6A958" stroke="none" stroke-width="1"/>
<polygon points="96.42,303.69 102.58,316.18 108.74,318.11 114.9,325.32 121.06,341.84 127.22,339.38 133.38,338.33 139.54,339.38 145.7,313.01 145.7,318.29 139.54,346.59 133.38,344.83 127.22,344.13 121.06,347.12 114.9,330.59 108.74,326.37 102.58,325.85 96.42,304.93" fill="#DDDDDD" stroke="none" stroke-width="1"/>
<polygon points="96.42,304.93 102.58,325.85 108.74,326.37 114.9,330.59 121.06,347.12 127.22,344.13 133.38,344.83 139.54,346.59 145.7,318.29 145.7,320.04 139.54,351.69 133.38,351.34 127.22,352.57 121.06,351.34 114.9,334.11 108.74,331.12 102.58,329.36 96.42,310.9" fill="#DACCE4" stroke="none" stroke-width="1"/>
<polygon points="96.42,310.9 102.58,329.36 108.74,331.12 114.9,334.11 121.06,351.34 127.22,352.57 133.38,351.34 139.54,351.69 145.7,320.04 145.7,323.56 139.54,353.8 133.38,353.8 127.22,354.32 121.06,353.09 114.9,342.02 108.74,337.1 102.58,334.64 96.42,319.17" fill="#6BB86A" stroke="none" stroke-width="1"/>
<polygon points="96.42,319.17 102.58,334.64 108.74,337.1 114.9,342.02 121.06,353.09 127.22,354.32 133.38,353.8 139.54,353.8 145.7,323.56 145.7,325.32 139.54,357.31 133.38,358.54 127.22,357.31 121.06,356.08 114.9,346.41 108.74,342.9 102.58,344.13 96.42,337.1" fill="#BDBDBD" stroke="none" stroke-width="1"/>
<polygon points="96.42,337.1 102.58,344.13 108.74,342.9 114.9,346.41 121.06,356.08 127.22,357.31 133.38,358.54 139.54,357.31 145.7,325.32 145.7,327.08 139.54,358.72 133.38,359.6 127.22,358.54 121.06,356.79 114.9,349.93 108.74,348.17 102.58,350.11 96.42,339.38" fill="#E0E0E0" stroke="none" stroke-width="1"/>
<polygon points="96.42,339.38 102.58,350.11 108.74,348.17 114.9,349.93 121.06,356.79 127.22,358.54 133.38,359.6 139.54,358.72 145.7,327.08 145.7,330.59 139.54,362.24 133.38,362.59 127.22,362.06 121.06,360.83 114.9,352.57 108.74,350.81 102.58,353.8 96.42,346.59" fill="#9E86C1" stroke="none" stroke-width="1"/>
<polygon points="96.42,346.59 102.58,353.8 108.74,350.81 114.9,352.57 121.06,360.83 127.22,362.06 133.38,362.59 139.54,362.24 145.7,330.59 145.7,332.35 139.54,363.29 133.38,363.82 127.22,363.29 121.06,362.06 114.9,356.08 108.74,354.32 102.58,359.07 96.42,350.11" fill="#FBE891" stroke="none" stroke-width="1"/>
<polygon points="96.42,350.11 102.58,359.07 108.74,354.32 114.9,356.08 121.06,362.06 127.22,363.29 133.38,363.82 139.54,363.29 145.7,332.35 145.7,334.11 139.54,364.35 133.38,365.05 127.22,364.35 121.06,363.29 114.9,359.6 108.74,359.6 102.58,363.29 96.42,356.08" fill="#D9556C" stroke="none" stroke-width="1"/>
<polygon points="96.42,356.08 102.58,363.29 108.74,359.6 114.9,359.6 121.06,363.29 127.22,364.35 133.38,365.05 139.54,364.35 145.7,334.11 145.7,335.87 139.54,365.58 133.38,365.93 127.22,365.58 121.06,365.05 114.9,361.36 108.74,361.36 102.58,364.35 96.42,357.31" fill="#E2E2E2" stroke="none" stroke-width="1"/>
<polygon points="96.42,357.31 102.58,364.35 108.74,361.36 114.9,361.36 121.06,365.05 127.22,365.58 133.38,365.93 139.54,365.58 145.7,335.87 145.7,337.62 139.54,366.81 133.38,367.33 127.22,367.33 121.06,366.28 114.9,362.24 108.74,363.12 102.58,365.58 96.42,359.77" fill="#CCE8C8" stroke="none" stroke-width="1"/>
<polygon points="96.42,359.77 102.58,365.58 108.74,363.12 114.9,362.24 121.06,366.28 127.22,367.33 133.38,367.33 139.54,366.81 145.7,337.62 145.7,339.38 139.54,369.27 133.38,369.8 127.22,369.27 121.06,368.56 114.9,365.75 108.74,369.27 102.58,370.32 96.42,363.29" fill="#F6A958" stroke="none" stroke-width="1"/>
<polygon points="96.42,363.29 102.58,370.32 108.74,369.27 114.9,365.75 121.06,368.56 127.22,369.27 133.38,369.8 139.54,369.27 145.7,339.38 145.7,341.14 139.54,369.97 133.38,370.32 127.22,369.97 121.06,369.27 114.9,366.63 108.74,369.62 102.58,370.67 96.42,363.82" fill="#DDDDDD" stroke="none" stroke-width="1"/>
<polygon points="96.42,363.82 102.58,370.67 108.74,369.62 114.9,366.63 121.06,369.27 127.22,369.97 133.38,370.32 139.54,369.97 145.7,341.14 145.7,342.02 139.54,371.38 133.38,372.08 127.22,371.55 121.06,371.03 114.9,369.27 108.74,369.97 102.58,371.03 96.42,363.99" fill="#B3B3B3" stroke="none" stroke-width="1"/>
<polygon points="96.42,363.99 102.58,371.03 108.74,369.97 114.9,369.27 121.06,371.03 127.22,371.55 133.38,372.08 139.54,371.38 145.7,342.02 145.7,342.9 139.54,373.14 133.38,374.01 127.22,373.31 121.06,372.78 114.9,371.91 108.74,371.73 102.58,372.78 96.42,368.04" fill="#6BB86A" stroke="none" stroke-width="1"/>
<polygon points="96.42,368.04 102.58,372.78 108.74,371.73 114.9,371.91 121.06,372.78 127.22,373.31 133.38,374.01 139.54,373.14 145.7,342.9 145.7,343.78 139.54,373.84 133.38,374.37 127.22,373.84 121.06,373.49 114.9,372.78 108.74,372.78 102.58,373.66 96.42,368.39" fill="#BDBDBD" stroke="none" stroke-width="1"/>
<polygon points="96.42,368.39 102.58,373.66 108.74,372.78 114.9,372.78 121.06,373.49 127.22,373.84 133.38,374.37 139.54,373.84 145.7,343.78 145.7,344.66 139.54,374.37 133.38,374.72 127.22,374.37 121.06,374.01 114.9,373.49 108.74,373.49 102.58,374.19 96.42,368.56" fill="#E0E0E0" stroke="none" stroke-width="1"/>
<polygon points="96.42,368.56 102.58,374.19 108.74,373.49 114.9,373.49 121.06,374.01 127.22,374.37 133.38,374.72 139.54,374.37 145.7,344.66 145.7,346.41 139.54,375.07 133.38,375.25 127.22,375.07 121.06,374.89 114.9,374.54 108.74,374.54 102.58,375.07 96.42,370.32" fill="#9E86C1" stroke="none" stroke-width="1"/>
<polygon points="96.42,370.32 102.58,375.07 108.74,374.54 114.9,374.54 121.06,374.89 127.22,375.07 133.38,375.25 139.54,375.07 145.7,346.41 145.7,372.78 139.54,375.25 133.38,375.42 127.22,375.25 121.06,375.07 114.9,374.72 108.74,374.72 102.58,375.25 96.42,370.5" fill="#FBE891" stroke="none" stroke-width="1"/>
<polygon points="96.42,370.5 102.58,375.25 108.74,374.72 114.9,374.72 121.06,375.07 127.22,375.25 133.38,375.42 139.54,375.25 145.7,372.78 145.7,374.54 139.54,375.77 133.38,375.77 127.22,375.77 121.06,375.77 114.9,375.6 108.74,375.6 102.58,375.77 96.42,375.07" fill="#D9556C" stroke="none" stroke-width="1"/>
<polygon points="96.42,375.07 102.58,375.77 108.74,375.6 114.9,375.6 121.06,375.77 127.22,375.77 133.38,375.77 139.54,375.77 145.7,374.54 145.7,375.42 139.54,375.95 133.38,375.95 127.22,375.95 121.06,375.95 114.9,375.77 108.74,375.77 102.58,375.95 96.42,375.42" fill="#E2E2E2" stroke="none" stroke-width="1"/>
<polygon points="96.42,375.42 102.58,375.95 108.74,375.77 114.9,375.77 121.06,375.95 127.22,375.95 133.38,375.95 139.54,375.95 145.7,375.42 145.7,376.3 139.54,376.3 133.38,376.3 127.22,376.3 121.06,376.3 114.9,376.3 108.74,376.3 102.58,376.3 96.42,376.3" fill="#DACCE4" stroke="none" stroke-width="1"/>
<polyline points="96.42,207.36 102.58,205.77 108.74,205.25 114.9,206.3 121.06,206.3 127.22,205.95 133.38,205.42 139.54,205.6 145.7,208.41" fill="none" stroke="#ABABAB" stroke-width="0.45"/>
<polyline points="96.42,228.1 102.58,232.5 108.74,219.31 114.9,220.37 121.06,270.12 127.22,282.77 133.38,258.16 139.54,276.8 145.7,246.03" fill="none" stroke="#8C72B4" stroke-width="0.45"/>
<polyline points="96.42,252.19 102.58,252.71 108.74,241.81 114.9,236.36 121.06,281.19 127.22,298.07 133.38,276.27 139.54,296.31 145.7,273.46" fill="none" stroke="#F4DC78" stroke-width="0.45"/>
<polyline points="96.42,260.98 102.58,260.98 108.74,247.26 114.9,293.67 121.06,318.99 127.22,312.13 133.38,304.4 139.54,318.11 145.7,284.88" fill="none" stroke="#D23F5A" stroke-width="0.45"/>
<polyline points="96.42,285.41 102.58,284.53 108.74,255 114.9,305.98 121.06,328.66 127.22,321.63 133.38,310.9 139.54,325.14 145.7,298.95" fill="none" stroke="#D8D8D8" stroke-width="0.45"/>
<polyline points="96.42,288.93 102.58,287.52 108.74,257.63 114.9,309.5 121.06,329.71 127.22,327.08 133.38,327.08 139.54,328.83 145.7,302.46" fill="none" stroke="#BFE0BA" stroke-width="0.45"/>
<polyline points="96.42,291.04 102.58,307.91 108.74,304.4 114.9,313.01 121.06,331.12 127.22,329.89 133.38,330.59 139.54,331.12 145.7,304.22" fill="none" stroke="#F19A40" stroke-width="0.45"/>
<polyline points="96.42,303.69 102.58,316.18 108.74,318.11 114.9,325.32 121.06,341.84 127.22,339.38 133.38,338.33 139.54,339.38 145.7,313.01" fill="none" stroke="#D2D2D2" stroke-width="0.45"/>
<polyline points="96.42,304.93 102.58,325.85 108.74,326.37 114.9,330.59 121.06,347.12 127.22,344.13 133.38,344.83 139.54,346.59 145.7,318.29" fill="none" stroke="#CDBCDA" stroke-width="0.45"/>
<polyline points="96.42,310.9 102.58,329.36 108.74,331.12 114.9,334.11 121.06,351.34 127.22,352.57 133.38,351.34 139.54,351.69 145.7,320.04" fill="none" stroke="#5AAE59" stroke-width="0.45"/>
<polyline points="96.42,319.17 102.58,334.64 108.74,337.1 114.9,342.02 121.06,353.09 127.22,354.32 133.38,353.8 139.54,353.8 145.7,323.56" fill="none" stroke="#B0B0B0" stroke-width="0.45"/>
<polyline points="96.42,337.1 102.58,344.13 108.74,342.9 114.9,346.41 121.06,356.08 127.22,357.31 133.38,358.54 139.54,357.31 145.7,325.32" fill="none" stroke="#D5D5D5" stroke-width="0.45"/>
<polyline points="96.42,339.38 102.58,350.11 108.74,348.17 114.9,349.93 121.06,356.79 127.22,358.54 133.38,359.6 139.54,358.72 145.7,327.08" fill="none" stroke="#8C72B4" stroke-width="0.45"/>
<polyline points="96.42,346.59 102.58,353.8 108.74,350.81 114.9,352.57 121.06,360.83 127.22,362.06 133.38,362.59 139.54,362.24 145.7,330.59" fill="none" stroke="#F4DC78" stroke-width="0.45"/>
<polyline points="96.42,350.11 102.58,359.07 108.74,354.32 114.9,356.08 121.06,362.06 127.22,363.29 133.38,363.82 139.54,363.29 145.7,332.35" fill="none" stroke="#D23F5A" stroke-width="0.45"/>
<polyline points="96.42,356.08 102.58,363.29 108.74,359.6 114.9,359.6 121.06,363.29 127.22,364.35 133.38,365.05 139.54,364.35 145.7,334.11" fill="none" stroke="#D8D8D8" stroke-width="0.45"/>
<polyline points="96.42,357.31 102.58,364.35 108.74,361.36 114.9,361.36 121.06,365.05 127.22,365.58 133.38,365.93 139.54,365.58 145.7,335.87" fill="none" stroke="#BFE0BA" stroke-width="0.45"/>
<polyline points="96.42,359.77 102.58,365.58 108.74,363.12 114.9,362.24 121.06,366.28 127.22,367.33 133.38,367.33 139.54,366.81 145.7,337.62" fill="none" stroke="#F19A40" stroke-width="0.45"/>
<polyline points="96.42,363.29 102.58,370.32 108.74,369.27 114.9,365.75 121.06,368.56 127.22,369.27 133.38,369.8 139.54,369.27 145.7,339.38" fill="none" stroke="#D2D2D2" stroke-width="0.45"/>
<polyline points="96.42,363.82 102.58,370.67 108.74,369.62 114.9,366.63 121.06,369.27 127.22,369.97 133.38,370.32 139.54,369.97 145.7,341.14" fill="none" stroke="#A8A8A8" stroke-width="0.45"/>
<polyline points="96.42,363.99 102.58,371.03 108.74,369.97 114.9,369.27 121.06,371.03 127.22,371.55 133.38,372.08 139.54,371.38 145.7,342.02" fill="none" stroke="#5AAE59" stroke-width="0.45"/>
<polyline points="96.42,368.04 102.58,372.78 108.74,371.73 114.9,371.91 121.06,372.78 127.22,373.31 133.38,374.01 139.54,373.14 145.7,342.9" fill="none" stroke="#B0B0B0" stroke-width="0.45"/>
<polyline points="96.42,368.39 102.58,373.66 108.74,372.78 114.9,372.78 121.06,373.49 127.22,373.84 133.38,374.37 139.54,373.84 145.7,343.78" fill="none" stroke="#D5D5D5" stroke-width="0.45"/>
<polyline points="96.42,368.56 102.58,374.19 108.74,373.49 114.9,373.49 121.06,374.01 127.22,374.37 133.38,374.72 139.54,374.37 145.7,344.66" fill="none" stroke="#8C72B4" stroke-width="0.45"/>
<polyline points="96.42,370.32 102.58,375.07 108.74,374.54 114.9,374.54 121.06,374.89 127.22,375.07 133.38,375.25 139.54,375.07 145.7,346.41" fill="none" stroke="#F4DC78" stroke-width="0.45"/>
<polyline points="96.42,370.5 102.58,375.25 108.74,374.72 114.9,374.72 121.06,375.07 127.22,375.25 133.38,375.42 139.54,375.25 145.7,372.78" fill="none" stroke="#D23F5A" stroke-width="0.45"/>
<polyline points="96.42,375.07 102.58,375.77 108.74,375.6 114.9,375.6 121.06,375.77 127.22,375.77 133.38,375.77 139.54,375.77 145.7,374.54" fill="none" stroke="#D8D8D8" stroke-width="0.45"/>
<polyline points="96.42,375.42 102.58,375.95 108.74,375.77 114.9,375.77 121.06,375.95 127.22,375.95 133.38,375.95 139.54,375.95 145.7,375.42" fill="none" stroke="#CDBCDA" stroke-width="0.45"/>
<line x1="96.42" y1="200.4" x2="96.42" y2="376.3" stroke="#FFFFFF" stroke-width="0.7" opacity="0.22"/>
<line x1="102.58" y1="200.4" x2="102.58" y2="376.3" stroke="#FFFFFF" stroke-width="0.7" opacity="0.22"/>
<line x1="108.74" y1="200.4" x2="108.74" y2="376.3" stroke="#FFFFFF" stroke-width="0.7" opacity="0.22"/>
<line x1="114.9" y1="200.4" x2="114.9" y2="376.3" stroke="#FFFFFF" stroke-width="0.7" opacity="0.22"/>
<line x1="121.06" y1="200.4" x2="121.06" y2="376.3" stroke="#FFFFFF" stroke-width="0.7" opacity="0.22"/>
<line x1="127.22" y1="200.4" x2="127.22" y2="376.3" stroke="#FFFFFF" stroke-width="0.7" opacity="0.22"/>
<line x1="133.38" y1="200.4" x2="133.38" y2="376.3" stroke="#FFFFFF" stroke-width="0.7" opacity="0.22"/>
<line x1="139.54" y1="200.4" x2="139.54" y2="376.3" stroke="#FFFFFF" stroke-width="0.7" opacity="0.22"/>
<line x1="145.7" y1="200.4" x2="145.7" y2="376.3" stroke="#FFFFFF" stroke-width="0.7" opacity="0.22"/>
<line x1="92.7" y1="332.35" x2="149.4" y2="332.35" stroke="#FFFFFF" stroke-width="0.7" opacity="0.22"/>
<line x1="92.7" y1="288.4" x2="149.4" y2="288.4" stroke="#FFFFFF" stroke-width="0.7" opacity="0.22"/>
<line x1="92.7" y1="244.45" x2="149.4" y2="244.45" stroke="#FFFFFF" stroke-width="0.7" opacity="0.22"/>
<line x1="92.7" y1="354.32" x2="149.4" y2="354.32" stroke="#FFFFFF" stroke-width="0.45" opacity="0.18"/>
<line x1="92.7" y1="310.38" x2="149.4" y2="310.38" stroke="#FFFFFF" stroke-width="0.45" opacity="0.18"/>
<line x1="92.7" y1="266.43" x2="149.4" y2="266.43" stroke="#FFFFFF" stroke-width="0.45" opacity="0.18"/>
<line x1="92.7" y1="222.48" x2="149.4" y2="222.48" stroke="#FFFFFF" stroke-width="0.45" opacity="0.18"/>
<rect x="92.7" y="189.2" width="56.7" height="11.2" fill="#D9D9D9" stroke="none" stroke-width="1"/>
<text x="121.05" y="197.6" font-size="7.3" text-anchor="middle" font-weight="bold" fill="#0000EE">Simple<tspan font-size="5.0" dy="1.4">McB</tspan></text>
<line x1="96.42" y1="376.3" x2="96.42" y2="378.1" stroke="#333" stroke-width="0.5"/>
<text x="97.72" y="380.6" font-size="5" text-anchor="end" fill="#333" transform="rotate(-45 97.72 380.6)">W0</text>
<line x1="102.58" y1="376.3" x2="102.58" y2="378.1" stroke="#333" stroke-width="0.5"/>
<text x="103.88" y="380.6" font-size="5" text-anchor="end" fill="#333" transform="rotate(-45 103.88 380.6)">W4</text>
<line x1="108.74" y1="376.3" x2="108.74" y2="378.1" stroke="#333" stroke-width="0.5"/>
<text x="110.04" y="380.6" font-size="5" text-anchor="end" fill="#333" transform="rotate(-45 110.04 380.6)">W7+2d</text>
<line x1="114.9" y1="376.3" x2="114.9" y2="378.1" stroke="#333" stroke-width="0.5"/>
<text x="116.2" y="380.6" font-size="5" text-anchor="end" fill="#333" transform="rotate(-45 116.2 380.6)">W7+5d</text>
<line x1="121.06" y1="376.3" x2="121.06" y2="378.1" stroke="#333" stroke-width="0.5"/>
<text x="122.36" y="380.6" font-size="5" text-anchor="end" fill="#333" transform="rotate(-45 122.36 380.6)">W8+4d</text>
<line x1="127.22" y1="376.3" x2="127.22" y2="378.1" stroke="#333" stroke-width="0.5"/>
<text x="128.52" y="380.6" font-size="5" text-anchor="end" fill="#333" transform="rotate(-45 128.52 380.6)">W9</text>
<line x1="133.38" y1="376.3" x2="133.38" y2="378.1" stroke="#333" stroke-width="0.5"/>
<text x="134.68" y="380.6" font-size="5" text-anchor="end" fill="#333" transform="rotate(-45 134.68 380.6)">W10</text>
<line x1="139.54" y1="376.3" x2="139.54" y2="378.1" stroke="#333" stroke-width="0.5"/>
<text x="140.84" y="380.6" font-size="5" text-anchor="end" fill="#333" transform="rotate(-45 140.84 380.6)">W11</text>
<line x1="145.7" y1="376.3" x2="145.7" y2="378.1" stroke="#333" stroke-width="0.5"/>
<text x="147" y="380.6" font-size="5" text-anchor="end" fill="#333" transform="rotate(-45 147 380.6)">W11+4d</text>
<rect x="150.1" y="200.4" width="56.7" height="175.9" fill="#EBEBEB" stroke="none" stroke-width="1"/>
<line x1="150.1" y1="354.32" x2="206.8" y2="354.32" stroke="#F5F5F5" stroke-width="0.4"/>
<line x1="150.1" y1="310.38" x2="206.8" y2="310.38" stroke="#F5F5F5" stroke-width="0.4"/>
<line x1="150.1" y1="266.43" x2="206.8" y2="266.43" stroke="#F5F5F5" stroke-width="0.4"/>
<line x1="150.1" y1="222.48" x2="206.8" y2="222.48" stroke="#F5F5F5" stroke-width="0.4"/>
<line x1="150.1" y1="376.3" x2="206.8" y2="376.3" stroke="#FFFFFF" stroke-width="0.8"/>
<line x1="150.1" y1="332.35" x2="206.8" y2="332.35" stroke="#FFFFFF" stroke-width="0.8"/>
<line x1="150.1" y1="288.4" x2="206.8" y2="288.4" stroke="#FFFFFF" stroke-width="0.8"/>
<line x1="150.1" y1="244.45" x2="206.8" y2="244.45" stroke="#FFFFFF" stroke-width="0.8"/>
<line x1="150.1" y1="200.5" x2="206.8" y2="200.5" stroke="#FFFFFF" stroke-width="0.8"/>
<line x1="153.82" y1="200.4" x2="153.82" y2="376.3" stroke="#FFFFFF" stroke-width="0.8"/>
<line x1="159.98" y1="200.4" x2="159.98" y2="376.3" stroke="#FFFFFF" stroke-width="0.8"/>
<line x1="166.14" y1="200.4" x2="166.14" y2="376.3" stroke="#FFFFFF" stroke-width="0.8"/>
<line x1="172.3" y1="200.4" x2="172.3" y2="376.3" stroke="#FFFFFF" stroke-width="0.8"/>
<line x1="178.46" y1="200.4" x2="178.46" y2="376.3" stroke="#FFFFFF" stroke-width="0.8"/>
<line x1="184.62" y1="200.4" x2="184.62" y2="376.3" stroke="#FFFFFF" stroke-width="0.8"/>
<line x1="190.78" y1="200.4" x2="190.78" y2="376.3" stroke="#FFFFFF" stroke-width="0.8"/>
<line x1="196.94" y1="200.4" x2="196.94" y2="376.3" stroke="#FFFFFF" stroke-width="0.8"/>
<line x1="203.1" y1="200.4" x2="203.1" y2="376.3" stroke="#FFFFFF" stroke-width="0.8"/>
<polygon points="153.82,207.36 159.98,208.06 166.14,208.94 172.3,206.3 178.46,207.88 184.62,210.7 190.78,211.22 196.94,208.94 203.1,208.06 203.1,227.05 196.94,234.08 190.78,248.32 184.62,233.55 178.46,231.97 172.3,221.6 166.14,222.65 159.98,234.08 153.82,227.05" fill="#B7B7B7" stroke="none" stroke-width="1"/>
<polygon points="153.82,227.05 159.98,234.08 166.14,222.65 172.3,221.6 178.46,231.97 184.62,233.55 190.78,248.32 196.94,234.08 203.1,227.05 203.1,246.21 196.94,250.6 190.78,261.5 184.62,248.32 178.46,251.66 172.3,250.08 166.14,242.34 159.98,254.47 153.82,257.63" fill="#9E86C1" stroke="none" stroke-width="1"/>
<polygon points="153.82,257.63 159.98,254.47 166.14,242.34 172.3,250.08 178.46,251.66 184.62,248.32 190.78,261.5 196.94,250.6 203.1,246.21 203.1,253.77 196.94,256.58 190.78,266.43 184.62,256.05 178.46,258.69 172.3,260.98 166.14,248.85 159.98,258.16 153.82,263.08" fill="#FBE891" stroke="none" stroke-width="1"/>
<polygon points="153.82,263.08 159.98,258.16 166.14,248.85 172.3,260.98 178.46,258.69 184.62,256.05 190.78,266.43 196.94,256.58 203.1,253.77 203.1,290.69 196.94,280.14 190.78,296.31 184.62,286.64 178.46,288.22 172.3,272.4 166.14,262.56 159.98,282.25 153.82,285.59" fill="#D9556C" stroke="none" stroke-width="1"/>
<polygon points="153.82,285.59 159.98,282.25 166.14,262.56 172.3,272.4 178.46,288.22 184.62,286.64 190.78,296.31 196.94,280.14 203.1,290.69 203.1,299.83 196.94,296.31 190.78,309.32 184.62,306.51 178.46,307.03 172.3,301.94 166.14,286.11 159.98,295.26 153.82,295.78" fill="#E2E2E2" stroke="none" stroke-width="1"/>
<polygon points="153.82,295.78 159.98,295.26 166.14,286.11 172.3,301.94 178.46,307.03 184.62,306.51 190.78,309.32 196.94,296.31 203.1,299.83 203.1,307.03 196.94,308.79 190.78,317.23 184.62,313.36 178.46,311.61 172.3,323.38 166.14,308.79 159.98,326.9 153.82,301.41" fill="#CCE8C8" stroke="none" stroke-width="1"/>
<polygon points="153.82,301.41 159.98,326.9 166.14,308.79 172.3,323.38 178.46,311.61 184.62,313.36 190.78,317.23 196.94,308.79 203.1,307.03 203.1,327.96 196.94,325.67 190.78,327.43 184.62,332.53 178.46,330.77 172.3,332.53 166.14,320.04 159.98,329.19 153.82,301.94" fill="#F6A958" stroke="none" stroke-width="1"/>
<polygon points="153.82,301.94 159.98,329.19 166.14,320.04 172.3,332.53 178.46,330.77 184.62,332.53 190.78,327.43 196.94,325.67 203.1,327.96 203.1,336.39 196.94,333.05 190.78,333.58 184.62,340.44 178.46,339.91 172.3,340.44 166.14,332 159.98,337.1 153.82,318.99" fill="#DDDDDD" stroke="none" stroke-width="1"/>
<polygon points="153.82,318.99 159.98,337.1 166.14,332 172.3,340.44 178.46,339.91 184.62,340.44 190.78,333.58 196.94,333.05 203.1,336.39 203.1,338.68 196.94,335.34 190.78,335.87 184.62,342.72 178.46,341.49 172.3,342.72 166.14,337.1 159.98,340.44 153.82,322.33" fill="#DACCE4" stroke="none" stroke-width="1"/>
<polygon points="153.82,322.33 159.98,340.44 166.14,337.1 172.3,342.72 178.46,341.49 184.62,342.72 190.78,335.87 196.94,335.34 203.1,338.68 203.1,340.44 196.94,337.62 190.78,338.15 184.62,344.3 178.46,343.78 172.3,348.35 166.14,339.21 159.98,343.78 153.82,324.61" fill="#6BB86A" stroke="none" stroke-width="1"/>
<polygon points="153.82,324.61 159.98,343.78 166.14,339.21 172.3,348.35 178.46,343.78 184.62,344.3 190.78,338.15 196.94,337.62 203.1,340.44 203.1,341.49 196.94,338.68 190.78,338.15 184.62,345.71 178.46,345.01 172.3,350.81 166.14,342.9 159.98,346.41 153.82,337.62" fill="#BDBDBD" stroke="none" stroke-width="1"/>
<polygon points="153.82,337.62 159.98,346.41 166.14,342.9 172.3,350.81 178.46,345.01 184.62,345.71 190.78,338.15 196.94,338.68 203.1,341.49 203.1,342.72 196.94,339.21 190.78,338.15 184.62,347.12 178.46,346.06 172.3,352.92 166.14,346.06 159.98,350.63 153.82,342.72" fill="#E0E0E0" stroke="none" stroke-width="1"/>
<polygon points="153.82,342.72 159.98,350.63 166.14,346.06 172.3,352.92 178.46,346.06 184.62,347.12 190.78,338.15 196.94,339.21 203.1,342.72 203.1,346.59 196.94,343.78 190.78,342.72 184.62,350.63 178.46,352.92 172.3,356.26 166.14,348.35 159.98,352.22 153.82,343.78" fill="#9E86C1" stroke="none" stroke-width="1"/>
<polygon points="153.82,343.78 159.98,352.22 166.14,348.35 172.3,356.26 178.46,352.92 184.62,350.63 190.78,342.72 196.94,343.78 203.1,346.59 203.1,352.92 196.94,348.35 190.78,346.59 184.62,353.97 178.46,357.31 172.3,358.54 166.14,351.69 159.98,355.03 153.82,345.01" fill="#FBE891" stroke="none" stroke-width="1"/>
<polygon points="153.82,345.01 159.98,355.03 166.14,351.69 172.3,358.54 178.46,357.31 184.62,353.97 190.78,346.59 196.94,348.35 203.1,352.92 203.1,359.6 196.94,356.26 190.78,355.03 184.62,359.6 178.46,362.41 172.3,364.17 166.14,352.92 159.98,356.26 153.82,347.12" fill="#D9556C" stroke="none" stroke-width="1"/>
<polygon points="153.82,347.12 159.98,356.26 166.14,352.92 172.3,364.17 178.46,362.41 184.62,359.6 190.78,355.03 196.94,356.26 203.1,359.6 203.1,361.36 196.94,360.65 190.78,358.54 184.62,362.94 178.46,364.17 172.3,364.7 166.14,364.7 159.98,364.17 153.82,350.63" fill="#E2E2E2" stroke="none" stroke-width="1"/>
<polygon points="153.82,350.63 159.98,364.17 166.14,364.7 172.3,364.7 178.46,364.17 184.62,362.94 190.78,358.54 196.94,360.65 203.1,361.36 203.1,362.94 196.94,362.94 190.78,361.36 184.62,364.17 178.46,364.7 172.3,365.22 166.14,366.1 159.98,365.22 153.82,351.16" fill="#CCE8C8" stroke="none" stroke-width="1"/>
<polygon points="153.82,351.16 159.98,365.22 166.14,366.1 172.3,365.22 178.46,364.7 184.62,364.17 190.78,361.36 196.94,362.94 203.1,362.94 203.1,365.75 196.94,365.22 190.78,364.17 184.62,366.46 178.46,366.46 172.3,366.46 166.14,368.04 159.98,366.98 153.82,352.74" fill="#F6A958" stroke="none" stroke-width="1"/>
<polygon points="153.82,352.74 159.98,366.98 166.14,368.04 172.3,366.46 178.46,366.46 184.62,366.46 190.78,364.17 196.94,365.22 203.1,365.75 203.1,366.46 196.94,365.93 190.78,365.93 184.62,368.39 178.46,368.56 172.3,369.8 166.14,369.27 159.98,368.56 153.82,370.85" fill="#DDDDDD" stroke="none" stroke-width="1"/>
<polygon points="153.82,370.85 159.98,368.56 166.14,369.27 172.3,369.8 178.46,368.56 184.62,368.39 190.78,365.93 196.94,365.93 203.1,366.46 203.1,366.63 196.94,366.1 190.78,366.1 184.62,368.56 178.46,368.74 172.3,369.97 166.14,369.44 159.98,368.74 153.82,371.03" fill="#B3B3B3" stroke="none" stroke-width="1"/>
<polygon points="153.82,371.03 159.98,368.74 166.14,369.44 172.3,369.97 178.46,368.74 184.62,368.56 190.78,366.1 196.94,366.1 203.1,366.63 203.1,368.56 196.94,368.56 190.78,368.04 184.62,370.85 178.46,370.85 172.3,372.08 166.14,370.85 159.98,370.32 153.82,373.14" fill="#6BB86A" stroke="none" stroke-width="1"/>
<polygon points="153.82,373.14 159.98,370.32 166.14,370.85 172.3,372.08 178.46,370.85 184.62,370.85 190.78,368.04 196.94,368.56 203.1,368.56 203.1,371.38 196.94,371.38 190.78,370.85 184.62,373.14 178.46,372.61 172.3,373.14 166.14,372.61 159.98,372.61 153.82,373.66" fill="#BDBDBD" stroke="none" stroke-width="1"/>
<polygon points="153.82,373.66 159.98,372.61 166.14,372.61 172.3,373.14 178.46,372.61 184.62,373.14 190.78,370.85 196.94,371.38 203.1,371.38 203.1,373.31 196.94,373.31 190.78,373.14 184.62,374.19 178.46,374.01 172.3,374.19 166.14,374.01 159.98,374.01 153.82,374.37" fill="#E0E0E0" stroke="none" stroke-width="1"/>
<polygon points="153.82,374.37 159.98,374.01 166.14,374.01 172.3,374.19 178.46,374.01 184.62,374.19 190.78,373.14 196.94,373.31 203.1,373.31 203.1,374.54 196.94,374.54 190.78,374.37 184.62,374.89 178.46,374.72 172.3,374.89 166.14,374.72 159.98,374.72 153.82,374.72" fill="#9E86C1" stroke="none" stroke-width="1"/>
<polygon points="153.82,374.72 159.98,374.72 166.14,374.72 172.3,374.89 178.46,374.72 184.62,374.89 190.78,374.37 196.94,374.54 203.1,374.54 203.1,374.72 196.94,374.72 190.78,374.54 184.62,375.07 178.46,374.89 172.3,375.07 166.14,374.89 159.98,374.89 153.82,374.89" fill="#FBE891" stroke="none" stroke-width="1"/>
<polygon points="153.82,374.89 159.98,374.89 166.14,374.89 172.3,375.07 178.46,374.89 184.62,375.07 190.78,374.54 196.94,374.72 203.1,374.72 203.1,375.42 196.94,375.42 190.78,375.25 184.62,375.6 178.46,375.42 172.3,375.6 166.14,375.42 159.98,375.42 153.82,375.42" fill="#D9556C" stroke="none" stroke-width="1"/>
<polygon points="153.82,375.42 159.98,375.42 166.14,375.42 172.3,375.6 178.46,375.42 184.62,375.6 190.78,375.25 196.94,375.42 203.1,375.42 203.1,375.6 196.94,375.6 190.78,375.42 184.62,375.77 178.46,375.6 172.3,375.77 166.14,375.6 159.98,375.6 153.82,375.6" fill="#E2E2E2" stroke="none" stroke-width="1"/>
<polygon points="153.82,375.6 159.98,375.6 166.14,375.6 172.3,375.77 178.46,375.6 184.62,375.77 190.78,375.42 196.94,375.6 203.1,375.6 203.1,376.3 196.94,376.3 190.78,376.3 184.62,376.3 178.46,376.3 172.3,376.3 166.14,376.3 159.98,376.3 153.82,376.3" fill="#DACCE4" stroke="none" stroke-width="1"/>
<polyline points="153.82,207.36 159.98,208.06 166.14,208.94 172.3,206.3 178.46,207.88 184.62,210.7 190.78,211.22 196.94,208.94 203.1,208.06" fill="none" stroke="#ABABAB" stroke-width="0.45"/>
<polyline points="153.82,227.05 159.98,234.08 166.14,222.65 172.3,221.6 178.46,231.97 184.62,233.55 190.78,248.32 196.94,234.08 203.1,227.05" fill="none" stroke="#8C72B4" stroke-width="0.45"/>
<polyline points="153.82,257.63 159.98,254.47 166.14,242.34 172.3,250.08 178.46,251.66 184.62,248.32 190.78,261.5 196.94,250.6 203.1,246.21" fill="none" stroke="#F4DC78" stroke-width="0.45"/>
<polyline points="153.82,263.08 159.98,258.16 166.14,248.85 172.3,260.98 178.46,258.69 184.62,256.05 190.78,266.43 196.94,256.58 203.1,253.77" fill="none" stroke="#D23F5A" stroke-width="0.45"/>
<polyline points="153.82,285.59 159.98,282.25 166.14,262.56 172.3,272.4 178.46,288.22 184.62,286.64 190.78,296.31 196.94,280.14 203.1,290.69" fill="none" stroke="#D8D8D8" stroke-width="0.45"/>
<polyline points="153.82,295.78 159.98,295.26 166.14,286.11 172.3,301.94 178.46,307.03 184.62,306.51 190.78,309.32 196.94,296.31 203.1,299.83" fill="none" stroke="#BFE0BA" stroke-width="0.45"/>
<polyline points="153.82,301.41 159.98,326.9 166.14,308.79 172.3,323.38 178.46,311.61 184.62,313.36 190.78,317.23 196.94,308.79 203.1,307.03" fill="none" stroke="#F19A40" stroke-width="0.45"/>
<polyline points="153.82,301.94 159.98,329.19 166.14,320.04 172.3,332.53 178.46,330.77 184.62,332.53 190.78,327.43 196.94,325.67 203.1,327.96" fill="none" stroke="#D2D2D2" stroke-width="0.45"/>
<polyline points="153.82,318.99 159.98,337.1 166.14,332 172.3,340.44 178.46,339.91 184.62,340.44 190.78,333.58 196.94,333.05 203.1,336.39" fill="none" stroke="#CDBCDA" stroke-width="0.45"/>
<polyline points="153.82,322.33 159.98,340.44 166.14,337.1 172.3,342.72 178.46,341.49 184.62,342.72 190.78,335.87 196.94,335.34 203.1,338.68" fill="none" stroke="#5AAE59" stroke-width="0.45"/>
<polyline points="153.82,324.61 159.98,343.78 166.14,339.21 172.3,348.35 178.46,343.78 184.62,344.3 190.78,338.15 196.94,337.62 203.1,340.44" fill="none" stroke="#B0B0B0" stroke-width="0.45"/>
<polyline points="153.82,337.62 159.98,346.41 166.14,342.9 172.3,350.81 178.46,345.01 184.62,345.71 190.78,338.15 196.94,338.68 203.1,341.49" fill="none" stroke="#D5D5D5" stroke-width="0.45"/>
<polyline points="153.82,342.72 159.98,350.63 166.14,346.06 172.3,352.92 178.46,346.06 184.62,347.12 190.78,338.15 196.94,339.21 203.1,342.72" fill="none" stroke="#8C72B4" stroke-width="0.45"/>
<polyline points="153.82,343.78 159.98,352.22 166.14,348.35 172.3,356.26 178.46,352.92 184.62,350.63 190.78,342.72 196.94,343.78 203.1,346.59" fill="none" stroke="#F4DC78" stroke-width="0.45"/>
<polyline points="153.82,345.01 159.98,355.03 166.14,351.69 172.3,358.54 178.46,357.31 184.62,353.97 190.78,346.59 196.94,348.35 203.1,352.92" fill="none" stroke="#D23F5A" stroke-width="0.45"/>
<polyline points="153.82,347.12 159.98,356.26 166.14,352.92 172.3,364.17 178.46,362.41 184.62,359.6 190.78,355.03 196.94,356.26 203.1,359.6" fill="none" stroke="#D8D8D8" stroke-width="0.45"/>
<polyline points="153.82,350.63 159.98,364.17 166.14,364.7 172.3,364.7 178.46,364.17 184.62,362.94 190.78,358.54 196.94,360.65 203.1,361.36" fill="none" stroke="#BFE0BA" stroke-width="0.45"/>
<polyline points="153.82,351.16 159.98,365.22 166.14,366.1 172.3,365.22 178.46,364.7 184.62,364.17 190.78,361.36 196.94,362.94 203.1,362.94" fill="none" stroke="#F19A40" stroke-width="0.45"/>
<polyline points="153.82,352.74 159.98,366.98 166.14,368.04 172.3,366.46 178.46,366.46 184.62,366.46 190.78,364.17 196.94,365.22 203.1,365.75" fill="none" stroke="#D2D2D2" stroke-width="0.45"/>
<polyline points="153.82,370.85 159.98,368.56 166.14,369.27 172.3,369.8 178.46,368.56 184.62,368.39 190.78,365.93 196.94,365.93 203.1,366.46" fill="none" stroke="#A8A8A8" stroke-width="0.45"/>
<polyline points="153.82,371.03 159.98,368.74 166.14,369.44 172.3,369.97 178.46,368.74 184.62,368.56 190.78,366.1 196.94,366.1 203.1,366.63" fill="none" stroke="#5AAE59" stroke-width="0.45"/>
<polyline points="153.82,373.14 159.98,370.32 166.14,370.85 172.3,372.08 178.46,370.85 184.62,370.85 190.78,368.04 196.94,368.56 203.1,368.56" fill="none" stroke="#B0B0B0" stroke-width="0.45"/>
<polyline points="153.82,373.66 159.98,372.61 166.14,372.61 172.3,373.14 178.46,372.61 184.62,373.14 190.78,370.85 196.94,371.38 203.1,371.38" fill="none" stroke="#D5D5D5" stroke-width="0.45"/>
<polyline points="153.82,374.37 159.98,374.01 166.14,374.01 172.3,374.19 178.46,374.01 184.62,374.19 190.78,373.14 196.94,373.31 203.1,373.31" fill="none" stroke="#8C72B4" stroke-width="0.45"/>
<polyline points="153.82,374.72 159.98,374.72 166.14,374.72 172.3,374.89 178.46,374.72 184.62,374.89 190.78,374.37 196.94,374.54 203.1,374.54" fill="none" stroke="#F4DC78" stroke-width="0.45"/>
<polyline points="153.82,374.89 159.98,374.89 166.14,374.89 172.3,375.07 178.46,374.89 184.62,375.07 190.78,374.54 196.94,374.72 203.1,374.72" fill="none" stroke="#D23F5A" stroke-width="0.45"/>
<polyline points="153.82,375.42 159.98,375.42 166.14,375.42 172.3,375.6 178.46,375.42 184.62,375.6 190.78,375.25 196.94,375.42 203.1,375.42" fill="none" stroke="#D8D8D8" stroke-width="0.45"/>
<polyline points="153.82,375.6 159.98,375.6 166.14,375.6 172.3,375.77 178.46,375.6 184.62,375.77 190.78,375.42 196.94,375.6 203.1,375.6" fill="none" stroke="#CDBCDA" stroke-width="0.45"/>
<line x1="153.82" y1="200.4" x2="153.82" y2="376.3" stroke="#FFFFFF" stroke-width="0.7" opacity="0.22"/>
<line x1="159.98" y1="200.4" x2="159.98" y2="376.3" stroke="#FFFFFF" stroke-width="0.7" opacity="0.22"/>
<line x1="166.14" y1="200.4" x2="166.14" y2="376.3" stroke="#FFFFFF" stroke-width="0.7" opacity="0.22"/>
<line x1="172.3" y1="200.4" x2="172.3" y2="376.3" stroke="#FFFFFF" stroke-width="0.7" opacity="0.22"/>
<line x1="178.46" y1="200.4" x2="178.46" y2="376.3" stroke="#FFFFFF" stroke-width="0.7" opacity="0.22"/>
<line x1="184.62" y1="200.4" x2="184.62" y2="376.3" stroke="#FFFFFF" stroke-width="0.7" opacity="0.22"/>
<line x1="190.78" y1="200.4" x2="190.78" y2="376.3" stroke="#FFFFFF" stroke-width="0.7" opacity="0.22"/>
<line x1="196.94" y1="200.4" x2="196.94" y2="376.3" stroke="#FFFFFF" stroke-width="0.7" opacity="0.22"/>
<line x1="203.1" y1="200.4" x2="203.1" y2="376.3" stroke="#FFFFFF" stroke-width="0.7" opacity="0.22"/>
<line x1="150.1" y1="332.35" x2="206.8" y2="332.35" stroke="#FFFFFF" stroke-width="0.7" opacity="0.22"/>
<line x1="150.1" y1="288.4" x2="206.8" y2="288.4" stroke="#FFFFFF" stroke-width="0.7" opacity="0.22"/>
<line x1="150.1" y1="244.45" x2="206.8" y2="244.45" stroke="#FFFFFF" stroke-width="0.7" opacity="0.22"/>
<line x1="150.1" y1="354.32" x2="206.8" y2="354.32" stroke="#FFFFFF" stroke-width="0.45" opacity="0.18"/>
<line x1="150.1" y1="310.38" x2="206.8" y2="310.38" stroke="#FFFFFF" stroke-width="0.45" opacity="0.18"/>
<line x1="150.1" y1="266.43" x2="206.8" y2="266.43" stroke="#FFFFFF" stroke-width="0.45" opacity="0.18"/>
<line x1="150.1" y1="222.48" x2="206.8" y2="222.48" stroke="#FFFFFF" stroke-width="0.45" opacity="0.18"/>
<rect x="150.1" y="189.2" width="56.7" height="11.2" fill="#D9D9D9" stroke="none" stroke-width="1"/>
<text x="178.45" y="197.6" font-size="8" text-anchor="middle" font-weight="bold" fill="#5A5A5A">Complex<tspan font-size="5.0" dy="1.4">ref</tspan></text>
<line x1="153.82" y1="376.3" x2="153.82" y2="378.1" stroke="#333" stroke-width="0.5"/>
<text x="155.12" y="380.6" font-size="5" text-anchor="end" fill="#333" transform="rotate(-45 155.12 380.6)">W0</text>
<line x1="159.98" y1="376.3" x2="159.98" y2="378.1" stroke="#333" stroke-width="0.5"/>
<text x="161.28" y="380.6" font-size="5" text-anchor="end" fill="#333" transform="rotate(-45 161.28 380.6)">W4</text>
<line x1="166.14" y1="376.3" x2="166.14" y2="378.1" stroke="#333" stroke-width="0.5"/>
<text x="167.44" y="380.6" font-size="5" text-anchor="end" fill="#333" transform="rotate(-45 167.44 380.6)">W7+2d</text>
<line x1="172.3" y1="376.3" x2="172.3" y2="378.1" stroke="#333" stroke-width="0.5"/>
<text x="173.6" y="380.6" font-size="5" text-anchor="end" fill="#333" transform="rotate(-45 173.6 380.6)">W7+5d</text>
<line x1="178.46" y1="376.3" x2="178.46" y2="378.1" stroke="#333" stroke-width="0.5"/>
<text x="179.76" y="380.6" font-size="5" text-anchor="end" fill="#333" transform="rotate(-45 179.76 380.6)">W8+4d</text>
<line x1="184.62" y1="376.3" x2="184.62" y2="378.1" stroke="#333" stroke-width="0.5"/>
<text x="185.92" y="380.6" font-size="5" text-anchor="end" fill="#333" transform="rotate(-45 185.92 380.6)">W9</text>
<line x1="190.78" y1="376.3" x2="190.78" y2="378.1" stroke="#333" stroke-width="0.5"/>
<text x="192.08" y="380.6" font-size="5" text-anchor="end" fill="#333" transform="rotate(-45 192.08 380.6)">W10</text>
<line x1="196.94" y1="376.3" x2="196.94" y2="378.1" stroke="#333" stroke-width="0.5"/>
<text x="198.24" y="380.6" font-size="5" text-anchor="end" fill="#333" transform="rotate(-45 198.24 380.6)">W11</text>
<line x1="203.1" y1="376.3" x2="203.1" y2="378.1" stroke="#333" stroke-width="0.5"/>
<text x="204.4" y="380.6" font-size="5" text-anchor="end" fill="#333" transform="rotate(-45 204.4 380.6)">W11+4d</text>
<rect x="207.5" y="200.4" width="56.7" height="175.9" fill="#EBEBEB" stroke="none" stroke-width="1"/>
<line x1="207.5" y1="354.32" x2="264.2" y2="354.32" stroke="#F5F5F5" stroke-width="0.4"/>
<line x1="207.5" y1="310.38" x2="264.2" y2="310.38" stroke="#F5F5F5" stroke-width="0.4"/>
<line x1="207.5" y1="266.43" x2="264.2" y2="266.43" stroke="#F5F5F5" stroke-width="0.4"/>
<line x1="207.5" y1="222.48" x2="264.2" y2="222.48" stroke="#F5F5F5" stroke-width="0.4"/>
<line x1="207.5" y1="376.3" x2="264.2" y2="376.3" stroke="#FFFFFF" stroke-width="0.8"/>
<line x1="207.5" y1="332.35" x2="264.2" y2="332.35" stroke="#FFFFFF" stroke-width="0.8"/>
<line x1="207.5" y1="288.4" x2="264.2" y2="288.4" stroke="#FFFFFF" stroke-width="0.8"/>
<line x1="207.5" y1="244.45" x2="264.2" y2="244.45" stroke="#FFFFFF" stroke-width="0.8"/>
<line x1="207.5" y1="200.5" x2="264.2" y2="200.5" stroke="#FFFFFF" stroke-width="0.8"/>
<line x1="211.22" y1="200.4" x2="211.22" y2="376.3" stroke="#FFFFFF" stroke-width="0.8"/>
<line x1="217.38" y1="200.4" x2="217.38" y2="376.3" stroke="#FFFFFF" stroke-width="0.8"/>
<line x1="223.54" y1="200.4" x2="223.54" y2="376.3" stroke="#FFFFFF" stroke-width="0.8"/>
<line x1="229.7" y1="200.4" x2="229.7" y2="376.3" stroke="#FFFFFF" stroke-width="0.8"/>
<line x1="235.86" y1="200.4" x2="235.86" y2="376.3" stroke="#FFFFFF" stroke-width="0.8"/>
<line x1="242.02" y1="200.4" x2="242.02" y2="376.3" stroke="#FFFFFF" stroke-width="0.8"/>
<line x1="248.18" y1="200.4" x2="248.18" y2="376.3" stroke="#FFFFFF" stroke-width="0.8"/>
<line x1="254.34" y1="200.4" x2="254.34" y2="376.3" stroke="#FFFFFF" stroke-width="0.8"/>
<line x1="260.5" y1="200.4" x2="260.5" y2="376.3" stroke="#FFFFFF" stroke-width="0.8"/>
<polygon points="211.22,207.88 217.38,208.41 223.54,208.41 229.7,206.3 235.86,207.36 242.02,205.77 248.18,205.07 254.34,205.07 260.5,204.54 260.5,238.47 254.34,245.15 248.18,244.45 242.02,260.45 235.86,249.55 229.7,224.23 223.54,223.71 217.38,237.95 211.22,225.99" fill="#B7B7B7" stroke="none" stroke-width="1"/>
<polygon points="211.22,225.99 217.38,237.95 223.54,223.71 229.7,224.23 235.86,249.55 242.02,260.45 248.18,244.45 254.34,245.15 260.5,238.47 260.5,263.08 254.34,263.08 248.18,263.08 242.02,283.3 235.86,272.4 229.7,237.42 223.54,245.15 217.38,257.63 211.22,257.63" fill="#9E86C1" stroke="none" stroke-width="1"/>
<polygon points="211.22,257.63 217.38,257.63 223.54,245.15 229.7,237.42 235.86,272.4 242.02,283.3 248.18,263.08 254.34,263.08 260.5,263.08 260.5,301.94 254.34,305.45 248.18,306.51 242.02,308.27 235.86,309.85 229.7,292.97 223.54,250.6 217.38,262.56 211.22,265.37" fill="#FBE891" stroke="none" stroke-width="1"/>
<polygon points="211.22,265.37 217.38,262.56 223.54,250.6 229.7,292.97 235.86,309.85 242.02,308.27 248.18,306.51 254.34,305.45 260.5,301.94 260.5,311.08 254.34,314.42 248.18,315.47 242.02,318.99 235.86,321.8 229.7,301.94 223.54,270.29 217.38,288.93 211.22,276.8" fill="#D9556C" stroke="none" stroke-width="1"/>
<polygon points="211.22,276.8 217.38,288.93 223.54,270.29 229.7,301.94 235.86,321.8 242.02,318.99 248.18,315.47 254.34,314.42 260.5,311.08 260.5,326.37 254.34,324.09 248.18,326.37 242.02,330.24 235.86,327.96 229.7,318.99 223.54,288.4 217.38,301.94 211.22,291.92" fill="#E2E2E2" stroke="none" stroke-width="1"/>
<polygon points="211.22,291.92 217.38,301.94 223.54,288.4 229.7,318.99 235.86,327.96 242.02,330.24 248.18,326.37 254.34,324.09 260.5,326.37 260.5,326.9 254.34,324.61 248.18,326.9 242.02,330.77 235.86,328.48 229.7,323.38 223.54,311.61 217.38,318.29 211.22,295.26" fill="#CCE8C8" stroke="none" stroke-width="1"/>
<polygon points="211.22,295.26 217.38,318.29 223.54,311.61 229.7,323.38 235.86,328.48 242.02,330.77 248.18,326.9 254.34,324.61 260.5,326.9 260.5,337.62 254.34,333.58 248.18,337.1 242.02,343.25 235.86,334.81 229.7,326.9 223.54,321.27 217.38,324.61 211.22,298.6" fill="#F6A958" stroke="none" stroke-width="1"/>
<polygon points="211.22,298.6 217.38,324.61 223.54,321.27 229.7,326.9 235.86,334.81 242.02,343.25 248.18,337.1 254.34,333.58 260.5,337.62 260.5,340.96 254.34,337.1 248.18,341.49 242.02,349.93 235.86,340.44 229.7,334.81 223.54,332.53 217.38,337.1 211.22,325.14" fill="#DDDDDD" stroke="none" stroke-width="1"/>
<polygon points="211.22,325.14 217.38,337.1 223.54,332.53 229.7,334.81 235.86,340.44 242.02,349.93 248.18,341.49 254.34,337.1 260.5,340.96 260.5,345.01 254.34,339.91 248.18,343.78 242.02,352.22 235.86,346.06 229.7,339.21 223.54,335.87 217.38,339.21 211.22,330.77" fill="#DACCE4" stroke="none" stroke-width="1"/>
<polygon points="211.22,330.77 217.38,339.21 223.54,335.87 229.7,339.21 235.86,346.06 242.02,352.22 248.18,343.78 254.34,339.91 260.5,345.01 260.5,348.88 254.34,342.72 248.18,346.06 242.02,353.97 235.86,348.88 229.7,342.72 223.54,339.21 217.38,342.72 211.22,336.39" fill="#6BB86A" stroke="none" stroke-width="1"/>
<polygon points="211.22,336.39 217.38,342.72 223.54,339.21 229.7,342.72 235.86,348.88 242.02,353.97 248.18,346.06 254.34,342.72 260.5,348.88 260.5,353.97 254.34,350.63 248.18,350.63 242.02,355.03 235.86,351.69 229.7,345.01 223.54,343.78 217.38,344.3 211.22,343.78" fill="#BDBDBD" stroke="none" stroke-width="1"/>
<polygon points="211.22,343.78 217.38,344.3 223.54,343.78 229.7,345.01 235.86,351.69 242.02,355.03 248.18,350.63 254.34,350.63 260.5,353.97 260.5,356.26 254.34,351.16 248.18,353.97 242.02,358.37 235.86,352.74 229.7,346.59 223.54,346.59 217.38,348.35 211.22,350.63" fill="#E0E0E0" stroke="none" stroke-width="1"/>
<polygon points="211.22,350.63 217.38,348.35 223.54,346.59 229.7,346.59 235.86,352.74 242.02,358.37 248.18,353.97 254.34,351.16 260.5,356.26 260.5,357.84 254.34,352.22 248.18,355.03 242.02,359.6 235.86,354.5 229.7,347.82 223.54,348.35 217.38,350.11 211.22,352.22" fill="#9E86C1" stroke="none" stroke-width="1"/>
<polygon points="211.22,352.22 217.38,350.11 223.54,348.35 229.7,347.82 235.86,354.5 242.02,359.6 248.18,355.03 254.34,352.22 260.5,357.84 260.5,358.37 254.34,352.74 248.18,355.73 242.02,360.65 235.86,356.26 229.7,349.4 223.54,350.63 217.38,351.16 211.22,353.45" fill="#FBE891" stroke="none" stroke-width="1"/>
<polygon points="211.22,353.45 217.38,351.16 223.54,350.63 229.7,349.4 235.86,356.26 242.02,360.65 248.18,355.73 254.34,352.74 260.5,358.37 260.5,360.13 254.34,353.97 248.18,356.26 242.02,361.88 235.86,357.31 229.7,351.69 223.54,351.69 217.38,353.97 211.22,355.03" fill="#D9556C" stroke="none" stroke-width="1"/>
<polygon points="211.22,355.03 217.38,353.97 223.54,351.69 229.7,351.69 235.86,357.31 242.02,361.88 248.18,356.26 254.34,353.97 260.5,360.13 260.5,360.48 254.34,355.03 248.18,359.6 242.02,362.94 235.86,358.54 229.7,355.03 223.54,362.94 217.38,358.54 211.22,356.26" fill="#E2E2E2" stroke="none" stroke-width="1"/>
<polygon points="211.22,356.26 217.38,358.54 223.54,362.94 229.7,355.03 235.86,358.54 242.02,362.94 248.18,359.6 254.34,355.03 260.5,360.48 260.5,362.94 254.34,361.88 248.18,361.88 242.02,364.17 235.86,360.65 229.7,355.73 223.54,364.17 217.38,362.94 211.22,359.07" fill="#CCE8C8" stroke="none" stroke-width="1"/>
<polygon points="211.22,359.07 217.38,362.94 223.54,364.17 229.7,355.73 235.86,360.65 242.02,364.17 248.18,361.88 254.34,361.88 260.5,362.94 260.5,364.7 254.34,362.94 248.18,363.64 242.02,366.46 235.86,362.94 229.7,356.79 223.54,365.75 217.38,365.75 211.22,360.13" fill="#F6A958" stroke="none" stroke-width="1"/>
<polygon points="211.22,360.13 217.38,365.75 223.54,365.75 229.7,356.79 235.86,362.94 242.02,366.46 248.18,363.64 254.34,362.94 260.5,364.7 260.5,367.51 254.34,366.46 248.18,366.46 242.02,368.56 235.86,364.17 229.7,357.31 223.54,366.46 217.38,366.46 211.22,360.65" fill="#DDDDDD" stroke="none" stroke-width="1"/>
<polygon points="211.22,360.65 217.38,366.46 223.54,366.46 229.7,357.31 235.86,364.17 242.02,368.56 248.18,366.46 254.34,366.46 260.5,367.51 260.5,369.27 254.34,368.04 248.18,368.56 242.02,370.85 235.86,368.56 229.7,370.85 223.54,367.51 217.38,367.51 211.22,368.04" fill="#B3B3B3" stroke="none" stroke-width="1"/>
<polygon points="211.22,368.04 217.38,367.51 223.54,367.51 229.7,370.85 235.86,368.56 242.02,370.85 248.18,368.56 254.34,368.04 260.5,369.27 260.5,371.38 254.34,369.8 248.18,370.32 242.02,372.08 235.86,370.32 229.7,372.08 223.54,369.27 217.38,369.27 211.22,370.85" fill="#6BB86A" stroke="none" stroke-width="1"/>
<polygon points="211.22,370.85 217.38,369.27 223.54,369.27 229.7,372.08 235.86,370.32 242.02,372.08 248.18,370.32 254.34,369.8 260.5,371.38 260.5,372.26 254.34,370.32 248.18,371.55 242.02,373.14 235.86,371.2 229.7,373.14 223.54,371.91 217.38,371.91 211.22,372.78" fill="#BDBDBD" stroke="none" stroke-width="1"/>
<polygon points="211.22,372.78 217.38,371.91 223.54,371.91 229.7,373.14 235.86,371.2 242.02,373.14 248.18,371.55 254.34,370.32 260.5,372.26 260.5,373.14 254.34,370.85 248.18,372.61 242.02,374.37 235.86,372.08 229.7,374.37 223.54,373.66 217.38,373.66 211.22,374.37" fill="#E0E0E0" stroke="none" stroke-width="1"/>
<polygon points="211.22,374.37 217.38,373.66 223.54,373.66 229.7,374.37 235.86,372.08 242.02,374.37 248.18,372.61 254.34,370.85 260.5,373.14 260.5,374.37 254.34,374.37 248.18,374.37 242.02,375.42 235.86,374.89 229.7,375.25 223.54,374.89 217.38,374.89 211.22,374.89" fill="#9E86C1" stroke="none" stroke-width="1"/>
<polygon points="211.22,374.89 217.38,374.89 223.54,374.89 229.7,375.25 235.86,374.89 242.02,375.42 248.18,374.37 254.34,374.37 260.5,374.37 260.5,374.54 254.34,374.54 248.18,374.54 242.02,375.6 235.86,375.07 229.7,375.42 223.54,375.07 217.38,375.07 211.22,375.07" fill="#FBE891" stroke="none" stroke-width="1"/>
<polygon points="211.22,375.07 217.38,375.07 223.54,375.07 229.7,375.42 235.86,375.07 242.02,375.6 248.18,374.54 254.34,374.54 260.5,374.54 260.5,375.6 254.34,375.6 248.18,375.6 242.02,375.77 235.86,375.6 229.7,375.77 223.54,375.6 217.38,375.6 211.22,375.6" fill="#D9556C" stroke="none" stroke-width="1"/>
<polygon points="211.22,375.6 217.38,375.6 223.54,375.6 229.7,375.77 235.86,375.6 242.02,375.77 248.18,375.6 254.34,375.6 260.5,375.6 260.5,375.77 254.34,375.77 248.18,375.77 242.02,375.95 235.86,375.77 229.7,375.95 223.54,375.77 217.38,375.77 211.22,375.77" fill="#E2E2E2" stroke="none" stroke-width="1"/>
<polygon points="211.22,375.77 217.38,375.77 223.54,375.77 229.7,375.95 235.86,375.77 242.02,375.95 248.18,375.77 254.34,375.77 260.5,375.77 260.5,376.3 254.34,376.3 248.18,376.3 242.02,376.3 235.86,376.3 229.7,376.3 223.54,376.3 217.38,376.3 211.22,376.3" fill="#DACCE4" stroke="none" stroke-width="1"/>
<polyline points="211.22,207.88 217.38,208.41 223.54,208.41 229.7,206.3 235.86,207.36 242.02,205.77 248.18,205.07 254.34,205.07 260.5,204.54" fill="none" stroke="#ABABAB" stroke-width="0.45"/>
<polyline points="211.22,225.99 217.38,237.95 223.54,223.71 229.7,224.23 235.86,249.55 242.02,260.45 248.18,244.45 254.34,245.15 260.5,238.47" fill="none" stroke="#8C72B4" stroke-width="0.45"/>
<polyline points="211.22,257.63 217.38,257.63 223.54,245.15 229.7,237.42 235.86,272.4 242.02,283.3 248.18,263.08 254.34,263.08 260.5,263.08" fill="none" stroke="#F4DC78" stroke-width="0.45"/>
<polyline points="211.22,265.37 217.38,262.56 223.54,250.6 229.7,292.97 235.86,309.85 242.02,308.27 248.18,306.51 254.34,305.45 260.5,301.94" fill="none" stroke="#D23F5A" stroke-width="0.45"/>
<polyline points="211.22,276.8 217.38,288.93 223.54,270.29 229.7,301.94 235.86,321.8 242.02,318.99 248.18,315.47 254.34,314.42 260.5,311.08" fill="none" stroke="#D8D8D8" stroke-width="0.45"/>
<polyline points="211.22,291.92 217.38,301.94 223.54,288.4 229.7,318.99 235.86,327.96 242.02,330.24 248.18,326.37 254.34,324.09 260.5,326.37" fill="none" stroke="#BFE0BA" stroke-width="0.45"/>
<polyline points="211.22,295.26 217.38,318.29 223.54,311.61 229.7,323.38 235.86,328.48 242.02,330.77 248.18,326.9 254.34,324.61 260.5,326.9" fill="none" stroke="#F19A40" stroke-width="0.45"/>
<polyline points="211.22,298.6 217.38,324.61 223.54,321.27 229.7,326.9 235.86,334.81 242.02,343.25 248.18,337.1 254.34,333.58 260.5,337.62" fill="none" stroke="#D2D2D2" stroke-width="0.45"/>
<polyline points="211.22,325.14 217.38,337.1 223.54,332.53 229.7,334.81 235.86,340.44 242.02,349.93 248.18,341.49 254.34,337.1 260.5,340.96" fill="none" stroke="#CDBCDA" stroke-width="0.45"/>
<polyline points="211.22,330.77 217.38,339.21 223.54,335.87 229.7,339.21 235.86,346.06 242.02,352.22 248.18,343.78 254.34,339.91 260.5,345.01" fill="none" stroke="#5AAE59" stroke-width="0.45"/>
<polyline points="211.22,336.39 217.38,342.72 223.54,339.21 229.7,342.72 235.86,348.88 242.02,353.97 248.18,346.06 254.34,342.72 260.5,348.88" fill="none" stroke="#B0B0B0" stroke-width="0.45"/>
<polyline points="211.22,343.78 217.38,344.3 223.54,343.78 229.7,345.01 235.86,351.69 242.02,355.03 248.18,350.63 254.34,350.63 260.5,353.97" fill="none" stroke="#D5D5D5" stroke-width="0.45"/>
<polyline points="211.22,350.63 217.38,348.35 223.54,346.59 229.7,346.59 235.86,352.74 242.02,358.37 248.18,353.97 254.34,351.16 260.5,356.26" fill="none" stroke="#8C72B4" stroke-width="0.45"/>
<polyline points="211.22,352.22 217.38,350.11 223.54,348.35 229.7,347.82 235.86,354.5 242.02,359.6 248.18,355.03 254.34,352.22 260.5,357.84" fill="none" stroke="#F4DC78" stroke-width="0.45"/>
<polyline points="211.22,353.45 217.38,351.16 223.54,350.63 229.7,349.4 235.86,356.26 242.02,360.65 248.18,355.73 254.34,352.74 260.5,358.37" fill="none" stroke="#D23F5A" stroke-width="0.45"/>
<polyline points="211.22,355.03 217.38,353.97 223.54,351.69 229.7,351.69 235.86,357.31 242.02,361.88 248.18,356.26 254.34,353.97 260.5,360.13" fill="none" stroke="#D8D8D8" stroke-width="0.45"/>
<polyline points="211.22,356.26 217.38,358.54 223.54,362.94 229.7,355.03 235.86,358.54 242.02,362.94 248.18,359.6 254.34,355.03 260.5,360.48" fill="none" stroke="#BFE0BA" stroke-width="0.45"/>
<polyline points="211.22,359.07 217.38,362.94 223.54,364.17 229.7,355.73 235.86,360.65 242.02,364.17 248.18,361.88 254.34,361.88 260.5,362.94" fill="none" stroke="#F19A40" stroke-width="0.45"/>
<polyline points="211.22,360.13 217.38,365.75 223.54,365.75 229.7,356.79 235.86,362.94 242.02,366.46 248.18,363.64 254.34,362.94 260.5,364.7" fill="none" stroke="#D2D2D2" stroke-width="0.45"/>
<polyline points="211.22,360.65 217.38,366.46 223.54,366.46 229.7,357.31 235.86,364.17 242.02,368.56 248.18,366.46 254.34,366.46 260.5,367.51" fill="none" stroke="#A8A8A8" stroke-width="0.45"/>
<polyline points="211.22,368.04 217.38,367.51 223.54,367.51 229.7,370.85 235.86,368.56 242.02,370.85 248.18,368.56 254.34,368.04 260.5,369.27" fill="none" stroke="#5AAE59" stroke-width="0.45"/>
<polyline points="211.22,370.85 217.38,369.27 223.54,369.27 229.7,372.08 235.86,370.32 242.02,372.08 248.18,370.32 254.34,369.8 260.5,371.38" fill="none" stroke="#B0B0B0" stroke-width="0.45"/>
<polyline points="211.22,372.78 217.38,371.91 223.54,371.91 229.7,373.14 235.86,371.2 242.02,373.14 248.18,371.55 254.34,370.32 260.5,372.26" fill="none" stroke="#D5D5D5" stroke-width="0.45"/>
<polyline points="211.22,374.37 217.38,373.66 223.54,373.66 229.7,374.37 235.86,372.08 242.02,374.37 248.18,372.61 254.34,370.85 260.5,373.14" fill="none" stroke="#8C72B4" stroke-width="0.45"/>
<polyline points="211.22,374.89 217.38,374.89 223.54,374.89 229.7,375.25 235.86,374.89 242.02,375.42 248.18,374.37 254.34,374.37 260.5,374.37" fill="none" stroke="#F4DC78" stroke-width="0.45"/>
<polyline points="211.22,375.07 217.38,375.07 223.54,375.07 229.7,375.42 235.86,375.07 242.02,375.6 248.18,374.54 254.34,374.54 260.5,374.54" fill="none" stroke="#D23F5A" stroke-width="0.45"/>
<polyline points="211.22,375.6 217.38,375.6 223.54,375.6 229.7,375.77 235.86,375.6 242.02,375.77 248.18,375.6 254.34,375.6 260.5,375.6" fill="none" stroke="#D8D8D8" stroke-width="0.45"/>
<polyline points="211.22,375.77 217.38,375.77 223.54,375.77 229.7,375.95 235.86,375.77 242.02,375.95 248.18,375.77 254.34,375.77 260.5,375.77" fill="none" stroke="#CDBCDA" stroke-width="0.45"/>
<line x1="211.22" y1="200.4" x2="211.22" y2="376.3" stroke="#FFFFFF" stroke-width="0.7" opacity="0.22"/>
<line x1="217.38" y1="200.4" x2="217.38" y2="376.3" stroke="#FFFFFF" stroke-width="0.7" opacity="0.22"/>
<line x1="223.54" y1="200.4" x2="223.54" y2="376.3" stroke="#FFFFFF" stroke-width="0.7" opacity="0.22"/>
<line x1="229.7" y1="200.4" x2="229.7" y2="376.3" stroke="#FFFFFF" stroke-width="0.7" opacity="0.22"/>
<line x1="235.86" y1="200.4" x2="235.86" y2="376.3" stroke="#FFFFFF" stroke-width="0.7" opacity="0.22"/>
<line x1="242.02" y1="200.4" x2="242.02" y2="376.3" stroke="#FFFFFF" stroke-width="0.7" opacity="0.22"/>
<line x1="248.18" y1="200.4" x2="248.18" y2="376.3" stroke="#FFFFFF" stroke-width="0.7" opacity="0.22"/>
<line x1="254.34" y1="200.4" x2="254.34" y2="376.3" stroke="#FFFFFF" stroke-width="0.7" opacity="0.22"/>
<line x1="260.5" y1="200.4" x2="260.5" y2="376.3" stroke="#FFFFFF" stroke-width="0.7" opacity="0.22"/>
<line x1="207.5" y1="332.35" x2="264.2" y2="332.35" stroke="#FFFFFF" stroke-width="0.7" opacity="0.22"/>
<line x1="207.5" y1="288.4" x2="264.2" y2="288.4" stroke="#FFFFFF" stroke-width="0.7" opacity="0.22"/>
<line x1="207.5" y1="244.45" x2="264.2" y2="244.45" stroke="#FFFFFF" stroke-width="0.7" opacity="0.22"/>
<line x1="207.5" y1="354.32" x2="264.2" y2="354.32" stroke="#FFFFFF" stroke-width="0.45" opacity="0.18"/>
<line x1="207.5" y1="310.38" x2="264.2" y2="310.38" stroke="#FFFFFF" stroke-width="0.45" opacity="0.18"/>
<line x1="207.5" y1="266.43" x2="264.2" y2="266.43" stroke="#FFFFFF" stroke-width="0.45" opacity="0.18"/>
<line x1="207.5" y1="222.48" x2="264.2" y2="222.48" stroke="#FFFFFF" stroke-width="0.45" opacity="0.18"/>
<rect x="207.5" y="189.2" width="56.7" height="11.2" fill="#D9D9D9" stroke="none" stroke-width="1"/>
<text x="235.85" y="197.6" font-size="8" text-anchor="middle" font-weight="bold" fill="#1A8A1A">Complex<tspan font-size="5.0" dy="1.4">McB</tspan></text>
<line x1="211.22" y1="376.3" x2="211.22" y2="378.1" stroke="#333" stroke-width="0.5"/>
<text x="212.52" y="380.6" font-size="5" text-anchor="end" fill="#333" transform="rotate(-45 212.52 380.6)">W0</text>
<line x1="217.38" y1="376.3" x2="217.38" y2="378.1" stroke="#333" stroke-width="0.5"/>
<text x="218.68" y="380.6" font-size="5" text-anchor="end" fill="#333" transform="rotate(-45 218.68 380.6)">W4</text>
<line x1="223.54" y1="376.3" x2="223.54" y2="378.1" stroke="#333" stroke-width="0.5"/>
<text x="224.84" y="380.6" font-size="5" text-anchor="end" fill="#333" transform="rotate(-45 224.84 380.6)">W7+2d</text>
<line x1="229.7" y1="376.3" x2="229.7" y2="378.1" stroke="#333" stroke-width="0.5"/>
<text x="231" y="380.6" font-size="5" text-anchor="end" fill="#333" transform="rotate(-45 231 380.6)">W7+5d</text>
<line x1="235.86" y1="376.3" x2="235.86" y2="378.1" stroke="#333" stroke-width="0.5"/>
<text x="237.16" y="380.6" font-size="5" text-anchor="end" fill="#333" transform="rotate(-45 237.16 380.6)">W8+4d</text>
<line x1="242.02" y1="376.3" x2="242.02" y2="378.1" stroke="#333" stroke-width="0.5"/>
<text x="243.32" y="380.6" font-size="5" text-anchor="end" fill="#333" transform="rotate(-45 243.32 380.6)">W9</text>
<line x1="248.18" y1="376.3" x2="248.18" y2="378.1" stroke="#333" stroke-width="0.5"/>
<text x="249.48" y="380.6" font-size="5" text-anchor="end" fill="#333" transform="rotate(-45 249.48 380.6)">W10</text>
<line x1="254.34" y1="376.3" x2="254.34" y2="378.1" stroke="#333" stroke-width="0.5"/>
<text x="255.64" y="380.6" font-size="5" text-anchor="end" fill="#333" transform="rotate(-45 255.64 380.6)">W11</text>
<line x1="260.5" y1="376.3" x2="260.5" y2="378.1" stroke="#333" stroke-width="0.5"/>
<text x="261.8" y="380.6" font-size="5" text-anchor="end" fill="#333" transform="rotate(-45 261.8 380.6)">W11+4d</text>
<line x1="33.3" y1="376.3" x2="35.3" y2="376.3" stroke="#333" stroke-width="0.6"/>
<text x="31.8" y="377.8" font-size="4.6" text-anchor="end" fill="#4D4D4D">0</text>
<line x1="33.3" y1="332.35" x2="35.3" y2="332.35" stroke="#333" stroke-width="0.6"/>
<text x="31.8" y="333.85" font-size="4.6" text-anchor="end" fill="#4D4D4D">25</text>
<line x1="33.3" y1="288.4" x2="35.3" y2="288.4" stroke="#333" stroke-width="0.6"/>
<text x="31.8" y="289.9" font-size="4.6" text-anchor="end" fill="#4D4D4D">50</text>
<line x1="33.3" y1="244.45" x2="35.3" y2="244.45" stroke="#333" stroke-width="0.6"/>
<text x="31.8" y="245.95" font-size="4.6" text-anchor="end" fill="#4D4D4D">75</text>
<line x1="33.3" y1="200.5" x2="35.3" y2="200.5" stroke="#333" stroke-width="0.6"/>
<text x="31.8" y="202" font-size="4.6" text-anchor="end" fill="#4D4D4D">100</text>
<text x="20.5" y="285.5" font-size="7.35" text-anchor="middle" fill="#111" font-weight="bold" transform="rotate(-90 20.5 285.5)">Relative abundance (%)</text>
<text x="35" y="408.3" font-size="6.9" text-anchor="start" fill="#111" font-weight="bold">Time</text>
<line x1="54.2" y1="405.6" x2="142" y2="405.6" stroke="#000" stroke-width="1.3"/>
<polygon points="146.7,405.6 139.8,402.8 141.5,405.6 139.8,408.4" fill="#000" stroke="none" stroke-width="1"/>
<rect x="269.2" y="189.6" width="7" height="7.02" fill="#B7B7B7" stroke="none" stroke-width="1"/>
<text x="280" y="194.9" font-size="5" text-anchor="start" fill="#1A1A1A">Lachnospiraceae</text>
<rect x="269.2" y="196.62" width="7" height="7.02" fill="#9E86C1" stroke="none" stroke-width="1"/>
<text x="280" y="201.92" font-size="5" text-anchor="start" fill="#1A1A1A">Bacteroidales_unclassified</text>
<rect x="269.2" y="203.64" width="7" height="7.02" fill="#FBE891" stroke="none" stroke-width="1"/>
<text x="280" y="208.94" font-size="5" text-anchor="start" fill="#1A1A1A">Bacteroidaceae</text>
<rect x="269.2" y="210.66" width="7" height="7.02" fill="#D9556C" stroke="none" stroke-width="1"/>
<text x="280" y="215.96" font-size="5" text-anchor="start" fill="#1A1A1A">Ruminococcaceae</text>
<rect x="269.2" y="217.68" width="7" height="7.02" fill="#E2E2E2" stroke="none" stroke-width="1"/>
<text x="280" y="222.98" font-size="5" text-anchor="start" fill="#1A1A1A">FGB4425</text>
<rect x="269.2" y="224.7" width="7" height="7.02" fill="#CCE8C8" stroke="none" stroke-width="1"/>
<text x="280" y="230" font-size="5" text-anchor="start" fill="#1A1A1A">FGB9880</text>
<rect x="269.2" y="231.72" width="7" height="7.02" fill="#F6A958" stroke="none" stroke-width="1"/>
<text x="280" y="237.02" font-size="5" text-anchor="start" fill="#1A1A1A">Rikenellaceae</text>
<rect x="269.2" y="238.74" width="7" height="7.02" fill="#DDDDDD" stroke="none" stroke-width="1"/>
<text x="280" y="244.04" font-size="5" text-anchor="start" fill="#1A1A1A">FGB636</text>
<rect x="269.2" y="245.76" width="7" height="7.02" fill="#DACCE4" stroke="none" stroke-width="1"/>
<text x="280" y="251.06" font-size="5" text-anchor="start" fill="#1A1A1A">FGB637</text>
<rect x="269.2" y="252.78" width="7" height="7.02" fill="#6BB86A" stroke="none" stroke-width="1"/>
<text x="280" y="258.08" font-size="5" text-anchor="start" fill="#1A1A1A">Akkermansiaceae</text>
<rect x="269.2" y="259.8" width="7" height="7.02" fill="#BDBDBD" stroke="none" stroke-width="1"/>
<text x="280" y="265.1" font-size="5" text-anchor="start" fill="#1A1A1A">FGB6583</text>
<rect x="269.2" y="266.82" width="7" height="7.02" fill="#E0E0E0" stroke="none" stroke-width="1"/>
<text x="280" y="272.12" font-size="5" text-anchor="start" fill="#1A1A1A">FGB8396</text>
<rect x="269.2" y="273.84" width="7" height="7.02" fill="#9E86C1" stroke="none" stroke-width="1"/>
<text x="280" y="279.14" font-size="5" text-anchor="start" fill="#1A1A1A">FGB7480</text>
<rect x="269.2" y="280.86" width="7" height="7.02" fill="#FBE891" stroke="none" stroke-width="1"/>
<text x="280" y="286.16" font-size="5" text-anchor="start" fill="#1A1A1A">Desulfovibrionaceae</text>
<rect x="269.2" y="287.88" width="7" height="7.02" fill="#D9556C" stroke="none" stroke-width="1"/>
<text x="280" y="293.18" font-size="5" text-anchor="start" fill="#1A1A1A">FGB8495</text>
<rect x="269.2" y="294.9" width="7" height="7.02" fill="#E2E2E2" stroke="none" stroke-width="1"/>
<text x="280" y="300.2" font-size="5" text-anchor="start" fill="#1A1A1A">Deferribacteraceae</text>
<rect x="269.2" y="301.92" width="7" height="7.02" fill="#CCE8C8" stroke="none" stroke-width="1"/>
<text x="280" y="307.22" font-size="5" text-anchor="start" fill="#1A1A1A">FGB8157</text>
<rect x="269.2" y="308.94" width="7" height="7.02" fill="#F6A958" stroke="none" stroke-width="1"/>
<text x="280" y="314.24" font-size="5" text-anchor="start" fill="#1A1A1A">Nocardiaceae</text>
<rect x="269.2" y="315.96" width="7" height="7.02" fill="#DDDDDD" stroke="none" stroke-width="1"/>
<text x="280" y="321.26" font-size="5" text-anchor="start" fill="#1A1A1A">Lactobacillaceae</text>
<rect x="269.2" y="322.98" width="7" height="7.02" fill="#B3B3B3" stroke="none" stroke-width="1"/>
<text x="280" y="328.28" font-size="5" text-anchor="start" fill="#1A1A1A">Alphaproteobacteria_unclassified</text>
<rect x="269.2" y="330" width="7" height="7.02" fill="#6BB86A" stroke="none" stroke-width="1"/>
<text x="280" y="335.3" font-size="5" text-anchor="start" fill="#1A1A1A">Muribaculaceae</text>
<rect x="269.2" y="337.02" width="7" height="7.02" fill="#BDBDBD" stroke="none" stroke-width="1"/>
<text x="280" y="342.32" font-size="5" text-anchor="start" fill="#1A1A1A">Odoribacteraceae</text>
<rect x="269.2" y="344.04" width="7" height="7.02" fill="#E0E0E0" stroke="none" stroke-width="1"/>
<text x="280" y="349.34" font-size="5" text-anchor="start" fill="#1A1A1A">Bacteria_unclassified</text>
<rect x="269.2" y="351.06" width="7" height="7.02" fill="#9E86C1" stroke="none" stroke-width="1"/>
<text x="280" y="356.36" font-size="5" text-anchor="start" fill="#1A1A1A">Clostridia_unclassified</text>
<rect x="269.2" y="358.08" width="7" height="7.02" fill="#FBE891" stroke="none" stroke-width="1"/>
<text x="280" y="363.38" font-size="5" text-anchor="start" fill="#1A1A1A">Prevotellaceae</text>
<rect x="269.2" y="365.1" width="7" height="7.02" fill="#D9556C" stroke="none" stroke-width="1"/>
<text x="280" y="370.4" font-size="5" text-anchor="start" fill="#1A1A1A">Erysipelotrichaceae</text>
<rect x="269.2" y="372.12" width="7" height="7.02" fill="#E2E2E2" stroke="none" stroke-width="1"/>
<text x="280" y="377.42" font-size="5" text-anchor="start" fill="#1A1A1A">Clostridiaceae</text>
<rect x="269.2" y="379.14" width="7" height="7.02" fill="#DACCE4" stroke="none" stroke-width="1"/>
<text x="280" y="384.44" font-size="5" text-anchor="start" fill="#1A1A1A">FGB10299</text>
<text x="363" y="187.8" font-size="16.4" text-anchor="start" fill="#6E4D12">D</text>
<text x="502.1" y="185.9" font-size="7" text-anchor="start" fill="#111" font-weight="bold">Top Regulated Pathways</text>
<rect x="501.4" y="189.4" width="118.4" height="215.4" fill="#fff" stroke="none" stroke-width="1"/>
<line x1="509.85" y1="189.4" x2="509.85" y2="404.8" stroke="#F0F0F0" stroke-width="0.5"/>
<line x1="540.95" y1="189.4" x2="540.95" y2="404.8" stroke="#F0F0F0" stroke-width="0.5"/>
<line x1="572.05" y1="189.4" x2="572.05" y2="404.8" stroke="#F0F0F0" stroke-width="0.5"/>
<line x1="603.15" y1="189.4" x2="603.15" y2="404.8" stroke="#F0F0F0" stroke-width="0.5"/>
<line x1="525.4" y1="189.4" x2="525.4" y2="404.8" stroke="#E8E8E8" stroke-width="0.6"/>
<line x1="556.5" y1="189.4" x2="556.5" y2="404.8" stroke="#E8E8E8" stroke-width="0.6"/>
<line x1="587.6" y1="189.4" x2="587.6" y2="404.8" stroke="#E8E8E8" stroke-width="0.6"/>
<line x1="618.7" y1="189.4" x2="618.7" y2="404.8" stroke="#E8E8E8" stroke-width="0.6"/>
<line x1="501.4" y1="195.9" x2="619.8" y2="195.9" stroke="#EBEBEB" stroke-width="0.6"/>
<line x1="501.4" y1="206.56" x2="619.8" y2="206.56" stroke="#EBEBEB" stroke-width="0.6"/>
<line x1="501.4" y1="217.22" x2="619.8" y2="217.22" stroke="#EBEBEB" stroke-width="0.6"/>
<line x1="501.4" y1="227.88" x2="619.8" y2="227.88" stroke="#EBEBEB" stroke-width="0.6"/>
<line x1="501.4" y1="238.54" x2="619.8" y2="238.54" stroke="#EBEBEB" stroke-width="0.6"/>
<line x1="501.4" y1="249.2" x2="619.8" y2="249.2" stroke="#EBEBEB" stroke-width="0.6"/>
<line x1="501.4" y1="259.86" x2="619.8" y2="259.86" stroke="#EBEBEB" stroke-width="0.6"/>
<line x1="501.4" y1="270.52" x2="619.8" y2="270.52" stroke="#EBEBEB" stroke-width="0.6"/>
<line x1="501.4" y1="281.18" x2="619.8" y2="281.18" stroke="#EBEBEB" stroke-width="0.6"/>
<line x1="501.4" y1="291.84" x2="619.8" y2="291.84" stroke="#EBEBEB" stroke-width="0.6"/>
<line x1="501.4" y1="302.5" x2="619.8" y2="302.5" stroke="#EBEBEB" stroke-width="0.6"/>
<line x1="501.4" y1="313.16" x2="619.8" y2="313.16" stroke="#EBEBEB" stroke-width="0.6"/>
<line x1="501.4" y1="323.82" x2="619.8" y2="323.82" stroke="#EBEBEB" stroke-width="0.6"/>
<line x1="501.4" y1="334.48" x2="619.8" y2="334.48" stroke="#EBEBEB" stroke-width="0.6"/>
<line x1="501.4" y1="345.14" x2="619.8" y2="345.14" stroke="#EBEBEB" stroke-width="0.6"/>
<line x1="501.4" y1="355.8" x2="619.8" y2="355.8" stroke="#EBEBEB" stroke-width="0.6"/>
<line x1="501.4" y1="366.46" x2="619.8" y2="366.46" stroke="#EBEBEB" stroke-width="0.6"/>
<line x1="501.4" y1="377.12" x2="619.8" y2="377.12" stroke="#EBEBEB" stroke-width="0.6"/>
<line x1="501.4" y1="387.78" x2="619.8" y2="387.78" stroke="#EBEBEB" stroke-width="0.6"/>
<line x1="501.4" y1="398.44" x2="619.8" y2="398.44" stroke="#EBEBEB" stroke-width="0.6"/>
<rect x="501.4" y="189.4" width="118.4" height="215.4" fill="none" stroke="#C8C8C8" stroke-width="0.7"/>
<line x1="499.6" y1="195.9" x2="501.4" y2="195.9" stroke="#555" stroke-width="0.5"/>
<text x="497.6" y="197.4" font-size="5.4" text-anchor="end" fill="#4D4D4D">CO2 Fixation</text>
<circle cx="614.6" cy="195.9" r="4.5" fill="#338A33" stroke="none" stroke-width="1"/>
<line x1="499.6" y1="206.56" x2="501.4" y2="206.56" stroke="#555" stroke-width="0.5"/>
<text x="497.6" y="208.06" font-size="5.4" text-anchor="end" fill="#4D4D4D">L−alanine Biosynthesis</text>
<circle cx="614.6" cy="206.56" r="4.5" fill="#338A33" stroke="none" stroke-width="1"/>
<line x1="499.6" y1="217.22" x2="501.4" y2="217.22" stroke="#555" stroke-width="0.5"/>
<text x="497.6" y="218.72" font-size="5.4" text-anchor="end" fill="#4D4D4D">Formaldehyde Oxidation</text>
<circle cx="603.5" cy="217.22" r="4.8" fill="#338A33" stroke="none" stroke-width="1"/>
<line x1="499.6" y1="227.88" x2="501.4" y2="227.88" stroke="#555" stroke-width="0.5"/>
<text x="497.6" y="229.38" font-size="5.4" text-anchor="end" fill="#4D4D4D">L−lysine Fermentation to Acetate and Butyrate</text>
<circle cx="602.7" cy="227.88" r="4.8" fill="#338A33" stroke="none" stroke-width="1"/>
<line x1="499.6" y1="238.54" x2="501.4" y2="238.54" stroke="#555" stroke-width="0.5"/>
<text x="497.6" y="240.04" font-size="5.4" text-anchor="end" fill="#4D4D4D">Pyrimidine Deoxyribonucleotides De Novo Biosynthesis</text>
<circle cx="597.3" cy="238.54" r="3.4" fill="#338A33" stroke="none" stroke-width="1"/>
<line x1="499.6" y1="249.2" x2="501.4" y2="249.2" stroke="#555" stroke-width="0.5"/>
<text x="497.6" y="250.7" font-size="5.4" text-anchor="end" fill="#4D4D4D">All−trans−farnesol Biosynthesis</text>
<circle cx="594.9" cy="249.2" r="2.7" fill="#338A33" stroke="none" stroke-width="1"/>
<line x1="499.6" y1="259.86" x2="501.4" y2="259.86" stroke="#555" stroke-width="0.5"/>
<text x="497.6" y="261.36" font-size="5.4" text-anchor="end" fill="#4D4D4D">Geranylgeranyl Pyrophosphate Biosynthesis</text>
<circle cx="593.7" cy="259.86" r="2.4" fill="#338A33" stroke="none" stroke-width="1"/>
<line x1="499.6" y1="270.52" x2="501.4" y2="270.52" stroke="#555" stroke-width="0.5"/>
<text x="497.6" y="272.02" font-size="5.4" text-anchor="end" fill="#4D4D4D">Sucrose Mobilization</text>
<circle cx="592.5" cy="270.52" r="2.1" fill="#338A33" stroke="none" stroke-width="1"/>
<line x1="499.6" y1="281.18" x2="501.4" y2="281.18" stroke="#555" stroke-width="0.5"/>
<text x="497.6" y="282.68" font-size="5.4" text-anchor="end" fill="#4D4D4D">superpathway of pyrimidine ribonucleotides de novo biosynthesis</text>
<circle cx="591" cy="281.18" r="1.9" fill="#338A33" stroke="none" stroke-width="1"/>
<line x1="499.6" y1="291.84" x2="501.4" y2="291.84" stroke="#555" stroke-width="0.5"/>
<text x="497.6" y="293.34" font-size="5.4" text-anchor="end" fill="#4D4D4D">Cytosolic Anaerobic Energy Metabolism</text>
<circle cx="590.5" cy="291.84" r="1.7" fill="#338A33" stroke="none" stroke-width="1"/>
<line x1="499.6" y1="302.5" x2="501.4" y2="302.5" stroke="#555" stroke-width="0.5"/>
<text x="497.6" y="304" font-size="5.4" text-anchor="end" fill="#4D4D4D">Vitamin H Biosynthesis</text>
<circle cx="580.3" cy="302.5" r="2.3" fill="#C9C9C9" stroke="none" stroke-width="1"/>
<line x1="499.6" y1="313.16" x2="501.4" y2="313.16" stroke="#555" stroke-width="0.5"/>
<text x="497.6" y="314.66" font-size="5.4" text-anchor="end" fill="#4D4D4D">Phosphatidylglycerol biosynthesis II</text>
<circle cx="580" cy="313.16" r="2.2" fill="#C9C9C9" stroke="none" stroke-width="1"/>
<line x1="499.6" y1="323.82" x2="501.4" y2="323.82" stroke="#555" stroke-width="0.5"/>
<text x="497.6" y="325.32" font-size="5.4" text-anchor="end" fill="#4D4D4D">Phosphatidylglycerol biosynthesis I</text>
<circle cx="580" cy="323.82" r="2.2" fill="#C9C9C9" stroke="none" stroke-width="1"/>
<line x1="499.6" y1="334.48" x2="501.4" y2="334.48" stroke="#555" stroke-width="0.5"/>
<text x="497.6" y="335.98" font-size="5.4" text-anchor="end" fill="#4D4D4D">Lipid IV−A Biosynthesis (E. coli)</text>
<circle cx="579.7" cy="334.48" r="2.2" fill="#C9C9C9" stroke="none" stroke-width="1"/>
<line x1="499.6" y1="345.14" x2="501.4" y2="345.14" stroke="#555" stroke-width="0.5"/>
<text x="497.6" y="346.64" font-size="5.4" text-anchor="end" fill="#4D4D4D">Phospholipid Biosynthesis</text>
<circle cx="579.7" cy="345.14" r="2.2" fill="#C9C9C9" stroke="none" stroke-width="1"/>
<line x1="499.6" y1="355.8" x2="501.4" y2="355.8" stroke="#555" stroke-width="0.5"/>
<text x="497.6" y="357.3" font-size="5.4" text-anchor="end" fill="#4D4D4D">Lipid IV−A Biosynthesis (P. putida)</text>
<circle cx="579.4" cy="355.8" r="2.2" fill="#C9C9C9" stroke="none" stroke-width="1"/>
<line x1="499.6" y1="366.46" x2="501.4" y2="366.46" stroke="#555" stroke-width="0.5"/>
<text x="497.6" y="367.96" font-size="5.4" text-anchor="end" fill="#4D4D4D">Chitin Degradation</text>
<circle cx="577.3" cy="366.46" r="2.2" fill="#C9C9C9" stroke="none" stroke-width="1"/>
<line x1="499.6" y1="377.12" x2="501.4" y2="377.12" stroke="#555" stroke-width="0.5"/>
<text x="497.6" y="378.62" font-size="5.4" text-anchor="end" fill="#4D4D4D">Glycogen Catabolism</text>
<circle cx="575.8" cy="377.12" r="2.5" fill="#C9C9C9" stroke="none" stroke-width="1"/>
<line x1="499.6" y1="387.78" x2="501.4" y2="387.78" stroke="#555" stroke-width="0.5"/>
<text x="497.6" y="389.28" font-size="5.4" text-anchor="end" fill="#4D4D4D">Peptidoglycan Recycling</text>
<circle cx="568.9" cy="387.78" r="4.3" fill="#C9C9C9" stroke="none" stroke-width="1"/>
<line x1="499.6" y1="398.44" x2="501.4" y2="398.44" stroke="#555" stroke-width="0.5"/>
<text x="497.6" y="399.94" font-size="5.4" text-anchor="end" fill="#4D4D4D">Protocatechuate Degradation From Aromatic Compounds</text>
<circle cx="506.9" cy="398.44" r="4.6" fill="#C9C9C9" stroke="none" stroke-width="1"/>
<line x1="525.4" y1="404.8" x2="525.4" y2="406.6" stroke="#555" stroke-width="0.5"/>
<text x="525.4" y="410.6" font-size="4.7" text-anchor="middle" fill="#4D4D4D">−20</text>
<line x1="556.5" y1="404.8" x2="556.5" y2="406.6" stroke="#555" stroke-width="0.5"/>
<text x="556.5" y="410.6" font-size="4.7" text-anchor="middle" fill="#4D4D4D">−10</text>
<line x1="587.6" y1="404.8" x2="587.6" y2="406.6" stroke="#555" stroke-width="0.5"/>
<text x="587.6" y="410.6" font-size="4.7" text-anchor="middle" fill="#4D4D4D">0</text>
<line x1="618.7" y1="404.8" x2="618.7" y2="406.6" stroke="#555" stroke-width="0.5"/>
<text x="618.7" y="410.6" font-size="4.7" text-anchor="middle" fill="#4D4D4D">10</text>
<text x="561" y="415.9" font-size="4.6" text-anchor="middle" fill="#222">Median Feature Difference</text>
<text x="561.2" y="420.6" font-size="4.6" text-anchor="middle" fill="#222">[Reference vs McB]</text>
<text x="627.9" y="262.9" font-size="5.9" text-anchor="start" fill="#222">Pathway</text>
<text x="627.9" y="268.7" font-size="5.85" text-anchor="start" fill="#222">Abundance [CLR]</text>
<circle cx="632.6" cy="275.3" r="3" fill="#262626" stroke="none" stroke-width="1"/>
<text x="640.7" y="277.2" font-size="5.6" text-anchor="start" fill="#222">10</text>
<circle cx="632.6" cy="283.9" r="3.8" fill="#262626" stroke="none" stroke-width="1"/>
<text x="640.7" y="285.8" font-size="5.6" text-anchor="start" fill="#222">20</text>
<circle cx="632.6" cy="294" r="4.5" fill="#262626" stroke="none" stroke-width="1"/>
<text x="640.7" y="295.9" font-size="5.6" text-anchor="start" fill="#222">30</text>
<text x="627.1" y="312.5" font-size="5.88" text-anchor="start" fill="#222">Protein Source</text>
<circle cx="631.9" cy="318.6" r="1.8" fill="#338A33" stroke="none" stroke-width="1"/>
<text x="636.9" y="320.4" font-size="5.6" text-anchor="start" fill="#222">McB</text>
<circle cx="631.9" cy="325.8" r="1.8" fill="#C9C9C9" stroke="none" stroke-width="1"/>
<text x="636.9" y="327.7" font-size="5.6" text-anchor="start" fill="#222">Reference</text>
<text x="2.2" y="447" font-size="16.4" text-anchor="start" fill="#6E4D12">E</text>
<rect x="182.5" y="450.5" width="143.38" height="4.6" fill="#E69F00" stroke="none" stroke-width="1"/>
<line x1="180.3" y1="452.8" x2="182.5" y2="452.8" stroke="#333" stroke-width="0.6"/>
<text x="175.8" y="454.9" font-size="6.07" text-anchor="end" fill="#4D4D4D">CO2 Fixation</text>
<rect x="182.5" y="457.95" width="133.45" height="4.6" fill="#E69F00" stroke="none" stroke-width="1"/>
<line x1="180.3" y1="460.25" x2="182.5" y2="460.25" stroke="#333" stroke-width="0.6"/>
<text x="175.8" y="462.35" font-size="6.07" text-anchor="end" fill="#4D4D4D">L−alanine Biosynthesis</text>
<rect x="182.5" y="465.4" width="97.29" height="4.6" fill="#E69F00" stroke="none" stroke-width="1"/>
<line x1="180.3" y1="467.7" x2="182.5" y2="467.7" stroke="#333" stroke-width="0.6"/>
<text x="175.8" y="469.8" font-size="6.07" text-anchor="end" fill="#4D4D4D">Protocatechuate Degradation From Aromatic Compounds</text>
<rect x="182.5" y="472.85" width="56.86" height="4.6" fill="#E69F00" stroke="none" stroke-width="1"/>
<line x1="180.3" y1="475.15" x2="182.5" y2="475.15" stroke="#333" stroke-width="0.6"/>
<text x="175.8" y="477.25" font-size="6.07" text-anchor="end" fill="#4D4D4D">Pyrimidine Deoxyribonucleotides De Novo Biosynthesis</text>
<rect x="182.5" y="480.3" width="29.12" height="4.6" fill="#E69F00" stroke="none" stroke-width="1"/>
<line x1="180.3" y1="482.6" x2="182.5" y2="482.6" stroke="#333" stroke-width="0.6"/>
<text x="175.8" y="484.7" font-size="6.07" text-anchor="end" fill="#4D4D4D">All−trans−farnesol Biosynthesis</text>
<rect x="182.5" y="487.75" width="28.57" height="4.6" fill="#E69F00" stroke="none" stroke-width="1"/>
<line x1="180.3" y1="490.05" x2="182.5" y2="490.05" stroke="#333" stroke-width="0.6"/>
<text x="175.8" y="492.15" font-size="6.07" text-anchor="end" fill="#4D4D4D">Taxadiene Biosynthesis</text>
<rect x="182.5" y="495.2" width="28.57" height="4.6" fill="#E69F00" stroke="none" stroke-width="1"/>
<line x1="180.3" y1="497.5" x2="182.5" y2="497.5" stroke="#333" stroke-width="0.6"/>
<text x="175.8" y="499.6" font-size="6.07" text-anchor="end" fill="#4D4D4D">Peptidoglycan Recycling</text>
<rect x="182.5" y="502.65" width="26.63" height="4.6" fill="#E69F00" stroke="none" stroke-width="1"/>
<line x1="180.3" y1="504.95" x2="182.5" y2="504.95" stroke="#333" stroke-width="0.6"/>
<text x="175.8" y="507.05" font-size="6.07" text-anchor="end" fill="#4D4D4D">Chitin Degradation</text>
<rect x="182.5" y="510.1" width="25.53" height="4.6" fill="#E69F00" stroke="none" stroke-width="1"/>
<line x1="180.3" y1="512.4" x2="182.5" y2="512.4" stroke="#333" stroke-width="0.6"/>
<text x="175.8" y="514.5" font-size="6.07" text-anchor="end" fill="#4D4D4D">Bifidobacterium Fermentation Pathway</text>
<rect x="182.5" y="517.55" width="23.05" height="4.6" fill="#E69F00" stroke="none" stroke-width="1"/>
<line x1="180.3" y1="519.85" x2="182.5" y2="519.85" stroke="#333" stroke-width="0.6"/>
<text x="175.8" y="521.95" font-size="6.07" text-anchor="end" fill="#4D4D4D">Geranylgeranyl Pyrophosphate Biosynthesis</text>
<rect x="182.5" y="525" width="18.35" height="4.6" fill="#E69F00" stroke="none" stroke-width="1"/>
<line x1="180.3" y1="527.3" x2="182.5" y2="527.3" stroke="#333" stroke-width="0.6"/>
<text x="175.8" y="529.4" font-size="6.07" text-anchor="end" fill="#4D4D4D">L−lysine Fermentation to Acetate and Butyrate</text>
<rect x="182.5" y="532.45" width="16.84" height="4.6" fill="#E69F00" stroke="none" stroke-width="1"/>
<line x1="180.3" y1="534.75" x2="182.5" y2="534.75" stroke="#333" stroke-width="0.6"/>
<text x="175.8" y="536.85" font-size="6.07" text-anchor="end" fill="#4D4D4D">Phosphatidylglycerol biosynthesis II</text>
<rect x="182.5" y="539.9" width="16.56" height="4.6" fill="#E69F00" stroke="none" stroke-width="1"/>
<line x1="180.3" y1="542.2" x2="182.5" y2="542.2" stroke="#333" stroke-width="0.6"/>
<text x="175.8" y="544.3" font-size="6.07" text-anchor="end" fill="#4D4D4D">Phosphatidylglycerol biosynthesis I</text>
<rect x="182.5" y="547.35" width="16.28" height="4.6" fill="#E69F00" stroke="none" stroke-width="1"/>
<line x1="180.3" y1="549.65" x2="182.5" y2="549.65" stroke="#333" stroke-width="0.6"/>
<text x="175.8" y="551.75" font-size="6.07" text-anchor="end" fill="#4D4D4D">Phospholipid Biosynthesis</text>
<rect x="182.5" y="554.8" width="15.18" height="4.6" fill="#E69F00" stroke="none" stroke-width="1"/>
<line x1="180.3" y1="557.1" x2="182.5" y2="557.1" stroke="#333" stroke-width="0.6"/>
<text x="175.8" y="559.2" font-size="6.07" text-anchor="end" fill="#4D4D4D">superpathway of pyrimidine ribonucleotides de novo biosynthesis</text>
<rect x="182.5" y="562.25" width="12.14" height="4.6" fill="#E69F00" stroke="none" stroke-width="1"/>
<line x1="180.3" y1="564.55" x2="182.5" y2="564.55" stroke="#333" stroke-width="0.6"/>
<text x="175.8" y="566.65" font-size="6.07" text-anchor="end" fill="#4D4D4D">Lipid IV−A Biosynthesis (E. coli)</text>
<rect x="182.5" y="569.7" width="12.14" height="4.6" fill="#E69F00" stroke="none" stroke-width="1"/>
<line x1="180.3" y1="572" x2="182.5" y2="572" stroke="#333" stroke-width="0.6"/>
<text x="175.8" y="574.1" font-size="6.07" text-anchor="end" fill="#4D4D4D">Lipid IV−A Biosynthesis (P. putida)</text>
<rect x="182.5" y="577.15" width="11.32" height="4.6" fill="#E69F00" stroke="none" stroke-width="1"/>
<line x1="180.3" y1="579.45" x2="182.5" y2="579.45" stroke="#333" stroke-width="0.6"/>
<text x="175.8" y="581.55" font-size="6.07" text-anchor="end" fill="#4D4D4D">NAD Salvage</text>
<rect x="182.5" y="584.6" width="7.18" height="4.6" fill="#E69F00" stroke="none" stroke-width="1"/>
<line x1="180.3" y1="586.9" x2="182.5" y2="586.9" stroke="#333" stroke-width="0.6"/>
<text x="175.8" y="589" font-size="6.07" text-anchor="end" fill="#4D4D4D">Glycogen Catabolism</text>
<rect x="182.5" y="592.05" width="6.35" height="4.6" fill="#E69F00" stroke="none" stroke-width="1"/>
<line x1="180.3" y1="594.35" x2="182.5" y2="594.35" stroke="#333" stroke-width="0.6"/>
<text x="175.8" y="596.45" font-size="6.07" text-anchor="end" fill="#4D4D4D">Sucrose Mobilization</text>
<line x1="182.5" y1="446" x2="182.5" y2="599" stroke="#222" stroke-width="0.9"/>
<line x1="182.5" y1="598.8" x2="333.1" y2="598.8" stroke="#222" stroke-width="0.9"/>
<line x1="182.5" y1="598.8" x2="182.5" y2="601.2" stroke="#333" stroke-width="0.6"/>
<text x="182.5" y="609.3" font-size="6.6" text-anchor="middle" fill="#4D4D4D">0.0</text>
<line x1="217" y1="598.8" x2="217" y2="601.2" stroke="#333" stroke-width="0.6"/>
<text x="217" y="609.3" font-size="6.6" text-anchor="middle" fill="#4D4D4D">2.5</text>
<line x1="251.5" y1="598.8" x2="251.5" y2="601.2" stroke="#333" stroke-width="0.6"/>
<text x="251.5" y="609.3" font-size="6.6" text-anchor="middle" fill="#4D4D4D">5.0</text>
<line x1="286" y1="598.8" x2="286" y2="601.2" stroke="#333" stroke-width="0.6"/>
<text x="286" y="609.3" font-size="6.6" text-anchor="middle" fill="#4D4D4D">7.5</text>
<line x1="320.5" y1="598.8" x2="320.5" y2="601.2" stroke="#333" stroke-width="0.6"/>
<text x="320.5" y="609.3" font-size="6.6" text-anchor="middle" fill="#4D4D4D">10.0</text>
<text x="258.2" y="618.6" font-size="6.6" text-anchor="middle" fill="#222">−log10(Padj)</text>
<text x="361.5" y="447" font-size="16.4" text-anchor="start" fill="#6E4D12">F</text>
<text x="397.8" y="453.6" font-size="7.1" font-weight="bold" fill="#111"><tspan font-style="italic">Methylococcus Capsulatus</tspan> Bath</text>
<rect x="396" y="470" width="66.2" height="117.6" fill="#fff" stroke="none" stroke-width="1"/>
<line x1="396" y1="560.75" x2="462.2" y2="560.75" stroke="#F3F3F3" stroke-width="0.5"/>
<line x1="396" y1="536.25" x2="462.2" y2="536.25" stroke="#F3F3F3" stroke-width="0.5"/>
<line x1="396" y1="511.75" x2="462.2" y2="511.75" stroke="#F3F3F3" stroke-width="0.5"/>
<line x1="396" y1="487.25" x2="462.2" y2="487.25" stroke="#F3F3F3" stroke-width="0.5"/>
<line x1="396" y1="585.25" x2="462.2" y2="585.25" stroke="#F3F3F3" stroke-width="0.5"/>
<line x1="396" y1="573" x2="462.2" y2="573" stroke="#EBEBEB" stroke-width="0.6"/>
<line x1="396" y1="548.5" x2="462.2" y2="548.5" stroke="#EBEBEB" stroke-width="0.6"/>
<line x1="396" y1="524" x2="462.2" y2="524" stroke="#EBEBEB" stroke-width="0.6"/>
<line x1="396" y1="499.5" x2="462.2" y2="499.5" stroke="#EBEBEB" stroke-width="0.6"/>
<line x1="396" y1="475" x2="462.2" y2="475" stroke="#EBEBEB" stroke-width="0.6"/>
<line x1="400.3" y1="470" x2="400.3" y2="587.6" stroke="#EBEBEB" stroke-width="0.6"/>
<line x1="407.55" y1="470" x2="407.55" y2="587.6" stroke="#EBEBEB" stroke-width="0.6"/>
<line x1="414.8" y1="470" x2="414.8" y2="587.6" stroke="#EBEBEB" stroke-width="0.6"/>
<line x1="422.05" y1="470" x2="422.05" y2="587.6" stroke="#EBEBEB" stroke-width="0.6"/>
<line x1="429.3" y1="470" x2="429.3" y2="587.6" stroke="#EBEBEB" stroke-width="0.6"/>
<line x1="436.55" y1="470" x2="436.55" y2="587.6" stroke="#EBEBEB" stroke-width="0.6"/>
<line x1="443.8" y1="470" x2="443.8" y2="587.6" stroke="#EBEBEB" stroke-width="0.6"/>
<line x1="451.05" y1="470" x2="451.05" y2="587.6" stroke="#EBEBEB" stroke-width="0.6"/>
<line x1="458.3" y1="470" x2="458.3" y2="587.6" stroke="#EBEBEB" stroke-width="0.6"/>
<rect x="396" y="470" width="66.2" height="117.6" fill="none" stroke="#D0D0D0" stroke-width="0.7"/>
<rect x="396" y="459" width="66.2" height="11" fill="#D9D9D9" stroke="none" stroke-width="1"/>
<text x="429.1" y="467.0" font-size="7.5" text-anchor="middle" font-weight="normal" fill="#1A1A1A">Simple<tspan font-size="4.8" dy="1.4">ref</tspan></text>
<text x="401.8" y="590.8" font-size="3.2" text-anchor="end" fill="#888" transform="rotate(-28 401.8 590.8)">W0</text>
<text x="409.05" y="590.8" font-size="3.2" text-anchor="end" fill="#888" transform="rotate(-28 409.05 590.8)">W4</text>
<text x="416.3" y="590.8" font-size="3.2" text-anchor="end" fill="#888" transform="rotate(-28 416.3 590.8)">W7+2d</text>
<text x="423.55" y="590.8" font-size="3.2" text-anchor="end" fill="#888" transform="rotate(-28 423.55 590.8)">W7+5d</text>
<text x="430.8" y="590.8" font-size="3.2" text-anchor="end" fill="#888" transform="rotate(-28 430.8 590.8)">W8+4d</text>
<text x="438.05" y="590.8" font-size="3.2" text-anchor="end" fill="#888" transform="rotate(-28 438.05 590.8)">W9</text>
<text x="445.3" y="590.8" font-size="3.2" text-anchor="end" fill="#888" transform="rotate(-28 445.3 590.8)">W10</text>
<text x="452.55" y="590.8" font-size="3.2" text-anchor="end" fill="#888" transform="rotate(-28 452.55 590.8)">W11</text>
<text x="459.8" y="590.8" font-size="3.2" text-anchor="end" fill="#888" transform="rotate(-28 459.8 590.8)">W11+4d</text>
<rect x="400.3" y="572" width="58" height="2" fill="#BDBDBD" stroke="none" stroke-width="1"/>
<line x1="400.3" y1="573" x2="458.3" y2="573" stroke="#333" stroke-width="0.6"/>
<circle cx="400.3" cy="573" r="1.9" fill="#000" stroke="none" stroke-width="1"/>
<circle cx="407.55" cy="573" r="1.9" fill="#000" stroke="none" stroke-width="1"/>
<circle cx="414.8" cy="573" r="1.9" fill="#000" stroke="none" stroke-width="1"/>
<circle cx="422.05" cy="573" r="1.9" fill="#000" stroke="none" stroke-width="1"/>
<circle cx="429.3" cy="573" r="1.9" fill="#000" stroke="none" stroke-width="1"/>
<circle cx="436.55" cy="573" r="1.9" fill="#000" stroke="none" stroke-width="1"/>
<circle cx="443.8" cy="573" r="1.9" fill="#000" stroke="none" stroke-width="1"/>
<circle cx="451.05" cy="573" r="1.9" fill="#000" stroke="none" stroke-width="1"/>
<circle cx="458.3" cy="573" r="1.9" fill="#000" stroke="none" stroke-width="1"/>
<rect x="465" y="470" width="66.2" height="117.6" fill="#fff" stroke="none" stroke-width="1"/>
<line x1="465" y1="560.75" x2="531.2" y2="560.75" stroke="#F3F3F3" stroke-width="0.5"/>
<line x1="465" y1="536.25" x2="531.2" y2="536.25" stroke="#F3F3F3" stroke-width="0.5"/>
<line x1="465" y1="511.75" x2="531.2" y2="511.75" stroke="#F3F3F3" stroke-width="0.5"/>
<line x1="465" y1="487.25" x2="531.2" y2="487.25" stroke="#F3F3F3" stroke-width="0.5"/>
<line x1="465" y1="585.25" x2="531.2" y2="585.25" stroke="#F3F3F3" stroke-width="0.5"/>
<line x1="465" y1="573" x2="531.2" y2="573" stroke="#EBEBEB" stroke-width="0.6"/>
<line x1="465" y1="548.5" x2="531.2" y2="548.5" stroke="#EBEBEB" stroke-width="0.6"/>
<line x1="465" y1="524" x2="531.2" y2="524" stroke="#EBEBEB" stroke-width="0.6"/>
<line x1="465" y1="499.5" x2="531.2" y2="499.5" stroke="#EBEBEB" stroke-width="0.6"/>
<line x1="465" y1="475" x2="531.2" y2="475" stroke="#EBEBEB" stroke-width="0.6"/>
<line x1="469.3" y1="470" x2="469.3" y2="587.6" stroke="#EBEBEB" stroke-width="0.6"/>
<line x1="476.55" y1="470" x2="476.55" y2="587.6" stroke="#EBEBEB" stroke-width="0.6"/>
<line x1="483.8" y1="470" x2="483.8" y2="587.6" stroke="#EBEBEB" stroke-width="0.6"/>
<line x1="491.05" y1="470" x2="491.05" y2="587.6" stroke="#EBEBEB" stroke-width="0.6"/>
<line x1="498.3" y1="470" x2="498.3" y2="587.6" stroke="#EBEBEB" stroke-width="0.6"/>
<line x1="505.55" y1="470" x2="505.55" y2="587.6" stroke="#EBEBEB" stroke-width="0.6"/>
<line x1="512.8" y1="470" x2="512.8" y2="587.6" stroke="#EBEBEB" stroke-width="0.6"/>
<line x1="520.05" y1="470" x2="520.05" y2="587.6" stroke="#EBEBEB" stroke-width="0.6"/>
<line x1="527.3" y1="470" x2="527.3" y2="587.6" stroke="#EBEBEB" stroke-width="0.6"/>
<rect x="465" y="470" width="66.2" height="117.6" fill="none" stroke="#D0D0D0" stroke-width="0.7"/>
<rect x="465" y="459" width="66.2" height="11" fill="#D9D9D9" stroke="none" stroke-width="1"/>
<text x="498.1" y="467.0" font-size="7.3" text-anchor="middle" font-weight="bold" fill="#0000EE">Simple<tspan font-size="4.8" dy="1.4">McB</tspan></text>
<text x="470.8" y="590.8" font-size="3.2" text-anchor="end" fill="#888" transform="rotate(-28 470.8 590.8)">W0</text>
<text x="478.05" y="590.8" font-size="3.2" text-anchor="end" fill="#888" transform="rotate(-28 478.05 590.8)">W4</text>
<text x="485.3" y="590.8" font-size="3.2" text-anchor="end" fill="#888" transform="rotate(-28 485.3 590.8)">W7+2d</text>
<text x="492.55" y="590.8" font-size="3.2" text-anchor="end" fill="#888" transform="rotate(-28 492.55 590.8)">W7+5d</text>
<text x="499.8" y="590.8" font-size="3.2" text-anchor="end" fill="#888" transform="rotate(-28 499.8 590.8)">W8+4d</text>
<text x="507.05" y="590.8" font-size="3.2" text-anchor="end" fill="#888" transform="rotate(-28 507.05 590.8)">W9</text>
<text x="514.3" y="590.8" font-size="3.2" text-anchor="end" fill="#888" transform="rotate(-28 514.3 590.8)">W10</text>
<text x="521.55" y="590.8" font-size="3.2" text-anchor="end" fill="#888" transform="rotate(-28 521.55 590.8)">W11</text>
<text x="528.8" y="590.8" font-size="3.2" text-anchor="end" fill="#888" transform="rotate(-28 528.8 590.8)">W11+4d</text>
<path d="M 469.3,564.4 C 470.51,564.08 474.13,563.23 476.55,562.5 C 478.97,561.77 481.38,560.92 483.8,560 C 486.22,559.08 488.63,557.78 491.05,557 C 493.47,556.22 495.88,555.05 498.3,555.3 C 500.72,555.55 503.13,556.98 505.55,558.5 C 507.97,560.02 510.38,563.73 512.8,564.4 C 515.22,565.07 517.63,564.2 520.05,562.5 C 522.47,560.8 526.09,555.58 527.3,554.2 L 527.3,567.5 C 526.09,568.67 522.47,572.97 520.05,574.5 C 517.63,576.03 515.22,577.2 512.8,576.7 C 510.38,576.2 507.97,573.03 505.55,571.5 C 503.13,569.97 500.72,567.42 498.3,567.5 C 495.88,567.58 493.47,570.5 491.05,572 C 488.63,573.5 486.22,575.25 483.8,576.5 C 481.38,577.75 478.97,578.62 476.55,579.5 C 474.13,580.38 470.51,581.42 469.3,581.8 Z" fill="#7373FF" stroke="none" stroke-width="1" opacity="0.75"/>
<rect x="481.2" y="571.5" width="5.2" height="1.5" fill="#0000FF" stroke="none" stroke-width="1"/>
<rect x="488.45" y="565.5" width="5.2" height="7.5" fill="#0000FF" stroke="none" stroke-width="1"/>
<rect x="495.7" y="542.6" width="5.2" height="30.4" fill="#0000FF" stroke="none" stroke-width="1"/>
<rect x="502.95" y="571.5" width="5.2" height="1.5" fill="#0000FF" stroke="none" stroke-width="1"/>
<rect x="517.45" y="569.6" width="5.2" height="3.4" fill="#0000FF" stroke="none" stroke-width="1"/>
<rect x="524.7" y="558.7" width="5.2" height="14.3" fill="#0000FF" stroke="none" stroke-width="1"/>
<line x1="498.3" y1="511.3" x2="498.3" y2="542.6" stroke="#A0A0A0" stroke-width="1.2"/>
<path d="M 469.3,573.6 C 470.51,573.43 474.13,573.1 476.55,572.6 C 478.97,572.1 481.38,571.62 483.8,570.6 C 486.22,569.58 488.63,567.93 491.05,566.5 C 493.47,565.07 495.88,562.25 498.3,562 C 500.72,561.75 503.13,563.73 505.55,565 C 507.97,566.27 510.38,569.1 512.8,569.6 C 515.22,570.1 517.63,569.53 520.05,568 C 522.47,566.47 526.09,561.67 527.3,560.4" fill="none" stroke="#0000FF" stroke-width="1"/>
<polygon points="469.3,570.59 471.6,574.73 467,574.73" fill="#000" stroke="none" stroke-width="1"/>
<polygon points="476.55,570.59 478.85,574.73 474.25,574.73" fill="#000" stroke="none" stroke-width="1"/>
<polygon points="483.8,570.59 486.1,574.73 481.5,574.73" fill="#000" stroke="none" stroke-width="1"/>
<polygon points="491.05,570.59 493.35,574.73 488.75,574.73" fill="#000" stroke="none" stroke-width="1"/>
<polygon points="498.3,570.59 500.6,574.73 496,574.73" fill="#000" stroke="none" stroke-width="1"/>
<polygon points="505.55,570.59 507.85,574.73 503.25,574.73" fill="#000" stroke="none" stroke-width="1"/>
<polygon points="512.8,570.59 515.1,574.73 510.5,574.73" fill="#000" stroke="none" stroke-width="1"/>
<polygon points="520.05,570.59 522.35,574.73 517.75,574.73" fill="#000" stroke="none" stroke-width="1"/>
<polygon points="527.3,570.59 529.6,574.73 525,574.73" fill="#000" stroke="none" stroke-width="1"/>
<polygon points="498.3,508.88 500.6,513.02 496,513.02" fill="#000" stroke="none" stroke-width="1"/>
<polygon points="498.3,531.59 500.6,535.73 496,535.73" fill="#000" stroke="none" stroke-width="1"/>
<polygon points="491.05,539.09 493.35,543.23 488.75,543.23" fill="#000" stroke="none" stroke-width="1"/>
<polygon points="512.8,549.09 515.1,553.23 510.5,553.23" fill="#000" stroke="none" stroke-width="1"/>
<polygon points="520.05,548.09 522.35,552.23 517.75,552.23" fill="#000" stroke="none" stroke-width="1"/>
<polygon points="527.3,534.59 529.6,538.73 525,538.73" fill="#000" stroke="none" stroke-width="1"/>
<polygon points="527.3,550.59 529.6,554.73 525,554.73" fill="#000" stroke="none" stroke-width="1"/>
<polygon points="498.3,564.59 500.6,568.73 496,568.73" fill="#000" stroke="none" stroke-width="1"/>
<polygon points="491.05,565.59 493.35,569.73 488.75,569.73" fill="#000" stroke="none" stroke-width="1"/>
<polygon points="527.3,555.59 529.6,559.73 525,559.73" fill="#000" stroke="none" stroke-width="1"/>
<polygon points="520.05,566.09 522.35,570.23 517.75,570.23" fill="#000" stroke="none" stroke-width="1"/>
<rect x="534" y="470" width="66.2" height="117.6" fill="#fff" stroke="none" stroke-width="1"/>
<line x1="534" y1="560.75" x2="600.2" y2="560.75" stroke="#F3F3F3" stroke-width="0.5"/>
<line x1="534" y1="536.25" x2="600.2" y2="536.25" stroke="#F3F3F3" stroke-width="0.5"/>
<line x1="534" y1="511.75" x2="600.2" y2="511.75" stroke="#F3F3F3" stroke-width="0.5"/>
<line x1="534" y1="487.25" x2="600.2" y2="487.25" stroke="#F3F3F3" stroke-width="0.5"/>
<line x1="534" y1="585.25" x2="600.2" y2="585.25" stroke="#F3F3F3" stroke-width="0.5"/>
<line x1="534" y1="573" x2="600.2" y2="573" stroke="#EBEBEB" stroke-width="0.6"/>
<line x1="534" y1="548.5" x2="600.2" y2="548.5" stroke="#EBEBEB" stroke-width="0.6"/>
<line x1="534" y1="524" x2="600.2" y2="524" stroke="#EBEBEB" stroke-width="0.6"/>
<line x1="534" y1="499.5" x2="600.2" y2="499.5" stroke="#EBEBEB" stroke-width="0.6"/>
<line x1="534" y1="475" x2="600.2" y2="475" stroke="#EBEBEB" stroke-width="0.6"/>
<line x1="538.3" y1="470" x2="538.3" y2="587.6" stroke="#EBEBEB" stroke-width="0.6"/>
<line x1="545.55" y1="470" x2="545.55" y2="587.6" stroke="#EBEBEB" stroke-width="0.6"/>
<line x1="552.8" y1="470" x2="552.8" y2="587.6" stroke="#EBEBEB" stroke-width="0.6"/>
<line x1="560.05" y1="470" x2="560.05" y2="587.6" stroke="#EBEBEB" stroke-width="0.6"/>
<line x1="567.3" y1="470" x2="567.3" y2="587.6" stroke="#EBEBEB" stroke-width="0.6"/>
<line x1="574.55" y1="470" x2="574.55" y2="587.6" stroke="#EBEBEB" stroke-width="0.6"/>
<line x1="581.8" y1="470" x2="581.8" y2="587.6" stroke="#EBEBEB" stroke-width="0.6"/>
<line x1="589.05" y1="470" x2="589.05" y2="587.6" stroke="#EBEBEB" stroke-width="0.6"/>
<line x1="596.3" y1="470" x2="596.3" y2="587.6" stroke="#EBEBEB" stroke-width="0.6"/>
<rect x="534" y="470" width="66.2" height="117.6" fill="none" stroke="#D0D0D0" stroke-width="0.7"/>
<rect x="534" y="459" width="66.2" height="11" fill="#D9D9D9" stroke="none" stroke-width="1"/>
<text x="567.1" y="467.0" font-size="7.9" text-anchor="middle" font-weight="bold" fill="#5A5A5A">Complex<tspan font-size="4.8" dy="1.4">ref</tspan></text>
<text x="539.8" y="590.8" font-size="3.2" text-anchor="end" fill="#888" transform="rotate(-28 539.8 590.8)">W0</text>
<text x="547.05" y="590.8" font-size="3.2" text-anchor="end" fill="#888" transform="rotate(-28 547.05 590.8)">W4</text>
<text x="554.3" y="590.8" font-size="3.2" text-anchor="end" fill="#888" transform="rotate(-28 554.3 590.8)">W7+2d</text>
<text x="561.55" y="590.8" font-size="3.2" text-anchor="end" fill="#888" transform="rotate(-28 561.55 590.8)">W7+5d</text>
<text x="568.8" y="590.8" font-size="3.2" text-anchor="end" fill="#888" transform="rotate(-28 568.8 590.8)">W8+4d</text>
<text x="576.05" y="590.8" font-size="3.2" text-anchor="end" fill="#888" transform="rotate(-28 576.05 590.8)">W9</text>
<text x="583.3" y="590.8" font-size="3.2" text-anchor="end" fill="#888" transform="rotate(-28 583.3 590.8)">W10</text>
<text x="590.55" y="590.8" font-size="3.2" text-anchor="end" fill="#888" transform="rotate(-28 590.55 590.8)">W11</text>
<text x="597.8" y="590.8" font-size="3.2" text-anchor="end" fill="#888" transform="rotate(-28 597.8 590.8)">W11+4d</text>
<rect x="538.3" y="572" width="58" height="2" fill="#BDBDBD" stroke="none" stroke-width="1"/>
<line x1="538.3" y1="573" x2="596.3" y2="573" stroke="#333" stroke-width="0.6"/>
<rect x="536.7" y="571.4" width="3.2" height="3.2" fill="#000" stroke="none" stroke-width="1"/>
<rect x="543.95" y="571.4" width="3.2" height="3.2" fill="#000" stroke="none" stroke-width="1"/>
<rect x="551.2" y="571.4" width="3.2" height="3.2" fill="#000" stroke="none" stroke-width="1"/>
<rect x="558.45" y="571.4" width="3.2" height="3.2" fill="#000" stroke="none" stroke-width="1"/>
<rect x="565.7" y="571.4" width="3.2" height="3.2" fill="#000" stroke="none" stroke-width="1"/>
<rect x="572.95" y="571.4" width="3.2" height="3.2" fill="#000" stroke="none" stroke-width="1"/>
<rect x="580.2" y="571.4" width="3.2" height="3.2" fill="#000" stroke="none" stroke-width="1"/>
<rect x="587.45" y="571.4" width="3.2" height="3.2" fill="#000" stroke="none" stroke-width="1"/>
<rect x="594.7" y="571.4" width="3.2" height="3.2" fill="#000" stroke="none" stroke-width="1"/>
<rect x="602.9" y="470" width="66.2" height="117.6" fill="#fff" stroke="none" stroke-width="1"/>
<line x1="602.9" y1="560.75" x2="669.1" y2="560.75" stroke="#F3F3F3" stroke-width="0.5"/>
<line x1="602.9" y1="536.25" x2="669.1" y2="536.25" stroke="#F3F3F3" stroke-width="0.5"/>
<line x1="602.9" y1="511.75" x2="669.1" y2="511.75" stroke="#F3F3F3" stroke-width="0.5"/>
<line x1="602.9" y1="487.25" x2="669.1" y2="487.25" stroke="#F3F3F3" stroke-width="0.5"/>
<line x1="602.9" y1="585.25" x2="669.1" y2="585.25" stroke="#F3F3F3" stroke-width="0.5"/>
<line x1="602.9" y1="573" x2="669.1" y2="573" stroke="#EBEBEB" stroke-width="0.6"/>
<line x1="602.9" y1="548.5" x2="669.1" y2="548.5" stroke="#EBEBEB" stroke-width="0.6"/>
<line x1="602.9" y1="524" x2="669.1" y2="524" stroke="#EBEBEB" stroke-width="0.6"/>
<line x1="602.9" y1="499.5" x2="669.1" y2="499.5" stroke="#EBEBEB" stroke-width="0.6"/>
<line x1="602.9" y1="475" x2="669.1" y2="475" stroke="#EBEBEB" stroke-width="0.6"/>
<line x1="607.2" y1="470" x2="607.2" y2="587.6" stroke="#EBEBEB" stroke-width="0.6"/>
<line x1="614.45" y1="470" x2="614.45" y2="587.6" stroke="#EBEBEB" stroke-width="0.6"/>
<line x1="621.7" y1="470" x2="621.7" y2="587.6" stroke="#EBEBEB" stroke-width="0.6"/>
<line x1="628.95" y1="470" x2="628.95" y2="587.6" stroke="#EBEBEB" stroke-width="0.6"/>
<line x1="636.2" y1="470" x2="636.2" y2="587.6" stroke="#EBEBEB" stroke-width="0.6"/>
<line x1="643.45" y1="470" x2="643.45" y2="587.6" stroke="#EBEBEB" stroke-width="0.6"/>
<line x1="650.7" y1="470" x2="650.7" y2="587.6" stroke="#EBEBEB" stroke-width="0.6"/>
<line x1="657.95" y1="470" x2="657.95" y2="587.6" stroke="#EBEBEB" stroke-width="0.6"/>
<line x1="665.2" y1="470" x2="665.2" y2="587.6" stroke="#EBEBEB" stroke-width="0.6"/>
<rect x="602.9" y="470" width="66.2" height="117.6" fill="none" stroke="#D0D0D0" stroke-width="0.7"/>
<rect x="602.9" y="459" width="66.2" height="11" fill="#D9D9D9" stroke="none" stroke-width="1"/>
<text x="636" y="467.0" font-size="7.9" text-anchor="middle" font-weight="bold" fill="#1A8A1A">Complex<tspan font-size="4.8" dy="1.4">McB</tspan></text>
<text x="608.7" y="590.8" font-size="3.2" text-anchor="end" fill="#888" transform="rotate(-28 608.7 590.8)">W0</text>
<text x="615.95" y="590.8" font-size="3.2" text-anchor="end" fill="#888" transform="rotate(-28 615.95 590.8)">W4</text>
<text x="623.2" y="590.8" font-size="3.2" text-anchor="end" fill="#888" transform="rotate(-28 623.2 590.8)">W7+2d</text>
<text x="630.45" y="590.8" font-size="3.2" text-anchor="end" fill="#888" transform="rotate(-28 630.45 590.8)">W7+5d</text>
<text x="637.7" y="590.8" font-size="3.2" text-anchor="end" fill="#888" transform="rotate(-28 637.7 590.8)">W8+4d</text>
<text x="644.95" y="590.8" font-size="3.2" text-anchor="end" fill="#888" transform="rotate(-28 644.95 590.8)">W9</text>
<text x="652.2" y="590.8" font-size="3.2" text-anchor="end" fill="#888" transform="rotate(-28 652.2 590.8)">W10</text>
<text x="659.45" y="590.8" font-size="3.2" text-anchor="end" fill="#888" transform="rotate(-28 659.45 590.8)">W11</text>
<text x="666.7" y="590.8" font-size="3.2" text-anchor="end" fill="#888" transform="rotate(-28 666.7 590.8)">W11+4d</text>
<path d="M 607.2,574.5 L 607.2,572.3 L 614.45,571.8 L 621.7,570.8 L 628.95,569.5 L 636.2,568.5 L 643.45,571 L 650.7,572 L 657.95,572.3 L 665.2,572.5 L 665.2,574.5 Z" fill="#1E7A1E" stroke="none" stroke-width="1" opacity="0.5"/>
<rect x="633.8" y="568.4" width="4.8" height="4.6" fill="#0E6E0E" stroke="none" stroke-width="1"/>
<polyline points="607.2,573.2 614.45,572.8 621.7,572 628.95,571 636.2,570.3 643.45,572 650.7,572.8 657.95,573 665.2,573.2" fill="none" stroke="#157A15" stroke-width="1.2"/>
<line x1="605" y1="573" x2="609.4" y2="573" stroke="#000" stroke-width="0.8"/>
<line x1="607.2" y1="570.8" x2="607.2" y2="575.2" stroke="#000" stroke-width="0.8"/>
<line x1="612.25" y1="573" x2="616.65" y2="573" stroke="#000" stroke-width="0.8"/>
<line x1="614.45" y1="570.8" x2="614.45" y2="575.2" stroke="#000" stroke-width="0.8"/>
<line x1="619.5" y1="573" x2="623.9" y2="573" stroke="#000" stroke-width="0.8"/>
<line x1="621.7" y1="570.8" x2="621.7" y2="575.2" stroke="#000" stroke-width="0.8"/>
<line x1="626.75" y1="573" x2="631.15" y2="573" stroke="#000" stroke-width="0.8"/>
<line x1="628.95" y1="570.8" x2="628.95" y2="575.2" stroke="#000" stroke-width="0.8"/>
<line x1="634" y1="573" x2="638.4" y2="573" stroke="#000" stroke-width="0.8"/>
<line x1="636.2" y1="570.8" x2="636.2" y2="575.2" stroke="#000" stroke-width="0.8"/>
<line x1="641.25" y1="573" x2="645.65" y2="573" stroke="#000" stroke-width="0.8"/>
<line x1="643.45" y1="570.8" x2="643.45" y2="575.2" stroke="#000" stroke-width="0.8"/>
<line x1="648.5" y1="573" x2="652.9" y2="573" stroke="#000" stroke-width="0.8"/>
<line x1="650.7" y1="570.8" x2="650.7" y2="575.2" stroke="#000" stroke-width="0.8"/>
<line x1="655.75" y1="573" x2="660.15" y2="573" stroke="#000" stroke-width="0.8"/>
<line x1="657.95" y1="570.8" x2="657.95" y2="575.2" stroke="#000" stroke-width="0.8"/>
<line x1="663" y1="573" x2="667.4" y2="573" stroke="#000" stroke-width="0.8"/>
<line x1="665.2" y1="570.8" x2="665.2" y2="575.2" stroke="#000" stroke-width="0.8"/>
<line x1="626.75" y1="564" x2="631.15" y2="564" stroke="#000" stroke-width="0.8"/>
<line x1="628.95" y1="561.8" x2="628.95" y2="566.2" stroke="#000" stroke-width="0.8"/>
<line x1="634" y1="563.5" x2="638.4" y2="563.5" stroke="#000" stroke-width="0.8"/>
<line x1="636.2" y1="561.3" x2="636.2" y2="565.7" stroke="#000" stroke-width="0.8"/>
<line x1="634" y1="568" x2="638.4" y2="568" stroke="#000" stroke-width="0.8"/>
<line x1="636.2" y1="565.8" x2="636.2" y2="570.2" stroke="#000" stroke-width="0.8"/>
<line x1="394.2" y1="475" x2="396" y2="475" stroke="#555" stroke-width="0.5"/>
<text x="393.3" y="476.6" font-size="4.6" text-anchor="end" fill="#666">0.0100</text>
<line x1="394.2" y1="499.5" x2="396" y2="499.5" stroke="#555" stroke-width="0.5"/>
<text x="393.3" y="501.1" font-size="4.6" text-anchor="end" fill="#666">0.0075</text>
<line x1="394.2" y1="524" x2="396" y2="524" stroke="#555" stroke-width="0.5"/>
<text x="393.3" y="525.6" font-size="4.6" text-anchor="end" fill="#666">0.0050</text>
<line x1="394.2" y1="548.5" x2="396" y2="548.5" stroke="#555" stroke-width="0.5"/>
<text x="393.3" y="550.1" font-size="4.6" text-anchor="end" fill="#666">0.0025</text>
<line x1="394.2" y1="573" x2="396" y2="573" stroke="#555" stroke-width="0.5"/>
<text x="393.3" y="574.6" font-size="4.6" text-anchor="end" fill="#666">0.0000</text>
<text x="373.4" y="524.6" font-size="7.8" text-anchor="middle" fill="#111" font-weight="bold" transform="rotate(-90 373.4 524.6)">Relative abundance (%)</text>
<text x="389.3" y="609.5" font-size="6.9" text-anchor="start" fill="#111" font-weight="bold">Time</text>
<line x1="408" y1="607.3" x2="496" y2="607.3" stroke="#000" stroke-width="1.3"/>
<polygon points="500.5,607.3 493.6,604.5 495.3,607.3 493.6,610.1" fill="#000" stroke="none" stroke-width="1"/>
<text x="0.6" y="643.8" font-size="16.4" fill="#6E4D12">G</text>
<rect x="32.3" y="653.5" width="98.3" height="74.2" fill="#fff" stroke="none" stroke-width="1"/>
<g><clipPath id="cp0"><rect x="32.3" y="653.5" width="98.3" height="74.2"/></clipPath></g>
<line x1="32.3" y1="718.88" x2="130.6" y2="718.88" stroke="#F2F2F2" stroke-width="0.45"/>
<line x1="32.3" y1="705.92" x2="130.6" y2="705.92" stroke="#F2F2F2" stroke-width="0.45"/>
<line x1="32.3" y1="692.98" x2="130.6" y2="692.98" stroke="#F2F2F2" stroke-width="0.45"/>
<line x1="32.3" y1="680.02" x2="130.6" y2="680.02" stroke="#F2F2F2" stroke-width="0.45"/>
<line x1="32.3" y1="667.07" x2="130.6" y2="667.07" stroke="#F2F2F2" stroke-width="0.45"/>
<line x1="32.3" y1="654.12" x2="130.6" y2="654.12" stroke="#F2F2F2" stroke-width="0.45"/>
<line x1="48.41" y1="653.5" x2="48.41" y2="727.7" stroke="#F2F2F2" stroke-width="0.45"/>
<line x1="71.72" y1="653.5" x2="71.72" y2="727.7" stroke="#F2F2F2" stroke-width="0.45"/>
<line x1="95.03" y1="653.5" x2="95.03" y2="727.7" stroke="#F2F2F2" stroke-width="0.45"/>
<line x1="118.33" y1="653.5" x2="118.33" y2="727.7" stroke="#F2F2F2" stroke-width="0.45"/>
<line x1="32.3" y1="660.6" x2="130.6" y2="660.6" stroke="#E6E6E6" stroke-width="0.6"/>
<line x1="32.3" y1="673.55" x2="130.6" y2="673.55" stroke="#E6E6E6" stroke-width="0.6"/>
<line x1="32.3" y1="686.5" x2="130.6" y2="686.5" stroke="#E6E6E6" stroke-width="0.6"/>
<line x1="32.3" y1="699.45" x2="130.6" y2="699.45" stroke="#E6E6E6" stroke-width="0.6"/>
<line x1="32.3" y1="712.4" x2="130.6" y2="712.4" stroke="#E6E6E6" stroke-width="0.6"/>
<line x1="32.3" y1="725.35" x2="130.6" y2="725.35" stroke="#E6E6E6" stroke-width="0.6"/>
<line x1="36.75" y1="653.5" x2="36.75" y2="727.7" stroke="#E6E6E6" stroke-width="0.6"/>
<line x1="60.06" y1="653.5" x2="60.06" y2="727.7" stroke="#E6E6E6" stroke-width="0.6"/>
<line x1="83.37" y1="653.5" x2="83.37" y2="727.7" stroke="#E6E6E6" stroke-width="0.6"/>
<line x1="106.68" y1="653.5" x2="106.68" y2="727.7" stroke="#E6E6E6" stroke-width="0.6"/>
<line x1="129.99" y1="653.5" x2="129.99" y2="727.7" stroke="#E6E6E6" stroke-width="0.6"/>
<g clip-path="url(#cp0)">
<path d="M 36.75,700.75 C 40.63,701.39 52.29,704.41 60.06,704.63 C 67.83,704.85 77.54,703.55 83.37,702.04 C 89.2,700.53 91.14,698.37 95.03,695.56 C 98.91,692.76 103.44,687.79 106.68,685.2 C 109.92,682.61 111.86,681.54 114.45,680.02 C 117.04,678.51 120.15,677.43 122.22,676.14 C 124.29,674.85 126.1,672.9 126.88,672.25 L 126.88,692.98 C 126.1,692.54 124.29,690.38 122.22,690.38 C 120.15,690.38 117.04,691.9 114.45,692.98 C 111.86,694.05 109.92,694.27 106.68,696.86 C 103.44,699.45 98.91,705.28 95.03,708.51 C 91.14,711.75 89.2,713.69 83.37,716.28 C 77.54,718.88 67.83,722.76 60.06,724.05 C 52.29,725.35 40.63,724.05 36.75,724.05 Z" fill="#999999" stroke="none" stroke-width="1" opacity="0.34"/>
<path d="M 36.75,703.33 C 40.63,704.31 52.29,708.51 60.06,709.16 C 67.83,709.81 77.54,708.19 83.37,707.22 C 89.2,706.25 91.14,705.49 95.03,703.33 C 98.91,701.18 103.44,695.78 106.68,694.27 C 109.92,692.76 111.86,694.05 114.45,694.27 C 117.04,694.49 120.15,694.92 122.22,695.56 C 124.29,696.21 126.1,697.72 126.88,698.15 L 126.88,712.4 C 126.1,711.75 124.29,709.81 122.22,708.51 C 120.15,707.22 117.04,705.06 114.45,704.63 C 111.86,704.2 109.92,704.63 106.68,705.92 C 103.44,707.22 98.91,710.89 95.03,712.4 C 91.14,713.91 89.2,713.7 83.37,714.99 C 77.54,716.28 67.83,719.09 60.06,720.17 C 52.29,721.25 40.63,721.25 36.75,721.47 Z" fill="#999999" stroke="none" stroke-width="1" opacity="0.34"/>
<path d="M 91.14,710.85 C 97.1,710.85 120.92,710.85 126.88,710.85 L 126.88,713.18 C 120.92,713.18 97.1,713.18 91.14,713.18 Z" fill="#999999" stroke="none" stroke-width="1" opacity="0.34"/>
<path d="M 60.06,712.01 C 63.95,711.99 75.6,711.93 83.37,711.88 C 91.14,711.84 99.43,711.77 106.68,711.75 C 113.93,711.73 123.51,711.75 126.88,711.75" fill="none" stroke="#A8A8A8" stroke-width="0.9"/>
<rect x="90.54" y="711.8" width="1.2" height="1.2" fill="#9A9A9A" stroke="none" stroke-width="1"/>
<rect x="98.31" y="710.5" width="1.2" height="1.2" fill="#9A9A9A" stroke="none" stroke-width="1"/>
<rect x="106.08" y="711.15" width="1.2" height="1.2" fill="#9A9A9A" stroke="none" stroke-width="1"/>
<rect x="113.85" y="711.8" width="1.2" height="1.2" fill="#9A9A9A" stroke="none" stroke-width="1"/>
<rect x="121.62" y="710.5" width="1.2" height="1.2" fill="#9A9A9A" stroke="none" stroke-width="1"/>
<rect x="126.28" y="711.8" width="1.2" height="1.2" fill="#9A9A9A" stroke="none" stroke-width="1"/>
<rect x="98.16" y="688.34" width="1.5" height="1.5" fill="#0000FF" stroke="none" stroke-width="1"/>
<rect x="98.16" y="707.76" width="1.5" height="1.5" fill="#0000FF" stroke="none" stroke-width="1"/>
<rect x="98.16" y="698.7" width="1.5" height="1.5" fill="#0000FF" stroke="none" stroke-width="1"/>
<rect x="102.05" y="683.16" width="1.5" height="1.5" fill="#0000FF" stroke="none" stroke-width="1"/>
<rect x="102.05" y="702.58" width="1.5" height="1.5" fill="#0000FF" stroke="none" stroke-width="1"/>
<rect x="102.05" y="705.17" width="1.5" height="1.5" fill="#0000FF" stroke="none" stroke-width="1"/>
<rect x="105.93" y="705.17" width="1.5" height="1.5" fill="#0000FF" stroke="none" stroke-width="1"/>
<rect x="105.93" y="707.76" width="1.5" height="1.5" fill="#0000FF" stroke="none" stroke-width="1"/>
<rect x="105.93" y="709.06" width="1.5" height="1.5" fill="#0000FF" stroke="none" stroke-width="1"/>
<rect x="113.7" y="679.27" width="1.5" height="1.5" fill="#0000FF" stroke="none" stroke-width="1"/>
<rect x="113.7" y="688.34" width="1.5" height="1.5" fill="#0000FF" stroke="none" stroke-width="1"/>
<rect x="113.7" y="702.58" width="1.5" height="1.5" fill="#0000FF" stroke="none" stroke-width="1"/>
<rect x="113.7" y="705.17" width="1.5" height="1.5" fill="#0000FF" stroke="none" stroke-width="1"/>
<rect x="121.47" y="698.7" width="1.5" height="1.5" fill="#0000FF" stroke="none" stroke-width="1"/>
<rect x="121.47" y="700" width="1.5" height="1.5" fill="#0000FF" stroke="none" stroke-width="1"/>
<rect x="121.47" y="701.29" width="1.5" height="1.5" fill="#0000FF" stroke="none" stroke-width="1"/>
<rect x="121.47" y="707.76" width="1.5" height="1.5" fill="#0000FF" stroke="none" stroke-width="1"/>
<rect x="121.47" y="710.36" width="1.5" height="1.5" fill="#0000FF" stroke="none" stroke-width="1"/>
<rect x="126.13" y="702.58" width="1.5" height="1.5" fill="#0000FF" stroke="none" stroke-width="1"/>
<rect x="126.13" y="705.17" width="1.5" height="1.5" fill="#0000FF" stroke="none" stroke-width="1"/>
<rect x="126.13" y="707.76" width="1.5" height="1.5" fill="#0000FF" stroke="none" stroke-width="1"/>
<rect x="126.13" y="710.36" width="1.5" height="1.5" fill="#0000FF" stroke="none" stroke-width="1"/>
<rect x="98.16" y="670.21" width="1.5" height="1.5" fill="#1D7A1D" stroke="none" stroke-width="1"/>
<rect x="98.16" y="675.39" width="1.5" height="1.5" fill="#1D7A1D" stroke="none" stroke-width="1"/>
<rect x="98.16" y="684.45" width="1.5" height="1.5" fill="#1D7A1D" stroke="none" stroke-width="1"/>
<rect x="98.16" y="693.52" width="1.5" height="1.5" fill="#1D7A1D" stroke="none" stroke-width="1"/>
<rect x="98.16" y="698.7" width="1.5" height="1.5" fill="#1D7A1D" stroke="none" stroke-width="1"/>
<rect x="102.05" y="670.21" width="1.5" height="1.5" fill="#1D7A1D" stroke="none" stroke-width="1"/>
<rect x="102.05" y="687.04" width="1.5" height="1.5" fill="#1D7A1D" stroke="none" stroke-width="1"/>
<rect x="102.05" y="705.17" width="1.5" height="1.5" fill="#1D7A1D" stroke="none" stroke-width="1"/>
<rect x="105.93" y="694.81" width="1.5" height="1.5" fill="#1D7A1D" stroke="none" stroke-width="1"/>
<rect x="105.93" y="696.11" width="1.5" height="1.5" fill="#1D7A1D" stroke="none" stroke-width="1"/>
<rect x="105.93" y="697.4" width="1.5" height="1.5" fill="#1D7A1D" stroke="none" stroke-width="1"/>
<rect x="105.93" y="707.76" width="1.5" height="1.5" fill="#1D7A1D" stroke="none" stroke-width="1"/>
<rect x="113.7" y="661.14" width="1.5" height="1.5" fill="#1D7A1D" stroke="none" stroke-width="1"/>
<rect x="113.7" y="662.44" width="1.5" height="1.5" fill="#1D7A1D" stroke="none" stroke-width="1"/>
<rect x="113.7" y="681.87" width="1.5" height="1.5" fill="#1D7A1D" stroke="none" stroke-width="1"/>
<rect x="113.7" y="694.81" width="1.5" height="1.5" fill="#1D7A1D" stroke="none" stroke-width="1"/>
<rect x="113.7" y="710.36" width="1.5" height="1.5" fill="#1D7A1D" stroke="none" stroke-width="1"/>
<rect x="121.47" y="657.26" width="1.5" height="1.5" fill="#1D7A1D" stroke="none" stroke-width="1"/>
<rect x="121.47" y="658.55" width="1.5" height="1.5" fill="#1D7A1D" stroke="none" stroke-width="1"/>
<rect x="121.47" y="679.27" width="1.5" height="1.5" fill="#1D7A1D" stroke="none" stroke-width="1"/>
<rect x="121.47" y="685.75" width="1.5" height="1.5" fill="#1D7A1D" stroke="none" stroke-width="1"/>
<rect x="121.47" y="710.36" width="1.5" height="1.5" fill="#1D7A1D" stroke="none" stroke-width="1"/>
<rect x="126.13" y="659.85" width="1.5" height="1.5" fill="#1D7A1D" stroke="none" stroke-width="1"/>
<rect x="126.13" y="667.62" width="1.5" height="1.5" fill="#1D7A1D" stroke="none" stroke-width="1"/>
<rect x="126.13" y="680.57" width="1.5" height="1.5" fill="#1D7A1D" stroke="none" stroke-width="1"/>
<rect x="126.13" y="701.29" width="1.5" height="1.5" fill="#1D7A1D" stroke="none" stroke-width="1"/>
<rect x="126.13" y="703.88" width="1.5" height="1.5" fill="#1D7A1D" stroke="none" stroke-width="1"/>
<path d="M 36.75,711.36 C 38.69,711.67 44.52,712.66 48.41,713.18 C 52.29,713.7 56.18,714.34 60.06,714.47 C 63.95,714.6 67.83,714.52 71.72,713.95 C 75.6,713.39 79.48,712.12 83.37,711.11 C 87.26,710.09 91.79,709.57 95.03,707.87 C 98.26,706.16 100.85,702.19 102.8,700.87 C 104.74,699.56 104.74,700.25 106.68,699.97 C 108.62,699.69 111.86,698.85 114.45,699.19 C 117.04,699.54 120.15,701.05 122.22,702.04 C 124.29,703.03 126.1,704.63 126.88,705.15" fill="none" stroke="#0000FF" stroke-width="1.15"/>
<path d="M 36.75,711.36 C 38.69,711.67 44.52,712.66 48.41,713.18 C 52.29,713.7 56.18,714.43 60.06,714.47 C 63.95,714.52 67.83,714.19 71.72,713.44 C 75.6,712.68 79.48,711.84 83.37,709.94 C 87.26,708.04 91.79,704.95 95.03,702.04 C 98.26,699.13 100.85,694.33 102.8,692.46 C 104.74,690.58 104.74,691.72 106.68,690.77 C 108.62,689.82 111.86,688.1 114.45,686.76 C 117.04,685.42 120.15,683.48 122.22,682.74 C 124.29,682.01 126.1,682.42 126.88,682.36" fill="none" stroke="#0F6E0F" stroke-width="1.35"/>
</g>
<rect x="32.3" y="653.5" width="98.3" height="74.2" fill="none" stroke="#707070" stroke-width="0.7"/>
<rect x="32.3" y="645.4" width="98.3" height="8.1" fill="#D9D9D9" stroke="#707070" stroke-width="0.7"/>
<text x="81.45" y="651.1" font-size="4.5" text-anchor="middle" fill="#1A1A1A">Bacteroides_uniformis</text>
<line x1="30.7" y1="660.6" x2="32.3" y2="660.6" stroke="#333" stroke-width="0.5"/>
<text x="30.1" y="662" font-size="4.1" text-anchor="end" fill="#4D4D4D">40</text>
<line x1="30.7" y1="673.55" x2="32.3" y2="673.55" stroke="#333" stroke-width="0.5"/>
<text x="30.1" y="674.95" font-size="4.1" text-anchor="end" fill="#4D4D4D">30</text>
<line x1="30.7" y1="686.5" x2="32.3" y2="686.5" stroke="#333" stroke-width="0.5"/>
<text x="30.1" y="687.9" font-size="4.1" text-anchor="end" fill="#4D4D4D">20</text>
<line x1="30.7" y1="699.45" x2="32.3" y2="699.45" stroke="#333" stroke-width="0.5"/>
<text x="30.1" y="700.85" font-size="4.1" text-anchor="end" fill="#4D4D4D">10</text>
<line x1="30.7" y1="712.4" x2="32.3" y2="712.4" stroke="#333" stroke-width="0.5"/>
<text x="30.1" y="713.8" font-size="4.1" text-anchor="end" fill="#4D4D4D">0</text>
<line x1="30.7" y1="725.35" x2="32.3" y2="725.35" stroke="#333" stroke-width="0.5"/>
<text x="30.1" y="726.75" font-size="4.1" text-anchor="end" fill="#4D4D4D">-10</text>
<line x1="36.75" y1="727.7" x2="36.75" y2="729.3" stroke="#333" stroke-width="0.5"/>
<text x="36.75" y="733.3" font-size="4.1" text-anchor="middle" fill="#4D4D4D">0</text>
<line x1="60.06" y1="727.7" x2="60.06" y2="729.3" stroke="#333" stroke-width="0.5"/>
<text x="60.06" y="733.3" font-size="4.1" text-anchor="middle" fill="#4D4D4D">3</text>
<line x1="83.37" y1="727.7" x2="83.37" y2="729.3" stroke="#333" stroke-width="0.5"/>
<text x="83.37" y="733.3" font-size="4.1" text-anchor="middle" fill="#4D4D4D">6</text>
<line x1="106.68" y1="727.7" x2="106.68" y2="729.3" stroke="#333" stroke-width="0.5"/>
<text x="106.68" y="733.3" font-size="4.1" text-anchor="middle" fill="#4D4D4D">9</text>
<line x1="129.99" y1="727.7" x2="129.99" y2="729.3" stroke="#333" stroke-width="0.5"/>
<text x="129.99" y="733.3" font-size="4.1" text-anchor="middle" fill="#4D4D4D">12</text>
<rect x="138.8" y="653.5" width="98.3" height="74.2" fill="#fff" stroke="none" stroke-width="1"/>
<g><clipPath id="cp1"><rect x="138.8" y="653.5" width="98.3" height="74.2"/></clipPath></g>
<line x1="138.8" y1="722.73" x2="237.1" y2="722.73" stroke="#F2F2F2" stroke-width="0.45"/>
<line x1="138.8" y1="704.67" x2="237.1" y2="704.67" stroke="#F2F2F2" stroke-width="0.45"/>
<line x1="138.8" y1="686.61" x2="237.1" y2="686.61" stroke="#F2F2F2" stroke-width="0.45"/>
<line x1="138.8" y1="668.55" x2="237.1" y2="668.55" stroke="#F2F2F2" stroke-width="0.45"/>
<line x1="154.91" y1="653.5" x2="154.91" y2="727.7" stroke="#F2F2F2" stroke-width="0.45"/>
<line x1="178.22" y1="653.5" x2="178.22" y2="727.7" stroke="#F2F2F2" stroke-width="0.45"/>
<line x1="201.53" y1="653.5" x2="201.53" y2="727.7" stroke="#F2F2F2" stroke-width="0.45"/>
<line x1="224.83" y1="653.5" x2="224.83" y2="727.7" stroke="#F2F2F2" stroke-width="0.45"/>
<line x1="138.8" y1="659.52" x2="237.1" y2="659.52" stroke="#E6E6E6" stroke-width="0.6"/>
<line x1="138.8" y1="677.58" x2="237.1" y2="677.58" stroke="#E6E6E6" stroke-width="0.6"/>
<line x1="138.8" y1="695.64" x2="237.1" y2="695.64" stroke="#E6E6E6" stroke-width="0.6"/>
<line x1="138.8" y1="713.7" x2="237.1" y2="713.7" stroke="#E6E6E6" stroke-width="0.6"/>
<line x1="143.25" y1="653.5" x2="143.25" y2="727.7" stroke="#E6E6E6" stroke-width="0.6"/>
<line x1="166.56" y1="653.5" x2="166.56" y2="727.7" stroke="#E6E6E6" stroke-width="0.6"/>
<line x1="189.87" y1="653.5" x2="189.87" y2="727.7" stroke="#E6E6E6" stroke-width="0.6"/>
<line x1="213.18" y1="653.5" x2="213.18" y2="727.7" stroke="#E6E6E6" stroke-width="0.6"/>
<line x1="236.49" y1="653.5" x2="236.49" y2="727.7" stroke="#E6E6E6" stroke-width="0.6"/>
<g clip-path="url(#cp1)">
<path d="M 143.25,695.64 C 147.13,694.14 160.73,688.57 166.56,686.61 C 172.39,684.65 174.33,683.9 178.22,683.9 C 182.1,683.9 185.99,685.26 189.87,686.61 C 193.75,687.96 198.94,690.22 201.53,692.03 C 204.12,693.83 203.47,695.79 205.41,697.45 C 207.35,699.1 210.59,701.06 213.18,701.96 C 215.77,702.86 218.36,703.16 220.95,702.86 C 223.54,702.56 226.65,701.36 228.72,700.16 C 230.79,698.95 232.61,696.39 233.38,695.64 L 233.38,720.92 C 232.61,720.92 230.79,721.23 228.72,720.92 C 226.65,720.62 223.54,720.17 220.95,719.12 C 218.36,718.06 215.77,715.66 213.18,714.6 C 210.59,713.55 207.35,712.2 205.41,712.8 C 203.47,713.4 204.12,716.86 201.53,718.22 C 198.94,719.57 193.75,720.77 189.87,720.92 C 185.99,721.07 182.1,719.12 178.22,719.12 C 174.33,719.12 172.39,720.32 166.56,720.92 C 160.73,721.53 147.13,722.43 143.25,722.73 Z" fill="#999999" stroke="none" stroke-width="1" opacity="0.34"/>
<path d="M 143.25,702.86 C 147.13,701.96 158.79,698.05 166.56,697.45 C 174.33,696.84 183.4,698.65 189.87,699.25 C 196.34,699.85 201.53,701.96 205.41,701.06 C 209.29,700.15 210.59,695.64 213.18,693.83 C 215.77,692.03 218.36,692.18 220.95,690.22 C 223.54,688.27 226.65,685.71 228.72,682.1 C 230.79,678.48 232.61,670.81 233.38,668.55 L 233.38,708.28 C 232.61,707.68 230.79,704.97 228.72,704.67 C 226.65,704.37 223.54,706.17 220.95,706.48 C 218.36,706.78 215.77,705.27 213.18,706.48 C 210.59,707.68 209.29,712.8 205.41,713.7 C 201.53,714.6 196.34,711.89 189.87,711.89 C 183.4,711.89 174.33,712.95 166.56,713.7 C 158.79,714.45 147.13,715.96 143.25,716.41 Z" fill="#999999" stroke="none" stroke-width="1" opacity="0.34"/>
<path d="M 143.25,704.67 C 148.43,703.47 165.26,697.9 174.33,697.45 C 183.39,696.99 191.16,701.06 197.64,701.96 C 204.11,702.86 207.22,702.11 213.18,702.86 C 219.14,703.62 230.02,705.87 233.38,706.48 L 233.38,719.12 C 230.02,718.22 219.14,714.75 213.18,713.7 C 207.22,712.65 204.11,713.4 197.64,712.8 C 191.16,712.2 183.39,709.19 174.33,710.09 C 165.26,710.99 148.43,716.86 143.25,718.22 Z" fill="#999999" stroke="none" stroke-width="1" opacity="0.34"/>
<path d="M 143.25,710.99 C 147.13,710.99 158.79,711.07 166.56,710.99 C 174.33,710.92 183.4,710.77 189.87,710.54 C 196.34,710.31 200.23,709.56 205.41,709.64 C 210.59,709.71 216.29,710.77 220.95,710.99 C 225.61,711.22 231.31,710.99 233.38,710.99" fill="none" stroke="#A8A8A8" stroke-width="0.9"/>
<path d="M 201.53,706.48 C 202.82,705.87 207.35,703.92 209.3,702.86 C 211.24,701.81 211.24,700.91 213.18,700.16 C 215.12,699.4 218.36,699.4 220.95,698.35 C 223.54,697.3 226.65,695.34 228.72,693.83 C 230.79,692.33 232.61,690.07 233.38,689.32" fill="none" stroke="#A8A8A8" stroke-width="0.9"/>
<rect x="197.04" y="681.5" width="1.2" height="1.2" fill="#9A9A9A" stroke="none" stroke-width="1"/>
<rect x="204.81" y="689.62" width="1.2" height="1.2" fill="#9A9A9A" stroke="none" stroke-width="1"/>
<rect x="208.7" y="691.43" width="1.2" height="1.2" fill="#9A9A9A" stroke="none" stroke-width="1"/>
<rect x="212.58" y="681.5" width="1.2" height="1.2" fill="#9A9A9A" stroke="none" stroke-width="1"/>
<rect x="220.35" y="679.69" width="1.2" height="1.2" fill="#9A9A9A" stroke="none" stroke-width="1"/>
<rect x="232.78" y="656.21" width="1.2" height="1.2" fill="#9A9A9A" stroke="none" stroke-width="1"/>
<rect x="228.12" y="696.85" width="1.2" height="1.2" fill="#9A9A9A" stroke="none" stroke-width="1"/>
<rect x="220.35" y="700.46" width="1.2" height="1.2" fill="#9A9A9A" stroke="none" stroke-width="1"/>
<rect x="212.58" y="704.07" width="1.2" height="1.2" fill="#9A9A9A" stroke="none" stroke-width="1"/>
<rect x="208.7" y="698.65" width="1.2" height="1.2" fill="#9A9A9A" stroke="none" stroke-width="1"/>
<rect x="232.78" y="693.23" width="1.2" height="1.2" fill="#9A9A9A" stroke="none" stroke-width="1"/>
<rect x="173.58" y="662.38" width="1.5" height="1.5" fill="#0000FF" stroke="none" stroke-width="1"/>
<rect x="173.58" y="666.9" width="1.5" height="1.5" fill="#0000FF" stroke="none" stroke-width="1"/>
<rect x="196.89" y="661.48" width="1.5" height="1.5" fill="#0000FF" stroke="none" stroke-width="1"/>
<rect x="196.89" y="676.83" width="1.5" height="1.5" fill="#0000FF" stroke="none" stroke-width="1"/>
<rect x="142.5" y="696.7" width="1.5" height="1.5" fill="#0000FF" stroke="none" stroke-width="1"/>
<rect x="142.5" y="698.5" width="1.5" height="1.5" fill="#0000FF" stroke="none" stroke-width="1"/>
<rect x="142.5" y="711.14" width="1.5" height="1.5" fill="#0000FF" stroke="none" stroke-width="1"/>
<rect x="173.58" y="712.05" width="1.5" height="1.5" fill="#0000FF" stroke="none" stroke-width="1"/>
<rect x="173.58" y="710.24" width="1.5" height="1.5" fill="#0000FF" stroke="none" stroke-width="1"/>
<rect x="196.89" y="711.14" width="1.5" height="1.5" fill="#0000FF" stroke="none" stroke-width="1"/>
<rect x="204.66" y="712.95" width="1.5" height="1.5" fill="#0000FF" stroke="none" stroke-width="1"/>
<rect x="208.55" y="712.95" width="1.5" height="1.5" fill="#0000FF" stroke="none" stroke-width="1"/>
<rect x="208.55" y="711.14" width="1.5" height="1.5" fill="#0000FF" stroke="none" stroke-width="1"/>
<rect x="212.43" y="707.53" width="1.5" height="1.5" fill="#0000FF" stroke="none" stroke-width="1"/>
<rect x="220.2" y="710.24" width="1.5" height="1.5" fill="#0000FF" stroke="none" stroke-width="1"/>
<rect x="227.97" y="711.14" width="1.5" height="1.5" fill="#0000FF" stroke="none" stroke-width="1"/>
<rect x="232.63" y="712.05" width="1.5" height="1.5" fill="#0000FF" stroke="none" stroke-width="1"/>
<rect x="232.63" y="709.34" width="1.5" height="1.5" fill="#0000FF" stroke="none" stroke-width="1"/>
<rect x="173.58" y="680.44" width="1.5" height="1.5" fill="#1D7A1D" stroke="none" stroke-width="1"/>
<rect x="204.66" y="685.86" width="1.5" height="1.5" fill="#1D7A1D" stroke="none" stroke-width="1"/>
<rect x="142.5" y="701.21" width="1.5" height="1.5" fill="#1D7A1D" stroke="none" stroke-width="1"/>
<rect x="173.58" y="707.53" width="1.5" height="1.5" fill="#1D7A1D" stroke="none" stroke-width="1"/>
<rect x="204.66" y="694.89" width="1.5" height="1.5" fill="#1D7A1D" stroke="none" stroke-width="1"/>
<rect x="208.55" y="712.05" width="1.5" height="1.5" fill="#1D7A1D" stroke="none" stroke-width="1"/>
<rect x="212.43" y="710.24" width="1.5" height="1.5" fill="#1D7A1D" stroke="none" stroke-width="1"/>
<rect x="220.2" y="710.24" width="1.5" height="1.5" fill="#1D7A1D" stroke="none" stroke-width="1"/>
<rect x="232.63" y="711.14" width="1.5" height="1.5" fill="#1D7A1D" stroke="none" stroke-width="1"/>
<path d="M 143.25,708.91 C 145.19,707.63 151.02,703.72 154.91,701.24 C 158.79,698.76 162.68,695.62 166.56,694.01 C 170.44,692.4 174.33,691.44 178.22,691.58 C 182.1,691.71 185.99,693.1 189.87,694.83 C 193.75,696.56 198.94,700.37 201.53,701.96 C 204.12,703.56 203.47,703.33 205.41,704.4 C 207.35,705.47 210.59,707.3 213.18,708.37 C 215.77,709.44 218.36,710.19 220.95,710.81 C 223.54,711.43 226.65,711.82 228.72,712.07 C 230.79,712.33 232.61,712.3 233.38,712.35" fill="none" stroke="#0000FF" stroke-width="1.15"/>
<path d="M 143.25,710 C 145.19,709.49 151.02,707.73 154.91,706.93 C 158.79,706.13 162.68,705.63 166.56,705.21 C 170.44,704.79 174.33,704.26 178.22,704.4 C 182.1,704.53 186.63,705.38 189.87,706.02 C 193.11,706.67 195.05,708.03 197.64,708.28 C 200.23,708.54 202.82,707.54 205.41,707.56 C 208,707.57 210.59,707.57 213.18,708.37 C 215.77,709.17 218.36,711.55 220.95,712.35 C 223.54,713.14 226.65,713.08 228.72,713.16 C 230.79,713.23 232.61,712.86 233.38,712.8" fill="none" stroke="#0F6E0F" stroke-width="1.35"/>
</g>
<rect x="138.8" y="653.5" width="98.3" height="74.2" fill="none" stroke="#707070" stroke-width="0.7"/>
<rect x="138.8" y="645.4" width="98.3" height="8.1" fill="#D9D9D9" stroke="#707070" stroke-width="0.7"/>
<text x="187.95" y="651.1" font-size="4.5" text-anchor="middle" fill="#1A1A1A">desulfovibrionaceae_SGB40889</text>
<line x1="137.2" y1="659.52" x2="138.8" y2="659.52" stroke="#333" stroke-width="0.5"/>
<text x="136.6" y="660.92" font-size="4.1" text-anchor="end" fill="#4D4D4D">6</text>
<line x1="137.2" y1="677.58" x2="138.8" y2="677.58" stroke="#333" stroke-width="0.5"/>
<text x="136.6" y="678.98" font-size="4.1" text-anchor="end" fill="#4D4D4D">4</text>
<line x1="137.2" y1="695.64" x2="138.8" y2="695.64" stroke="#333" stroke-width="0.5"/>
<text x="136.6" y="697.04" font-size="4.1" text-anchor="end" fill="#4D4D4D">2</text>
<line x1="137.2" y1="713.7" x2="138.8" y2="713.7" stroke="#333" stroke-width="0.5"/>
<text x="136.6" y="715.1" font-size="4.1" text-anchor="end" fill="#4D4D4D">0</text>
<line x1="143.25" y1="727.7" x2="143.25" y2="729.3" stroke="#333" stroke-width="0.5"/>
<text x="143.25" y="733.3" font-size="4.1" text-anchor="middle" fill="#4D4D4D">0</text>
<line x1="166.56" y1="727.7" x2="166.56" y2="729.3" stroke="#333" stroke-width="0.5"/>
<text x="166.56" y="733.3" font-size="4.1" text-anchor="middle" fill="#4D4D4D">3</text>
<line x1="189.87" y1="727.7" x2="189.87" y2="729.3" stroke="#333" stroke-width="0.5"/>
<text x="189.87" y="733.3" font-size="4.1" text-anchor="middle" fill="#4D4D4D">6</text>
<line x1="213.18" y1="727.7" x2="213.18" y2="729.3" stroke="#333" stroke-width="0.5"/>
<text x="213.18" y="733.3" font-size="4.1" text-anchor="middle" fill="#4D4D4D">9</text>
<line x1="236.49" y1="727.7" x2="236.49" y2="729.3" stroke="#333" stroke-width="0.5"/>
<text x="236.49" y="733.3" font-size="4.1" text-anchor="middle" fill="#4D4D4D">12</text>
<rect x="248.5" y="653.5" width="98.3" height="74.2" fill="#fff" stroke="none" stroke-width="1"/>
<g><clipPath id="cp2"><rect x="248.5" y="653.5" width="98.3" height="74.2"/></clipPath></g>
<line x1="248.5" y1="716.88" x2="346.8" y2="716.88" stroke="#F2F2F2" stroke-width="0.45"/>
<line x1="248.5" y1="701.62" x2="346.8" y2="701.62" stroke="#F2F2F2" stroke-width="0.45"/>
<line x1="248.5" y1="686.38" x2="346.8" y2="686.38" stroke="#F2F2F2" stroke-width="0.45"/>
<line x1="248.5" y1="671.12" x2="346.8" y2="671.12" stroke="#F2F2F2" stroke-width="0.45"/>
<line x1="248.5" y1="655.88" x2="346.8" y2="655.88" stroke="#F2F2F2" stroke-width="0.45"/>
<line x1="264.6" y1="653.5" x2="264.6" y2="727.7" stroke="#F2F2F2" stroke-width="0.45"/>
<line x1="287.91" y1="653.5" x2="287.91" y2="727.7" stroke="#F2F2F2" stroke-width="0.45"/>
<line x1="311.22" y1="653.5" x2="311.22" y2="727.7" stroke="#F2F2F2" stroke-width="0.45"/>
<line x1="334.53" y1="653.5" x2="334.53" y2="727.7" stroke="#F2F2F2" stroke-width="0.45"/>
<line x1="248.5" y1="663.5" x2="346.8" y2="663.5" stroke="#E6E6E6" stroke-width="0.6"/>
<line x1="248.5" y1="678.75" x2="346.8" y2="678.75" stroke="#E6E6E6" stroke-width="0.6"/>
<line x1="248.5" y1="694" x2="346.8" y2="694" stroke="#E6E6E6" stroke-width="0.6"/>
<line x1="248.5" y1="709.25" x2="346.8" y2="709.25" stroke="#E6E6E6" stroke-width="0.6"/>
<line x1="248.5" y1="724.5" x2="346.8" y2="724.5" stroke="#E6E6E6" stroke-width="0.6"/>
<line x1="252.95" y1="653.5" x2="252.95" y2="727.7" stroke="#E6E6E6" stroke-width="0.6"/>
<line x1="276.26" y1="653.5" x2="276.26" y2="727.7" stroke="#E6E6E6" stroke-width="0.6"/>
<line x1="299.57" y1="653.5" x2="299.57" y2="727.7" stroke="#E6E6E6" stroke-width="0.6"/>
<line x1="322.88" y1="653.5" x2="322.88" y2="727.7" stroke="#E6E6E6" stroke-width="0.6"/>
<line x1="346.19" y1="653.5" x2="346.19" y2="727.7" stroke="#E6E6E6" stroke-width="0.6"/>
<g clip-path="url(#cp2)">
<path d="M 252.95,681.8 C 256.83,680.78 268.49,677.23 276.26,675.7 C 284.03,674.18 294.39,673.16 299.57,672.65 C 304.75,672.14 303.45,672.65 307.34,672.65 C 311.22,672.65 319,672.14 322.88,672.65 C 326.76,673.16 328.06,675.7 330.65,675.7 C 333.24,675.7 336.35,674.68 338.42,672.65 C 340.49,670.62 342.31,665.02 343.08,663.5 L 343.08,716.88 C 342.31,715.6 340.49,711.54 338.42,709.25 C 336.35,706.96 333.24,704.67 330.65,703.15 C 328.06,701.62 326.76,699.59 322.88,700.1 C 319,700.61 311.22,704.68 307.34,706.2 C 303.45,707.73 304.75,707.73 299.57,709.25 C 294.39,710.77 284.03,713.06 276.26,715.35 C 268.49,717.64 256.83,721.7 252.95,722.98 Z" fill="#999999" stroke="none" stroke-width="1" opacity="0.34"/>
<path d="M 252.95,684.85 C 256.83,684.85 268.49,685.36 276.26,684.85 C 284.03,684.34 293.09,680.27 299.57,681.8 C 306.05,683.32 311.23,690.44 315.11,694 C 319,697.56 320.29,702.13 322.88,703.15 C 325.47,704.17 327.28,701.12 330.65,700.1 C 334.02,699.08 341.01,697.56 343.08,697.05 L 343.08,718.4 C 341.01,718.4 334.02,718.4 330.65,718.4 C 327.28,718.4 325.47,718.91 322.88,718.4 C 320.29,717.89 319,716.88 315.11,715.35 C 311.23,713.83 306.05,710.27 299.57,709.25 C 293.09,708.23 284.03,709.76 276.26,709.25 C 268.49,708.74 256.83,706.71 252.95,706.2 Z" fill="#999999" stroke="none" stroke-width="1" opacity="0.34"/>
<path d="M 252.95,684.85 C 256.83,685.36 268.49,687.39 276.26,687.9 C 284.03,688.41 293.09,686.88 299.57,687.9 C 306.05,688.92 311.23,691.97 315.11,694 C 319,696.03 318.22,698.58 322.88,700.1 C 327.54,701.62 339.71,702.64 343.08,703.15 L 343.08,721.45 C 339.71,720.69 327.54,718.4 322.88,716.88 C 318.22,715.35 319,713.06 315.11,712.3 C 311.23,711.54 306.05,711.79 299.57,712.3 C 293.09,712.81 284.03,715.86 276.26,715.35 C 268.49,714.84 256.83,710.27 252.95,709.25 Z" fill="#999999" stroke="none" stroke-width="1" opacity="0.34"/>
<path d="M 252.95,689.42 C 256.83,689.42 268.49,689.68 276.26,689.42 C 284.03,689.17 294.39,688.46 299.57,687.9 C 304.75,687.34 304.75,686.58 307.34,686.07 C 309.93,685.56 312.52,685.26 315.11,684.85 C 317.7,684.44 320.29,683.38 322.88,683.63 C 325.47,683.88 328.06,685.61 330.65,686.38 C 333.24,687.14 336.35,687.95 338.42,688.21 C 340.49,688.46 342.31,687.95 343.08,687.9" fill="none" stroke="#A8A8A8" stroke-width="0.9"/>
<path d="M 252.95,703.15 C 256.83,703.15 268.49,703.91 276.26,703.15 C 284.03,702.39 291.8,699.59 299.57,698.58 C 307.34,697.56 315.63,697.05 322.88,697.05 C 330.13,697.05 339.71,698.32 343.08,698.58" fill="none" stroke="#A8A8A8" stroke-width="0.9"/>
<rect x="318.39" y="656.8" width="1.2" height="1.2" fill="#9A9A9A" stroke="none" stroke-width="1"/>
<rect x="322.28" y="658.32" width="1.2" height="1.2" fill="#9A9A9A" stroke="none" stroke-width="1"/>
<rect x="330.05" y="659.85" width="1.2" height="1.2" fill="#9A9A9A" stroke="none" stroke-width="1"/>
<rect x="318.39" y="669" width="1.2" height="1.2" fill="#9A9A9A" stroke="none" stroke-width="1"/>
<rect x="342.48" y="662.9" width="1.2" height="1.2" fill="#9A9A9A" stroke="none" stroke-width="1"/>
<rect x="337.82" y="670.52" width="1.2" height="1.2" fill="#9A9A9A" stroke="none" stroke-width="1"/>
<rect x="314.51" y="687.3" width="1.2" height="1.2" fill="#9A9A9A" stroke="none" stroke-width="1"/>
<rect x="252.2" y="678" width="1.5" height="1.5" fill="#0000FF" stroke="none" stroke-width="1"/>
<rect x="252.2" y="679.52" width="1.5" height="1.5" fill="#0000FF" stroke="none" stroke-width="1"/>
<rect x="252.2" y="706.98" width="1.5" height="1.5" fill="#0000FF" stroke="none" stroke-width="1"/>
<rect x="252.2" y="716.12" width="1.5" height="1.5" fill="#0000FF" stroke="none" stroke-width="1"/>
<rect x="279.39" y="676.48" width="1.5" height="1.5" fill="#0000FF" stroke="none" stroke-width="1"/>
<rect x="279.39" y="712.47" width="1.5" height="1.5" fill="#0000FF" stroke="none" stroke-width="1"/>
<rect x="306.59" y="679.52" width="1.5" height="1.5" fill="#0000FF" stroke="none" stroke-width="1"/>
<rect x="306.59" y="723.75" width="1.5" height="1.5" fill="#0000FF" stroke="none" stroke-width="1"/>
<rect x="314.36" y="661.23" width="1.5" height="1.5" fill="#0000FF" stroke="none" stroke-width="1"/>
<rect x="318.25" y="676.48" width="1.5" height="1.5" fill="#0000FF" stroke="none" stroke-width="1"/>
<rect x="318.25" y="714.6" width="1.5" height="1.5" fill="#0000FF" stroke="none" stroke-width="1"/>
<rect x="322.13" y="714.6" width="1.5" height="1.5" fill="#0000FF" stroke="none" stroke-width="1"/>
<rect x="337.67" y="717.65" width="1.5" height="1.5" fill="#0000FF" stroke="none" stroke-width="1"/>
<rect x="342.33" y="718.57" width="1.5" height="1.5" fill="#0000FF" stroke="none" stroke-width="1"/>
<rect x="329.9" y="706.98" width="1.5" height="1.5" fill="#0000FF" stroke="none" stroke-width="1"/>
<rect x="252.2" y="671.9" width="1.5" height="1.5" fill="#1D7A1D" stroke="none" stroke-width="1"/>
<rect x="252.2" y="690.2" width="1.5" height="1.5" fill="#1D7A1D" stroke="none" stroke-width="1"/>
<rect x="252.2" y="710.02" width="1.5" height="1.5" fill="#1D7A1D" stroke="none" stroke-width="1"/>
<rect x="279.39" y="661.23" width="1.5" height="1.5" fill="#1D7A1D" stroke="none" stroke-width="1"/>
<rect x="279.39" y="674.95" width="1.5" height="1.5" fill="#1D7A1D" stroke="none" stroke-width="1"/>
<rect x="306.59" y="662.75" width="1.5" height="1.5" fill="#1D7A1D" stroke="none" stroke-width="1"/>
<rect x="306.59" y="682.58" width="1.5" height="1.5" fill="#1D7A1D" stroke="none" stroke-width="1"/>
<rect x="306.59" y="684.1" width="1.5" height="1.5" fill="#1D7A1D" stroke="none" stroke-width="1"/>
<rect x="306.59" y="710.02" width="1.5" height="1.5" fill="#1D7A1D" stroke="none" stroke-width="1"/>
<rect x="318.25" y="702.4" width="1.5" height="1.5" fill="#1D7A1D" stroke="none" stroke-width="1"/>
<rect x="318.25" y="717.65" width="1.5" height="1.5" fill="#1D7A1D" stroke="none" stroke-width="1"/>
<rect x="318.25" y="719.17" width="1.5" height="1.5" fill="#1D7A1D" stroke="none" stroke-width="1"/>
<rect x="322.13" y="697.83" width="1.5" height="1.5" fill="#1D7A1D" stroke="none" stroke-width="1"/>
<rect x="329.9" y="697.83" width="1.5" height="1.5" fill="#1D7A1D" stroke="none" stroke-width="1"/>
<rect x="337.67" y="697.83" width="1.5" height="1.5" fill="#1D7A1D" stroke="none" stroke-width="1"/>
<rect x="342.33" y="702.4" width="1.5" height="1.5" fill="#1D7A1D" stroke="none" stroke-width="1"/>
<path d="M 252.95,695.52 C 254.89,695.93 260.72,697.15 264.6,697.97 C 268.49,698.78 272.38,700 276.26,700.4 C 280.14,700.81 284.03,700.96 287.91,700.4 C 291.8,699.85 296.33,697.86 299.57,697.05 C 302.81,696.24 304.75,694.56 307.34,695.52 C 309.93,696.49 312.52,700.56 315.11,702.85 C 317.7,705.13 320.29,707.62 322.88,709.25 C 325.47,710.88 328.06,711.94 330.65,712.61 C 333.24,713.27 336.35,713.11 338.42,713.22 C 340.49,713.32 342.31,713.22 343.08,713.22" fill="none" stroke="#0000FF" stroke-width="1.15"/>
<path d="M 252.95,691.25 C 256.83,691.2 268.49,690.75 276.26,690.95 C 284.03,691.15 294.39,691.56 299.57,692.48 C 304.75,693.39 304.75,694 307.34,696.44 C 309.93,698.88 312.52,704.42 315.11,707.12 C 317.7,709.81 320.29,712.1 322.88,712.61 C 325.47,713.11 328.06,710.83 330.65,710.16 C 333.24,709.5 336.35,709.1 338.42,708.64 C 340.49,708.18 342.31,707.62 343.08,707.42" fill="none" stroke="#0F6E0F" stroke-width="1.35"/>
</g>
<rect x="248.5" y="653.5" width="98.3" height="74.2" fill="none" stroke="#707070" stroke-width="0.7"/>
<rect x="248.5" y="645.4" width="98.3" height="8.1" fill="#D9D9D9" stroke="#707070" stroke-width="0.7"/>
<text x="297.65" y="651.1" font-size="4.5" text-anchor="middle" fill="#1A1A1A">Duncaniella_freteri</text>
<line x1="246.9" y1="663.5" x2="248.5" y2="663.5" stroke="#333" stroke-width="0.5"/>
<text x="246.3" y="664.9" font-size="4.1" text-anchor="end" fill="#4D4D4D">2.0</text>
<line x1="246.9" y1="678.75" x2="248.5" y2="678.75" stroke="#333" stroke-width="0.5"/>
<text x="246.3" y="680.15" font-size="4.1" text-anchor="end" fill="#4D4D4D">1.5</text>
<line x1="246.9" y1="694" x2="248.5" y2="694" stroke="#333" stroke-width="0.5"/>
<text x="246.3" y="695.4" font-size="4.1" text-anchor="end" fill="#4D4D4D">1.0</text>
<line x1="246.9" y1="709.25" x2="248.5" y2="709.25" stroke="#333" stroke-width="0.5"/>
<text x="246.3" y="710.65" font-size="4.1" text-anchor="end" fill="#4D4D4D">0.5</text>
<line x1="246.9" y1="724.5" x2="248.5" y2="724.5" stroke="#333" stroke-width="0.5"/>
<text x="246.3" y="725.9" font-size="4.1" text-anchor="end" fill="#4D4D4D">0.0</text>
<line x1="252.95" y1="727.7" x2="252.95" y2="729.3" stroke="#333" stroke-width="0.5"/>
<text x="252.95" y="733.3" font-size="4.1" text-anchor="middle" fill="#4D4D4D">0</text>
<line x1="276.26" y1="727.7" x2="276.26" y2="729.3" stroke="#333" stroke-width="0.5"/>
<text x="276.26" y="733.3" font-size="4.1" text-anchor="middle" fill="#4D4D4D">3</text>
<line x1="299.57" y1="727.7" x2="299.57" y2="729.3" stroke="#333" stroke-width="0.5"/>
<text x="299.57" y="733.3" font-size="4.1" text-anchor="middle" fill="#4D4D4D">6</text>
<line x1="322.88" y1="727.7" x2="322.88" y2="729.3" stroke="#333" stroke-width="0.5"/>
<text x="322.88" y="733.3" font-size="4.1" text-anchor="middle" fill="#4D4D4D">9</text>
<line x1="346.19" y1="727.7" x2="346.19" y2="729.3" stroke="#333" stroke-width="0.5"/>
<text x="346.19" y="733.3" font-size="4.1" text-anchor="middle" fill="#4D4D4D">12</text>
<rect x="358.3" y="653.5" width="98.3" height="74.2" fill="#fff" stroke="none" stroke-width="1"/>
<g><clipPath id="cp3"><rect x="358.3" y="653.5" width="98.3" height="74.2"/></clipPath></g>
<line x1="358.3" y1="723.26" x2="456.6" y2="723.26" stroke="#F2F2F2" stroke-width="0.45"/>
<line x1="358.3" y1="707.33" x2="456.6" y2="707.33" stroke="#F2F2F2" stroke-width="0.45"/>
<line x1="358.3" y1="691.4" x2="456.6" y2="691.4" stroke="#F2F2F2" stroke-width="0.45"/>
<line x1="358.3" y1="675.47" x2="456.6" y2="675.47" stroke="#F2F2F2" stroke-width="0.45"/>
<line x1="358.3" y1="659.54" x2="456.6" y2="659.54" stroke="#F2F2F2" stroke-width="0.45"/>
<line x1="374.4" y1="653.5" x2="374.4" y2="727.7" stroke="#F2F2F2" stroke-width="0.45"/>
<line x1="397.71" y1="653.5" x2="397.71" y2="727.7" stroke="#F2F2F2" stroke-width="0.45"/>
<line x1="421.02" y1="653.5" x2="421.02" y2="727.7" stroke="#F2F2F2" stroke-width="0.45"/>
<line x1="444.33" y1="653.5" x2="444.33" y2="727.7" stroke="#F2F2F2" stroke-width="0.45"/>
<line x1="358.3" y1="667.51" x2="456.6" y2="667.51" stroke="#E6E6E6" stroke-width="0.6"/>
<line x1="358.3" y1="683.44" x2="456.6" y2="683.44" stroke="#E6E6E6" stroke-width="0.6"/>
<line x1="358.3" y1="699.37" x2="456.6" y2="699.37" stroke="#E6E6E6" stroke-width="0.6"/>
<line x1="358.3" y1="715.3" x2="456.6" y2="715.3" stroke="#E6E6E6" stroke-width="0.6"/>
<line x1="362.75" y1="653.5" x2="362.75" y2="727.7" stroke="#E6E6E6" stroke-width="0.6"/>
<line x1="386.06" y1="653.5" x2="386.06" y2="727.7" stroke="#E6E6E6" stroke-width="0.6"/>
<line x1="409.37" y1="653.5" x2="409.37" y2="727.7" stroke="#E6E6E6" stroke-width="0.6"/>
<line x1="432.68" y1="653.5" x2="432.68" y2="727.7" stroke="#E6E6E6" stroke-width="0.6"/>
<line x1="455.99" y1="653.5" x2="455.99" y2="727.7" stroke="#E6E6E6" stroke-width="0.6"/>
<g clip-path="url(#cp3)">
<path d="M 362.75,700.96 C 366.63,701.76 378.29,705.87 386.06,705.74 C 393.83,705.61 402.89,701.76 409.37,700.17 C 415.85,698.57 421.02,696.58 424.91,696.18 C 428.79,695.79 430.09,696.98 432.68,697.78 C 435.27,698.57 437.08,700.17 440.45,700.96 C 443.82,701.76 450.81,702.29 452.88,702.56 L 452.88,715.3 C 450.81,715.3 443.82,716.1 440.45,715.3 C 437.08,714.5 435.27,710.79 432.68,710.52 C 430.09,710.26 428.79,712.11 424.91,713.71 C 421.02,715.3 415.85,718.49 409.37,720.08 C 402.89,721.67 393.83,722.47 386.06,723.26 C 378.29,724.06 366.63,724.59 362.75,724.86 Z" fill="#999999" stroke="none" stroke-width="1" opacity="0.34"/>
<path d="M 362.75,705.74 C 366.63,706.27 378.29,708.13 386.06,708.93 C 393.83,709.72 404.19,710.39 409.37,710.52 C 414.55,710.65 414.55,710.52 417.14,709.72 C 419.73,708.93 422.32,707.73 424.91,705.74 C 427.5,703.75 430.09,700.83 432.68,697.78 C 435.27,694.72 437.86,689.28 440.45,687.42 C 443.04,685.56 446.15,685.43 448.22,686.63 C 450.29,687.82 452.11,693.26 452.88,694.59 L 452.88,712.11 C 452.11,711.05 450.29,707.6 448.22,705.74 C 446.15,703.88 443.04,699.9 440.45,700.96 C 437.86,702.02 435.27,709.19 432.68,712.11 C 430.09,715.03 427.5,716.89 424.91,718.49 C 422.32,720.08 419.73,721.01 417.14,721.67 C 414.55,722.34 414.55,722.6 409.37,722.47 C 404.19,722.34 393.83,720.74 386.06,720.88 C 378.29,721.01 366.63,722.87 362.75,723.26 Z" fill="#999999" stroke="none" stroke-width="1" opacity="0.34"/>
<path d="M 417.14,712.11 C 423.1,712.11 446.93,712.11 452.88,712.11 L 452.88,716.1 C 446.93,716.1 423.1,716.1 417.14,716.1 Z" fill="#999999" stroke="none" stroke-width="1" opacity="0.34"/>
<path d="M 417.14,714.82 C 419.73,714.77 426.72,714.56 432.68,714.5 C 438.64,714.45 449.51,714.5 452.88,714.5" fill="none" stroke="#A8A8A8" stroke-width="0.9"/>
<rect x="428.19" y="711.51" width="1.2" height="1.2" fill="#9A9A9A" stroke="none" stroke-width="1"/>
<rect x="432.08" y="709.92" width="1.2" height="1.2" fill="#9A9A9A" stroke="none" stroke-width="1"/>
<rect x="439.85" y="710.72" width="1.2" height="1.2" fill="#9A9A9A" stroke="none" stroke-width="1"/>
<rect x="447.62" y="712.31" width="1.2" height="1.2" fill="#9A9A9A" stroke="none" stroke-width="1"/>
<rect x="424.31" y="709.92" width="1.2" height="1.2" fill="#9A9A9A" stroke="none" stroke-width="1"/>
<rect x="362" y="696.71" width="1.5" height="1.5" fill="#0000FF" stroke="none" stroke-width="1"/>
<rect x="362" y="706.58" width="1.5" height="1.5" fill="#0000FF" stroke="none" stroke-width="1"/>
<rect x="362" y="711.36" width="1.5" height="1.5" fill="#0000FF" stroke="none" stroke-width="1"/>
<rect x="362" y="714.55" width="1.5" height="1.5" fill="#0000FF" stroke="none" stroke-width="1"/>
<rect x="393.08" y="704.99" width="1.5" height="1.5" fill="#0000FF" stroke="none" stroke-width="1"/>
<rect x="393.08" y="708.97" width="1.5" height="1.5" fill="#0000FF" stroke="none" stroke-width="1"/>
<rect x="416.39" y="671.86" width="1.5" height="1.5" fill="#0000FF" stroke="none" stroke-width="1"/>
<rect x="424.16" y="683.49" width="1.5" height="1.5" fill="#0000FF" stroke="none" stroke-width="1"/>
<rect x="428.05" y="686.67" width="1.5" height="1.5" fill="#0000FF" stroke="none" stroke-width="1"/>
<rect x="428.05" y="656.41" width="1.5" height="1.5" fill="#0000FF" stroke="none" stroke-width="1"/>
<rect x="428.05" y="700.21" width="1.5" height="1.5" fill="#0000FF" stroke="none" stroke-width="1"/>
<rect x="439.7" y="700.53" width="1.5" height="1.5" fill="#0000FF" stroke="none" stroke-width="1"/>
<rect x="447.47" y="701.81" width="1.5" height="1.5" fill="#0000FF" stroke="none" stroke-width="1"/>
<rect x="447.47" y="707.38" width="1.5" height="1.5" fill="#0000FF" stroke="none" stroke-width="1"/>
<rect x="452.13" y="712.96" width="1.5" height="1.5" fill="#0000FF" stroke="none" stroke-width="1"/>
<rect x="431.93" y="711.36" width="1.5" height="1.5" fill="#0000FF" stroke="none" stroke-width="1"/>
<rect x="439.7" y="658.79" width="1.5" height="1.5" fill="#1D7A1D" stroke="none" stroke-width="1"/>
<rect x="439.7" y="661.18" width="1.5" height="1.5" fill="#1D7A1D" stroke="none" stroke-width="1"/>
<rect x="447.47" y="657.52" width="1.5" height="1.5" fill="#1D7A1D" stroke="none" stroke-width="1"/>
<rect x="447.47" y="671.54" width="1.5" height="1.5" fill="#1D7A1D" stroke="none" stroke-width="1"/>
<rect x="447.47" y="689.86" width="1.5" height="1.5" fill="#1D7A1D" stroke="none" stroke-width="1"/>
<rect x="452.13" y="689.86" width="1.5" height="1.5" fill="#1D7A1D" stroke="none" stroke-width="1"/>
<rect x="431.93" y="695.43" width="1.5" height="1.5" fill="#1D7A1D" stroke="none" stroke-width="1"/>
<rect x="439.7" y="697.03" width="1.5" height="1.5" fill="#1D7A1D" stroke="none" stroke-width="1"/>
<rect x="428.05" y="704.99" width="1.5" height="1.5" fill="#1D7A1D" stroke="none" stroke-width="1"/>
<rect x="431.93" y="706.58" width="1.5" height="1.5" fill="#1D7A1D" stroke="none" stroke-width="1"/>
<rect x="452.13" y="699.42" width="1.5" height="1.5" fill="#1D7A1D" stroke="none" stroke-width="1"/>
<path d="M 362.75,710.04 C 364.69,710.18 370.52,710.6 374.4,710.84 C 378.29,711.08 382.18,711.53 386.06,711.48 C 389.94,711.42 393.83,711.66 397.71,710.52 C 401.6,709.38 406.13,705.87 409.37,704.63 C 412.61,703.38 413.9,703.51 417.14,703.03 C 420.38,702.56 426.21,701.76 428.8,701.76 C 431.38,701.76 430.74,702.08 432.68,703.03 C 434.62,703.99 437.86,706.57 440.45,707.49 C 443.04,708.42 446.15,708.34 448.22,708.61 C 450.29,708.87 452.11,709.01 452.88,709.09" fill="none" stroke="#0000FF" stroke-width="1.15"/>
<path d="M 362.75,714.34 C 366.63,714.48 380.23,715.03 386.06,715.14 C 391.89,715.25 393.83,714.77 397.71,714.98 C 401.6,715.19 406.13,716.36 409.37,716.42 C 412.61,716.47 414.55,715.94 417.14,715.3 C 419.73,714.66 422.32,714.37 424.91,712.59 C 427.5,710.81 430.48,707.63 432.68,704.63 C 434.88,701.63 436.18,696.5 438.12,694.59 C 440.06,692.68 442.39,692.6 444.33,693.16 C 446.28,693.71 448.35,696.21 449.77,697.94 C 451.2,699.66 452.36,702.58 452.88,703.51" fill="none" stroke="#0F6E0F" stroke-width="1.35"/>
</g>
<rect x="358.3" y="653.5" width="98.3" height="74.2" fill="none" stroke="#707070" stroke-width="0.7"/>
<rect x="358.3" y="645.4" width="98.3" height="8.1" fill="#D9D9D9" stroke="#707070" stroke-width="0.7"/>
<text x="407.45" y="651.1" font-size="4.5" text-anchor="middle" fill="#1A1A1A">fgb8157_SGB41587</text>
<line x1="356.7" y1="667.51" x2="358.3" y2="667.51" stroke="#333" stroke-width="0.5"/>
<text x="356.1" y="668.91" font-size="4.1" text-anchor="end" fill="#4D4D4D">3</text>
<line x1="356.7" y1="683.44" x2="358.3" y2="683.44" stroke="#333" stroke-width="0.5"/>
<text x="356.1" y="684.84" font-size="4.1" text-anchor="end" fill="#4D4D4D">2</text>
<line x1="356.7" y1="699.37" x2="358.3" y2="699.37" stroke="#333" stroke-width="0.5"/>
<text x="356.1" y="700.77" font-size="4.1" text-anchor="end" fill="#4D4D4D">1</text>
<line x1="356.7" y1="715.3" x2="358.3" y2="715.3" stroke="#333" stroke-width="0.5"/>
<text x="356.1" y="716.7" font-size="4.1" text-anchor="end" fill="#4D4D4D">0</text>
<line x1="362.75" y1="727.7" x2="362.75" y2="729.3" stroke="#333" stroke-width="0.5"/>
<text x="362.75" y="733.3" font-size="4.1" text-anchor="middle" fill="#4D4D4D">0</text>
<line x1="386.06" y1="727.7" x2="386.06" y2="729.3" stroke="#333" stroke-width="0.5"/>
<text x="386.06" y="733.3" font-size="4.1" text-anchor="middle" fill="#4D4D4D">3</text>
<line x1="409.37" y1="727.7" x2="409.37" y2="729.3" stroke="#333" stroke-width="0.5"/>
<text x="409.37" y="733.3" font-size="4.1" text-anchor="middle" fill="#4D4D4D">6</text>
<line x1="432.68" y1="727.7" x2="432.68" y2="729.3" stroke="#333" stroke-width="0.5"/>
<text x="432.68" y="733.3" font-size="4.1" text-anchor="middle" fill="#4D4D4D">9</text>
<line x1="455.99" y1="727.7" x2="455.99" y2="729.3" stroke="#333" stroke-width="0.5"/>
<text x="455.99" y="733.3" font-size="4.1" text-anchor="middle" fill="#4D4D4D">12</text>
<rect x="464.4" y="653.5" width="98.3" height="74.2" fill="#fff" stroke="none" stroke-width="1"/>
<g><clipPath id="cp4"><rect x="464.4" y="653.5" width="98.3" height="74.2"/></clipPath></g>
<line x1="464.4" y1="725.06" x2="562.7" y2="725.06" stroke="#F2F2F2" stroke-width="0.45"/>
<line x1="464.4" y1="703.94" x2="562.7" y2="703.94" stroke="#F2F2F2" stroke-width="0.45"/>
<line x1="464.4" y1="682.82" x2="562.7" y2="682.82" stroke="#F2F2F2" stroke-width="0.45"/>
<line x1="464.4" y1="661.7" x2="562.7" y2="661.7" stroke="#F2F2F2" stroke-width="0.45"/>
<line x1="480.5" y1="653.5" x2="480.5" y2="727.7" stroke="#F2F2F2" stroke-width="0.45"/>
<line x1="503.81" y1="653.5" x2="503.81" y2="727.7" stroke="#F2F2F2" stroke-width="0.45"/>
<line x1="527.12" y1="653.5" x2="527.12" y2="727.7" stroke="#F2F2F2" stroke-width="0.45"/>
<line x1="550.43" y1="653.5" x2="550.43" y2="727.7" stroke="#F2F2F2" stroke-width="0.45"/>
<line x1="464.4" y1="672.26" x2="562.7" y2="672.26" stroke="#E6E6E6" stroke-width="0.6"/>
<line x1="464.4" y1="693.38" x2="562.7" y2="693.38" stroke="#E6E6E6" stroke-width="0.6"/>
<line x1="464.4" y1="714.5" x2="562.7" y2="714.5" stroke="#E6E6E6" stroke-width="0.6"/>
<line x1="468.85" y1="653.5" x2="468.85" y2="727.7" stroke="#E6E6E6" stroke-width="0.6"/>
<line x1="492.16" y1="653.5" x2="492.16" y2="727.7" stroke="#E6E6E6" stroke-width="0.6"/>
<line x1="515.47" y1="653.5" x2="515.47" y2="727.7" stroke="#E6E6E6" stroke-width="0.6"/>
<line x1="538.78" y1="653.5" x2="538.78" y2="727.7" stroke="#E6E6E6" stroke-width="0.6"/>
<line x1="562.09" y1="653.5" x2="562.09" y2="727.7" stroke="#E6E6E6" stroke-width="0.6"/>
<g clip-path="url(#cp4)">
<path d="M 468.85,687.57 C 473.38,687.31 488.92,685.28 496.04,685.99 C 503.17,686.69 507.05,691 511.58,691.8 C 516.12,692.59 520,691.44 523.24,690.74 C 526.48,690.04 527.77,689.33 531.01,687.57 C 534.25,685.81 538.78,682.47 542.66,680.18 C 546.55,677.89 551.6,676.66 554.32,673.84 C 557.04,671.03 558.2,665.04 558.98,663.28 L 558.98,715.56 C 558.2,715.82 557.04,717.05 554.32,717.14 C 551.6,717.23 546.55,716.52 542.66,716.08 C 538.78,715.64 534.25,715.12 531.01,714.5 C 527.77,713.88 526.48,712.04 523.24,712.39 C 520,712.74 516.12,715.29 511.58,716.61 C 507.05,717.93 503.17,719.16 496.04,720.31 C 488.92,721.45 473.38,722.95 468.85,723.48 Z" fill="#999999" stroke="none" stroke-width="1" opacity="0.34"/>
<path d="M 468.85,702.88 C 472.73,702.62 484.39,701.65 492.16,701.3 C 499.93,700.95 510.29,700.6 515.47,700.77 C 520.65,700.95 520.65,701.39 523.24,702.36 C 525.83,703.32 528.42,705.08 531.01,706.58 C 533.6,708.08 534.12,710.54 538.78,711.33 C 543.44,712.12 555.62,711.33 558.98,711.33 L 558.98,716.08 C 555.62,716.26 543.44,717.4 538.78,717.14 C 534.12,716.88 533.6,715.47 531.01,714.5 C 528.42,713.53 525.83,711.95 523.24,711.33 C 520.65,710.72 520.65,710.45 515.47,710.8 C 510.29,711.16 499.93,712.12 492.16,713.44 C 484.39,714.76 472.73,717.84 468.85,718.72 Z" fill="#999999" stroke="none" stroke-width="1" opacity="0.34"/>
<path d="M 511.58,696.55 C 513.53,695.84 520,692.5 523.24,692.32 C 526.48,692.15 528.42,694.26 531.01,695.49 C 533.6,696.72 536.19,698.84 538.78,699.72 C 541.37,700.6 543.96,701.48 546.55,700.77 C 549.14,700.07 552.25,698.04 554.32,695.49 C 556.39,692.94 558.2,687.13 558.98,685.46 L 558.98,706.05 C 558.2,706.58 556.39,708.34 554.32,709.22 C 552.25,710.1 549.14,711.24 546.55,711.33 C 543.96,711.42 541.37,710.45 538.78,709.75 C 536.19,709.04 533.6,707.9 531.01,707.11 C 528.42,706.32 526.48,705.7 523.24,705 C 520,704.29 513.53,703.24 511.58,702.88 Z" fill="#999999" stroke="none" stroke-width="1" opacity="0.34"/>
<path d="M 515.47,699.72 C 516.76,699.54 520.65,698.4 523.24,698.66 C 525.83,698.92 528.42,700.33 531.01,701.3 C 533.6,702.27 536.19,703.68 538.78,704.47 C 541.37,705.26 543.96,706.58 546.55,706.05 C 549.14,705.52 552.25,703.15 554.32,701.3 C 556.39,699.45 558.2,696.02 558.98,694.96" fill="none" stroke="#A8A8A8" stroke-width="0.9"/>
<rect x="534.29" y="669.02" width="1.2" height="1.2" fill="#9A9A9A" stroke="none" stroke-width="1"/>
<rect x="538.18" y="666.91" width="1.2" height="1.2" fill="#9A9A9A" stroke="none" stroke-width="1"/>
<rect x="558.38" y="655.82" width="1.2" height="1.2" fill="#9A9A9A" stroke="none" stroke-width="1"/>
<rect x="545.95" y="679.58" width="1.2" height="1.2" fill="#9A9A9A" stroke="none" stroke-width="1"/>
<rect x="553.72" y="676.94" width="1.2" height="1.2" fill="#9A9A9A" stroke="none" stroke-width="1"/>
<rect x="522.64" y="685.39" width="1.2" height="1.2" fill="#9A9A9A" stroke="none" stroke-width="1"/>
<rect x="530.41" y="692.78" width="1.2" height="1.2" fill="#9A9A9A" stroke="none" stroke-width="1"/>
<rect x="558.38" y="679.58" width="1.2" height="1.2" fill="#9A9A9A" stroke="none" stroke-width="1"/>
<rect x="468.1" y="699.49" width="1.5" height="1.5" fill="#0000FF" stroke="none" stroke-width="1"/>
<rect x="468.1" y="705.83" width="1.5" height="1.5" fill="#0000FF" stroke="none" stroke-width="1"/>
<rect x="468.1" y="710.58" width="1.5" height="1.5" fill="#0000FF" stroke="none" stroke-width="1"/>
<rect x="495.29" y="682.07" width="1.5" height="1.5" fill="#0000FF" stroke="none" stroke-width="1"/>
<rect x="530.26" y="684.71" width="1.5" height="1.5" fill="#0000FF" stroke="none" stroke-width="1"/>
<rect x="522.49" y="709.53" width="1.5" height="1.5" fill="#0000FF" stroke="none" stroke-width="1"/>
<rect x="522.49" y="712.69" width="1.5" height="1.5" fill="#0000FF" stroke="none" stroke-width="1"/>
<rect x="530.26" y="713.22" width="1.5" height="1.5" fill="#0000FF" stroke="none" stroke-width="1"/>
<rect x="530.26" y="701.61" width="1.5" height="1.5" fill="#0000FF" stroke="none" stroke-width="1"/>
<rect x="553.57" y="712.17" width="1.5" height="1.5" fill="#0000FF" stroke="none" stroke-width="1"/>
<rect x="558.23" y="711.64" width="1.5" height="1.5" fill="#0000FF" stroke="none" stroke-width="1"/>
<rect x="538.03" y="712.69" width="1.5" height="1.5" fill="#0000FF" stroke="none" stroke-width="1"/>
<rect x="522.49" y="694.74" width="1.5" height="1.5" fill="#1D7A1D" stroke="none" stroke-width="1"/>
<rect x="522.49" y="703.19" width="1.5" height="1.5" fill="#1D7A1D" stroke="none" stroke-width="1"/>
<rect x="495.29" y="708.47" width="1.5" height="1.5" fill="#1D7A1D" stroke="none" stroke-width="1"/>
<rect x="530.26" y="712.69" width="1.5" height="1.5" fill="#1D7A1D" stroke="none" stroke-width="1"/>
<rect x="522.49" y="712.17" width="1.5" height="1.5" fill="#1D7A1D" stroke="none" stroke-width="1"/>
<rect x="468.1" y="711.64" width="1.5" height="1.5" fill="#1D7A1D" stroke="none" stroke-width="1"/>
<path d="M 468.85,706.32 C 472.73,706.1 484.39,705.3 492.16,705 C 499.93,704.69 510.29,704.29 515.47,704.47 C 520.65,704.64 520.65,705.13 523.24,706.05 C 525.83,706.98 528.42,708.74 531.01,710.01 C 533.6,711.29 536.19,712.99 538.78,713.71 C 541.37,714.43 543.96,714.25 546.55,714.34 C 549.14,714.43 552.25,714.34 554.32,714.24 C 556.39,714.13 558.2,713.8 558.98,713.71" fill="none" stroke="#0000FF" stroke-width="1.15"/>
<path d="M 468.85,713.18 C 472.73,712.47 485.68,709.97 492.16,708.9 C 498.63,707.84 503.81,707.33 507.7,706.79 C 511.58,706.25 512.88,705.68 515.47,705.68 C 518.06,705.68 520.65,705.81 523.24,706.79 C 525.83,707.78 528.42,710.34 531.01,711.6 C 533.6,712.85 536.19,713.88 538.78,714.34 C 541.37,714.8 543.96,714.36 546.55,714.34 C 549.14,714.32 552.25,714.3 554.32,714.24 C 556.39,714.17 558.2,714.02 558.98,713.97" fill="none" stroke="#0F6E0F" stroke-width="1.35"/>
</g>
<rect x="464.4" y="653.5" width="98.3" height="74.2" fill="none" stroke="#707070" stroke-width="0.7"/>
<rect x="464.4" y="645.4" width="98.3" height="8.1" fill="#D9D9D9" stroke="#707070" stroke-width="0.7"/>
<text x="513.55" y="651.1" font-size="4.5" text-anchor="middle" fill="#1A1A1A">fgb9495_SGB40934</text>
<line x1="462.8" y1="672.26" x2="464.4" y2="672.26" stroke="#333" stroke-width="0.5"/>
<text x="462.2" y="673.66" font-size="4.1" text-anchor="end" fill="#4D4D4D">8</text>
<line x1="462.8" y1="693.38" x2="464.4" y2="693.38" stroke="#333" stroke-width="0.5"/>
<text x="462.2" y="694.78" font-size="4.1" text-anchor="end" fill="#4D4D4D">4</text>
<line x1="462.8" y1="714.5" x2="464.4" y2="714.5" stroke="#333" stroke-width="0.5"/>
<text x="462.2" y="715.9" font-size="4.1" text-anchor="end" fill="#4D4D4D">0</text>
<line x1="468.85" y1="727.7" x2="468.85" y2="729.3" stroke="#333" stroke-width="0.5"/>
<text x="468.85" y="733.3" font-size="4.1" text-anchor="middle" fill="#4D4D4D">0</text>
<line x1="492.16" y1="727.7" x2="492.16" y2="729.3" stroke="#333" stroke-width="0.5"/>
<text x="492.16" y="733.3" font-size="4.1" text-anchor="middle" fill="#4D4D4D">3</text>
<line x1="515.47" y1="727.7" x2="515.47" y2="729.3" stroke="#333" stroke-width="0.5"/>
<text x="515.47" y="733.3" font-size="4.1" text-anchor="middle" fill="#4D4D4D">6</text>
<line x1="538.78" y1="727.7" x2="538.78" y2="729.3" stroke="#333" stroke-width="0.5"/>
<text x="538.78" y="733.3" font-size="4.1" text-anchor="middle" fill="#4D4D4D">9</text>
<line x1="562.09" y1="727.7" x2="562.09" y2="729.3" stroke="#333" stroke-width="0.5"/>
<text x="562.09" y="733.3" font-size="4.1" text-anchor="middle" fill="#4D4D4D">12</text>
<rect x="573.5" y="653.5" width="98.3" height="74.2" fill="#fff" stroke="none" stroke-width="1"/>
<g><clipPath id="cp5"><rect x="573.5" y="653.5" width="98.3" height="74.2"/></clipPath></g>
<line x1="573.5" y1="727.47" x2="671.8" y2="727.47" stroke="#F2F2F2" stroke-width="0.45"/>
<line x1="573.5" y1="710.33" x2="671.8" y2="710.33" stroke="#F2F2F2" stroke-width="0.45"/>
<line x1="573.5" y1="693.19" x2="671.8" y2="693.19" stroke="#F2F2F2" stroke-width="0.45"/>
<line x1="573.5" y1="676.05" x2="671.8" y2="676.05" stroke="#F2F2F2" stroke-width="0.45"/>
<line x1="573.5" y1="658.91" x2="671.8" y2="658.91" stroke="#F2F2F2" stroke-width="0.45"/>
<line x1="589.61" y1="653.5" x2="589.61" y2="727.7" stroke="#F2F2F2" stroke-width="0.45"/>
<line x1="612.92" y1="653.5" x2="612.92" y2="727.7" stroke="#F2F2F2" stroke-width="0.45"/>
<line x1="636.23" y1="653.5" x2="636.23" y2="727.7" stroke="#F2F2F2" stroke-width="0.45"/>
<line x1="659.54" y1="653.5" x2="659.54" y2="727.7" stroke="#F2F2F2" stroke-width="0.45"/>
<line x1="573.5" y1="667.48" x2="671.8" y2="667.48" stroke="#E6E6E6" stroke-width="0.6"/>
<line x1="573.5" y1="684.62" x2="671.8" y2="684.62" stroke="#E6E6E6" stroke-width="0.6"/>
<line x1="573.5" y1="701.76" x2="671.8" y2="701.76" stroke="#E6E6E6" stroke-width="0.6"/>
<line x1="573.5" y1="718.9" x2="671.8" y2="718.9" stroke="#E6E6E6" stroke-width="0.6"/>
<line x1="577.95" y1="653.5" x2="577.95" y2="727.7" stroke="#E6E6E6" stroke-width="0.6"/>
<line x1="601.26" y1="653.5" x2="601.26" y2="727.7" stroke="#E6E6E6" stroke-width="0.6"/>
<line x1="624.57" y1="653.5" x2="624.57" y2="727.7" stroke="#E6E6E6" stroke-width="0.6"/>
<line x1="647.88" y1="653.5" x2="647.88" y2="727.7" stroke="#E6E6E6" stroke-width="0.6"/>
<line x1="671.19" y1="653.5" x2="671.19" y2="727.7" stroke="#E6E6E6" stroke-width="0.6"/>
<g clip-path="url(#cp5)">
<path d="M 577.95,713.76 C 581.84,712.04 593.49,705.76 601.26,703.47 C 609.03,701.19 619.39,700.33 624.57,700.05 C 629.75,699.76 629.75,700.33 632.34,701.76 C 634.93,703.19 637.52,706.47 640.11,708.62 C 642.7,710.76 645.29,713.62 647.88,714.62 C 650.47,715.61 652.28,714.76 655.65,714.62 C 659.02,714.47 666.01,713.9 668.08,713.76 L 668.08,724.04 C 666.01,724.04 659.02,723.9 655.65,724.04 C 652.28,724.18 650.47,725.47 647.88,724.9 C 645.29,724.33 642.7,723.04 640.11,720.61 C 637.52,718.19 634.93,711.9 632.34,710.33 C 629.75,708.76 629.75,710.62 624.57,711.19 C 619.39,711.76 609.03,711.76 601.26,713.76 C 593.49,715.76 581.84,721.61 577.95,723.18 Z" fill="#999999" stroke="none" stroke-width="1" opacity="0.34"/>
<path d="M 577.95,712.04 C 581.84,710.9 593.49,706.47 601.26,705.19 C 609.03,703.9 619.39,704.33 624.57,704.33 C 629.75,704.33 629.75,704.05 632.34,705.19 C 634.93,706.33 637.52,709.33 640.11,711.19 C 642.7,713.04 643.22,715.61 647.88,716.33 C 652.54,717.04 664.72,715.61 668.08,715.47 L 668.08,722.33 C 664.72,722.47 652.54,723.61 647.88,723.18 C 643.22,722.76 642.7,720.9 640.11,719.76 C 637.52,718.61 634.93,717.19 632.34,716.33 C 629.75,715.47 629.75,714.76 624.57,714.62 C 619.39,714.47 609.03,713.9 601.26,715.47 C 593.49,717.04 581.84,722.61 577.95,724.04 Z" fill="#999999" stroke="none" stroke-width="1" opacity="0.34"/>
<path d="M 632.34,703.47 C 633.63,703.62 637.52,704.05 640.11,704.33 C 642.7,704.62 645.29,705.05 647.88,705.19 C 650.47,705.33 653.06,705.05 655.65,705.19 C 658.24,705.33 661.35,706.04 663.42,706.04 C 665.49,706.04 667.31,705.33 668.08,705.19 L 668.08,720.61 C 667.31,720.76 665.49,721.47 663.42,721.47 C 661.35,721.47 658.24,720.76 655.65,720.61 C 653.06,720.47 650.47,721.47 647.88,720.61 C 645.29,719.76 642.7,716.61 640.11,715.47 C 637.52,714.33 633.63,714.04 632.34,713.76 Z" fill="#999999" stroke="none" stroke-width="1" opacity="0.34"/>
<path d="M 632.34,708.62 C 633.63,708.9 637.52,709.47 640.11,710.33 C 642.7,711.19 645.29,713.12 647.88,713.76 C 650.47,714.4 652.28,714.26 655.65,714.19 C 659.02,714.12 666.01,713.47 668.08,713.33" fill="none" stroke="#A8A8A8" stroke-width="0.9"/>
<rect x="647.28" y="696.88" width="1.2" height="1.2" fill="#9A9A9A" stroke="none" stroke-width="1"/>
<rect x="655.05" y="699.45" width="1.2" height="1.2" fill="#9A9A9A" stroke="none" stroke-width="1"/>
<rect x="662.82" y="705.44" width="1.2" height="1.2" fill="#9A9A9A" stroke="none" stroke-width="1"/>
<rect x="667.48" y="708.02" width="1.2" height="1.2" fill="#9A9A9A" stroke="none" stroke-width="1"/>
<rect x="639.51" y="702.87" width="1.2" height="1.2" fill="#9A9A9A" stroke="none" stroke-width="1"/>
<rect x="608.43" y="700.3" width="1.2" height="1.2" fill="#9A9A9A" stroke="none" stroke-width="1"/>
<rect x="631.59" y="656.45" width="1.5" height="1.5" fill="#0000FF" stroke="none" stroke-width="1"/>
<rect x="577.2" y="718.15" width="1.5" height="1.5" fill="#0000FF" stroke="none" stroke-width="1"/>
<rect x="577.2" y="717.29" width="1.5" height="1.5" fill="#0000FF" stroke="none" stroke-width="1"/>
<rect x="608.28" y="713.87" width="1.5" height="1.5" fill="#0000FF" stroke="none" stroke-width="1"/>
<rect x="631.59" y="701.01" width="1.5" height="1.5" fill="#0000FF" stroke="none" stroke-width="1"/>
<rect x="639.36" y="718.15" width="1.5" height="1.5" fill="#0000FF" stroke="none" stroke-width="1"/>
<rect x="667.33" y="718.15" width="1.5" height="1.5" fill="#0000FF" stroke="none" stroke-width="1"/>
<rect x="577.2" y="713.87" width="1.5" height="1.5" fill="#1D7A1D" stroke="none" stroke-width="1"/>
<rect x="608.28" y="714.72" width="1.5" height="1.5" fill="#1D7A1D" stroke="none" stroke-width="1"/>
<rect x="631.59" y="714.72" width="1.5" height="1.5" fill="#1D7A1D" stroke="none" stroke-width="1"/>
<rect x="639.36" y="708.72" width="1.5" height="1.5" fill="#1D7A1D" stroke="none" stroke-width="1"/>
<rect x="631.59" y="702.72" width="1.5" height="1.5" fill="#1D7A1D" stroke="none" stroke-width="1"/>
<path d="M 577.95,718.04 C 579.89,717.26 585.72,714.93 589.61,713.33 C 593.49,711.73 596.73,709.89 601.26,708.44 C 605.79,707 612.92,705.37 616.8,704.67 C 620.69,703.97 621.98,704.1 624.57,704.25 C 627.16,704.39 629.75,703.79 632.34,705.53 C 634.93,707.27 637.52,712.26 640.11,714.7 C 642.7,717.14 645.29,719.41 647.88,720.19 C 650.47,720.96 652.28,719.54 655.65,719.33 C 659.02,719.11 666.01,718.97 668.08,718.9" fill="none" stroke="#0000FF" stroke-width="1.15"/>
<path d="M 577.95,716.93 C 579.89,716.33 585.72,714.4 589.61,713.33 C 593.49,712.26 596.73,711.19 601.26,710.5 C 605.79,709.82 612.92,709.34 616.8,709.22 C 620.69,709.09 621.98,709.46 624.57,709.73 C 627.16,710 629.75,709.9 632.34,710.84 C 634.93,711.79 637.52,713.94 640.11,715.39 C 642.7,716.83 645.29,718.91 647.88,719.5 C 650.47,720.09 652.28,719.06 655.65,718.9 C 659.02,718.74 666.01,718.61 668.08,718.56" fill="none" stroke="#0F6E0F" stroke-width="1.35"/>
</g>
<rect x="573.5" y="653.5" width="98.3" height="74.2" fill="none" stroke="#707070" stroke-width="0.7"/>
<rect x="573.5" y="645.4" width="98.3" height="8.1" fill="#D9D9D9" stroke="#707070" stroke-width="0.7"/>
<text x="622.65" y="651.1" font-size="4.5" text-anchor="middle" fill="#1A1A1A">fgb9860_SGB42478</text>
<line x1="571.9" y1="667.48" x2="573.5" y2="667.48" stroke="#333" stroke-width="0.5"/>
<text x="571.3" y="668.88" font-size="4.1" text-anchor="end" fill="#4D4D4D">60</text>
<line x1="571.9" y1="684.62" x2="573.5" y2="684.62" stroke="#333" stroke-width="0.5"/>
<text x="571.3" y="686.02" font-size="4.1" text-anchor="end" fill="#4D4D4D">40</text>
<line x1="571.9" y1="701.76" x2="573.5" y2="701.76" stroke="#333" stroke-width="0.5"/>
<text x="571.3" y="703.16" font-size="4.1" text-anchor="end" fill="#4D4D4D">20</text>
<line x1="571.9" y1="718.9" x2="573.5" y2="718.9" stroke="#333" stroke-width="0.5"/>
<text x="571.3" y="720.3" font-size="4.1" text-anchor="end" fill="#4D4D4D">0</text>
<line x1="577.95" y1="727.7" x2="577.95" y2="729.3" stroke="#333" stroke-width="0.5"/>
<text x="577.95" y="733.3" font-size="4.1" text-anchor="middle" fill="#4D4D4D">0</text>
<line x1="601.26" y1="727.7" x2="601.26" y2="729.3" stroke="#333" stroke-width="0.5"/>
<text x="601.26" y="733.3" font-size="4.1" text-anchor="middle" fill="#4D4D4D">3</text>
<line x1="624.57" y1="727.7" x2="624.57" y2="729.3" stroke="#333" stroke-width="0.5"/>
<text x="624.57" y="733.3" font-size="4.1" text-anchor="middle" fill="#4D4D4D">6</text>
<line x1="647.88" y1="727.7" x2="647.88" y2="729.3" stroke="#333" stroke-width="0.5"/>
<text x="647.88" y="733.3" font-size="4.1" text-anchor="middle" fill="#4D4D4D">9</text>
<line x1="671.19" y1="727.7" x2="671.19" y2="729.3" stroke="#333" stroke-width="0.5"/>
<text x="671.19" y="733.3" font-size="4.1" text-anchor="middle" fill="#4D4D4D">12</text>
<rect x="32.3" y="746.2" width="98.3" height="73.9" fill="#fff" stroke="none" stroke-width="1"/>
<g><clipPath id="cp6"><rect x="32.3" y="746.2" width="98.3" height="73.9"/></clipPath></g>
<line x1="32.3" y1="814.22" x2="130.6" y2="814.22" stroke="#F2F2F2" stroke-width="0.45"/>
<line x1="32.3" y1="794.78" x2="130.6" y2="794.78" stroke="#F2F2F2" stroke-width="0.45"/>
<line x1="32.3" y1="775.35" x2="130.6" y2="775.35" stroke="#F2F2F2" stroke-width="0.45"/>
<line x1="32.3" y1="755.91" x2="130.6" y2="755.91" stroke="#F2F2F2" stroke-width="0.45"/>
<line x1="48.41" y1="746.2" x2="48.41" y2="820.1" stroke="#F2F2F2" stroke-width="0.45"/>
<line x1="71.72" y1="746.2" x2="71.72" y2="820.1" stroke="#F2F2F2" stroke-width="0.45"/>
<line x1="95.03" y1="746.2" x2="95.03" y2="820.1" stroke="#F2F2F2" stroke-width="0.45"/>
<line x1="118.33" y1="746.2" x2="118.33" y2="820.1" stroke="#F2F2F2" stroke-width="0.45"/>
<line x1="32.3" y1="746.2" x2="130.6" y2="746.2" stroke="#E6E6E6" stroke-width="0.6"/>
<line x1="32.3" y1="765.63" x2="130.6" y2="765.63" stroke="#E6E6E6" stroke-width="0.6"/>
<line x1="32.3" y1="785.07" x2="130.6" y2="785.07" stroke="#E6E6E6" stroke-width="0.6"/>
<line x1="32.3" y1="804.5" x2="130.6" y2="804.5" stroke="#E6E6E6" stroke-width="0.6"/>
<line x1="36.75" y1="746.2" x2="36.75" y2="820.1" stroke="#E6E6E6" stroke-width="0.6"/>
<line x1="60.06" y1="746.2" x2="60.06" y2="820.1" stroke="#E6E6E6" stroke-width="0.6"/>
<line x1="83.37" y1="746.2" x2="83.37" y2="820.1" stroke="#E6E6E6" stroke-width="0.6"/>
<line x1="106.68" y1="746.2" x2="106.68" y2="820.1" stroke="#E6E6E6" stroke-width="0.6"/>
<line x1="129.99" y1="746.2" x2="129.99" y2="820.1" stroke="#E6E6E6" stroke-width="0.6"/>
<g clip-path="url(#cp6)">
<path d="M 36.75,795.07 C 40.63,795.67 54.23,798.23 60.06,798.67 C 65.89,799.11 67.83,797.7 71.72,797.7 C 75.6,797.7 80.13,798.99 83.37,798.67 C 86.61,798.35 88.55,799.32 91.14,795.75 C 93.73,792.19 96.32,782.31 98.91,777.29 C 101.5,772.27 104.09,768.39 106.68,765.63 C 109.27,762.88 111.86,760.45 114.45,760.77 C 117.04,761.1 120.15,765.15 122.22,767.58 C 124.29,770 126.1,774.05 126.88,775.35 L 126.88,792.84 C 126.1,791.22 124.29,786.04 122.22,783.12 C 120.15,780.21 117.04,775.67 114.45,775.35 C 111.86,775.03 109.27,778.26 106.68,781.18 C 104.09,784.09 101.5,788.14 98.91,792.84 C 96.32,797.54 93.73,805.8 91.14,809.36 C 88.55,812.92 86.61,813.41 83.37,814.22 C 80.13,815.03 75.6,813.89 71.72,814.22 C 67.83,814.54 65.89,816.27 60.06,816.16 C 54.23,816.05 40.63,813.97 36.75,813.54 Z" fill="#999999" stroke="none" stroke-width="1" opacity="0.34"/>
<path d="M 36.75,797.7 C 40.63,798.18 52.29,800.13 60.06,800.61 C 67.83,801.1 78.19,801.1 83.37,800.61 C 88.55,800.13 88.55,800.61 91.14,797.7 C 93.73,794.78 96.32,786.85 98.91,783.12 C 101.5,779.4 104.09,776.81 106.68,775.35 C 109.27,773.89 111.86,773.89 114.45,774.38 C 117.04,774.86 120.15,777.13 122.22,778.26 C 124.29,779.4 126.1,780.69 126.88,781.18 L 126.88,796.73 C 126.1,796.08 124.29,794.3 122.22,792.84 C 120.15,791.38 117.04,788.63 114.45,787.98 C 111.86,787.33 109.27,787.5 106.68,788.95 C 104.09,790.41 101.5,793.49 98.91,796.73 C 96.32,799.97 93.73,805.63 91.14,808.39 C 88.55,811.14 88.55,812.27 83.37,813.25 C 78.19,814.22 67.83,814.54 60.06,814.22 C 52.29,813.89 40.63,811.79 36.75,811.3 Z" fill="#999999" stroke="none" stroke-width="1" opacity="0.34"/>
<path d="M 91.14,803.04 C 97.1,803.04 120.92,803.04 126.88,803.04 L 126.88,805.47 C 120.92,805.47 97.1,805.47 91.14,805.47 Z" fill="#999999" stroke="none" stroke-width="1" opacity="0.34"/>
<path d="M 91.14,804.31 C 93.73,804.27 100.72,804.11 106.68,804.11 C 112.64,804.11 123.51,804.27 126.88,804.31" fill="none" stroke="#A8A8A8" stroke-width="0.9"/>
<rect x="113.85" y="802.93" width="1.2" height="1.2" fill="#9A9A9A" stroke="none" stroke-width="1"/>
<rect x="121.62" y="803.41" width="1.2" height="1.2" fill="#9A9A9A" stroke="none" stroke-width="1"/>
<rect x="106.08" y="803.61" width="1.2" height="1.2" fill="#9A9A9A" stroke="none" stroke-width="1"/>
<rect x="94.28" y="801.81" width="1.5" height="1.5" fill="#0000FF" stroke="none" stroke-width="1"/>
<rect x="94.28" y="802.78" width="1.5" height="1.5" fill="#0000FF" stroke="none" stroke-width="1"/>
<rect x="98.16" y="758.08" width="1.5" height="1.5" fill="#0000FF" stroke="none" stroke-width="1"/>
<rect x="98.16" y="764.88" width="1.5" height="1.5" fill="#0000FF" stroke="none" stroke-width="1"/>
<rect x="98.16" y="801.81" width="1.5" height="1.5" fill="#0000FF" stroke="none" stroke-width="1"/>
<rect x="102.05" y="759.05" width="1.5" height="1.5" fill="#0000FF" stroke="none" stroke-width="1"/>
<rect x="102.05" y="764.88" width="1.5" height="1.5" fill="#0000FF" stroke="none" stroke-width="1"/>
<rect x="102.05" y="766.83" width="1.5" height="1.5" fill="#0000FF" stroke="none" stroke-width="1"/>
<rect x="113.7" y="753.22" width="1.5" height="1.5" fill="#0000FF" stroke="none" stroke-width="1"/>
<rect x="113.7" y="761.97" width="1.5" height="1.5" fill="#0000FF" stroke="none" stroke-width="1"/>
<rect x="113.7" y="779.46" width="1.5" height="1.5" fill="#0000FF" stroke="none" stroke-width="1"/>
<rect x="113.7" y="791.12" width="1.5" height="1.5" fill="#0000FF" stroke="none" stroke-width="1"/>
<rect x="113.7" y="794.03" width="1.5" height="1.5" fill="#0000FF" stroke="none" stroke-width="1"/>
<rect x="113.7" y="796.95" width="1.5" height="1.5" fill="#0000FF" stroke="none" stroke-width="1"/>
<rect x="121.47" y="749.33" width="1.5" height="1.5" fill="#0000FF" stroke="none" stroke-width="1"/>
<rect x="121.47" y="755.16" width="1.5" height="1.5" fill="#0000FF" stroke="none" stroke-width="1"/>
<rect x="121.47" y="769.74" width="1.5" height="1.5" fill="#0000FF" stroke="none" stroke-width="1"/>
<rect x="121.47" y="779.46" width="1.5" height="1.5" fill="#0000FF" stroke="none" stroke-width="1"/>
<rect x="126.13" y="770.71" width="1.5" height="1.5" fill="#0000FF" stroke="none" stroke-width="1"/>
<rect x="126.13" y="795.98" width="1.5" height="1.5" fill="#0000FF" stroke="none" stroke-width="1"/>
<rect x="126.13" y="798.89" width="1.5" height="1.5" fill="#0000FF" stroke="none" stroke-width="1"/>
<rect x="98.16" y="762.94" width="1.5" height="1.5" fill="#1D7A1D" stroke="none" stroke-width="1"/>
<rect x="98.16" y="774.6" width="1.5" height="1.5" fill="#1D7A1D" stroke="none" stroke-width="1"/>
<rect x="98.16" y="795.98" width="1.5" height="1.5" fill="#1D7A1D" stroke="none" stroke-width="1"/>
<rect x="102.05" y="778.49" width="1.5" height="1.5" fill="#1D7A1D" stroke="none" stroke-width="1"/>
<rect x="105.93" y="793.06" width="1.5" height="1.5" fill="#1D7A1D" stroke="none" stroke-width="1"/>
<rect x="113.7" y="774.6" width="1.5" height="1.5" fill="#1D7A1D" stroke="none" stroke-width="1"/>
<rect x="113.7" y="785.29" width="1.5" height="1.5" fill="#1D7A1D" stroke="none" stroke-width="1"/>
<rect x="121.47" y="770.71" width="1.5" height="1.5" fill="#1D7A1D" stroke="none" stroke-width="1"/>
<rect x="121.47" y="795" width="1.5" height="1.5" fill="#1D7A1D" stroke="none" stroke-width="1"/>
<rect x="121.47" y="798.89" width="1.5" height="1.5" fill="#1D7A1D" stroke="none" stroke-width="1"/>
<rect x="126.13" y="761.97" width="1.5" height="1.5" fill="#1D7A1D" stroke="none" stroke-width="1"/>
<rect x="126.13" y="787.23" width="1.5" height="1.5" fill="#1D7A1D" stroke="none" stroke-width="1"/>
<rect x="126.13" y="791.12" width="1.5" height="1.5" fill="#1D7A1D" stroke="none" stroke-width="1"/>
<path d="M 36.75,804.31 C 38.69,804.58 44.52,805.41 48.41,805.96 C 52.29,806.51 56.18,807.53 60.06,807.61 C 63.95,807.69 67.83,806.64 71.72,806.44 C 75.6,806.25 80.13,807.11 83.37,806.44 C 86.61,805.78 88.55,806.33 91.14,802.46 C 93.73,798.59 96.32,788.18 98.91,783.22 C 101.5,778.26 104.09,775.27 106.68,772.73 C 109.27,770.18 111.86,767.56 114.45,767.96 C 117.04,768.37 120.15,772.35 122.22,775.15 C 124.29,777.96 126.1,783.17 126.88,784.77" fill="none" stroke="#0000FF" stroke-width="1.15"/>
<path d="M 36.75,804.31 C 38.69,804.58 44.52,805.55 48.41,805.96 C 52.29,806.36 56.18,806.73 60.06,806.73 C 63.95,806.73 67.83,805.96 71.72,805.96 C 75.6,805.96 80.13,807.19 83.37,806.73 C 86.61,806.28 88.55,806.1 91.14,803.24 C 93.73,800.37 96.32,793.02 98.91,789.54 C 101.5,786.05 104.09,783.67 106.68,782.35 C 109.27,781.02 111.86,781.03 114.45,781.57 C 117.04,782.1 120.15,784.22 122.22,785.55 C 124.29,786.88 126.1,788.87 126.88,789.54" fill="none" stroke="#0F6E0F" stroke-width="1.35"/>
</g>
<rect x="32.3" y="746.2" width="98.3" height="73.9" fill="none" stroke="#707070" stroke-width="0.7"/>
<rect x="32.3" y="737.4" width="98.3" height="8.8" fill="#D9D9D9" stroke="#707070" stroke-width="0.7"/>
<text x="81.45" y="743.8" font-size="4.5" text-anchor="middle" fill="#1A1A1A">lachnospiraceae_SGB41559</text>
<line x1="30.7" y1="746.2" x2="32.3" y2="746.2" stroke="#333" stroke-width="0.5"/>
<text x="30.1" y="747.6" font-size="4.1" text-anchor="end" fill="#4D4D4D">60</text>
<line x1="30.7" y1="765.63" x2="32.3" y2="765.63" stroke="#333" stroke-width="0.5"/>
<text x="30.1" y="767.03" font-size="4.1" text-anchor="end" fill="#4D4D4D">40</text>
<line x1="30.7" y1="785.07" x2="32.3" y2="785.07" stroke="#333" stroke-width="0.5"/>
<text x="30.1" y="786.47" font-size="4.1" text-anchor="end" fill="#4D4D4D">20</text>
<line x1="30.7" y1="804.5" x2="32.3" y2="804.5" stroke="#333" stroke-width="0.5"/>
<text x="30.1" y="805.9" font-size="4.1" text-anchor="end" fill="#4D4D4D">0</text>
<line x1="36.75" y1="820.1" x2="36.75" y2="821.7" stroke="#333" stroke-width="0.5"/>
<text x="36.75" y="825.7" font-size="4.1" text-anchor="middle" fill="#4D4D4D">0</text>
<line x1="60.06" y1="820.1" x2="60.06" y2="821.7" stroke="#333" stroke-width="0.5"/>
<text x="60.06" y="825.7" font-size="4.1" text-anchor="middle" fill="#4D4D4D">3</text>
<line x1="83.37" y1="820.1" x2="83.37" y2="821.7" stroke="#333" stroke-width="0.5"/>
<text x="83.37" y="825.7" font-size="4.1" text-anchor="middle" fill="#4D4D4D">6</text>
<line x1="106.68" y1="820.1" x2="106.68" y2="821.7" stroke="#333" stroke-width="0.5"/>
<text x="106.68" y="825.7" font-size="4.1" text-anchor="middle" fill="#4D4D4D">9</text>
<line x1="129.99" y1="820.1" x2="129.99" y2="821.7" stroke="#333" stroke-width="0.5"/>
<text x="129.99" y="825.7" font-size="4.1" text-anchor="middle" fill="#4D4D4D">12</text>
<rect x="138.8" y="746.2" width="98.3" height="73.9" fill="#fff" stroke="none" stroke-width="1"/>
<g><clipPath id="cp7"><rect x="138.8" y="746.2" width="98.3" height="73.9"/></clipPath></g>
<line x1="138.8" y1="817.18" x2="237.1" y2="817.18" stroke="#F2F2F2" stroke-width="0.45"/>
<line x1="138.8" y1="799.82" x2="237.1" y2="799.82" stroke="#F2F2F2" stroke-width="0.45"/>
<line x1="138.8" y1="782.45" x2="237.1" y2="782.45" stroke="#F2F2F2" stroke-width="0.45"/>
<line x1="138.8" y1="765.08" x2="237.1" y2="765.08" stroke="#F2F2F2" stroke-width="0.45"/>
<line x1="138.8" y1="747.71" x2="237.1" y2="747.71" stroke="#F2F2F2" stroke-width="0.45"/>
<line x1="154.91" y1="746.2" x2="154.91" y2="820.1" stroke="#F2F2F2" stroke-width="0.45"/>
<line x1="178.22" y1="746.2" x2="178.22" y2="820.1" stroke="#F2F2F2" stroke-width="0.45"/>
<line x1="201.53" y1="746.2" x2="201.53" y2="820.1" stroke="#F2F2F2" stroke-width="0.45"/>
<line x1="224.83" y1="746.2" x2="224.83" y2="820.1" stroke="#F2F2F2" stroke-width="0.45"/>
<line x1="138.8" y1="756.39" x2="237.1" y2="756.39" stroke="#E6E6E6" stroke-width="0.6"/>
<line x1="138.8" y1="773.76" x2="237.1" y2="773.76" stroke="#E6E6E6" stroke-width="0.6"/>
<line x1="138.8" y1="791.13" x2="237.1" y2="791.13" stroke="#E6E6E6" stroke-width="0.6"/>
<line x1="138.8" y1="808.5" x2="237.1" y2="808.5" stroke="#E6E6E6" stroke-width="0.6"/>
<line x1="143.25" y1="746.2" x2="143.25" y2="820.1" stroke="#E6E6E6" stroke-width="0.6"/>
<line x1="166.56" y1="746.2" x2="166.56" y2="820.1" stroke="#E6E6E6" stroke-width="0.6"/>
<line x1="189.87" y1="746.2" x2="189.87" y2="820.1" stroke="#E6E6E6" stroke-width="0.6"/>
<line x1="213.18" y1="746.2" x2="213.18" y2="820.1" stroke="#E6E6E6" stroke-width="0.6"/>
<line x1="236.49" y1="746.2" x2="236.49" y2="820.1" stroke="#E6E6E6" stroke-width="0.6"/>
<g clip-path="url(#cp7)">
<path d="M 143.25,784.7 C 147.13,785.05 161.38,787.16 166.56,786.79 C 171.74,786.41 169.15,783.75 174.33,782.45 C 179.51,781.14 191.16,780.13 197.64,778.97 C 204.11,777.81 207.22,778.68 213.18,775.5 C 219.14,772.31 230.02,762.47 233.38,759.86 L 233.38,799.82 C 230.02,800.39 219.14,802.13 213.18,803.29 C 207.22,804.45 204.11,805.61 197.64,806.76 C 191.16,807.92 179.51,809.37 174.33,810.24 C 169.15,811.11 171.74,810.9 166.56,811.97 C 161.38,813.05 147.13,815.88 143.25,816.66 Z" fill="#999999" stroke="none" stroke-width="1" opacity="0.34"/>
<path d="M 143.25,785.92 C 147.13,786.21 158.79,787.37 166.56,787.66 C 174.33,787.95 184.69,787.95 189.87,787.66 C 195.05,787.37 193.75,785.34 197.64,785.92 C 201.52,786.5 207.22,789.97 213.18,791.13 C 219.14,792.29 230.02,792.58 233.38,792.87 L 233.38,805.03 C 230.02,804.74 219.14,804.45 213.18,803.29 C 207.22,802.13 201.52,798.66 197.64,798.08 C 193.75,797.5 195.05,799.24 189.87,799.82 C 184.69,800.39 174.33,800.97 166.56,801.55 C 158.79,802.13 147.13,803 143.25,803.29 Z" fill="#999999" stroke="none" stroke-width="1" opacity="0.34"/>
<path d="M 143.25,791.13 C 147.13,791.42 158.79,793.16 166.56,792.87 C 174.33,792.58 182.1,789.39 189.87,789.39 C 197.64,789.39 205.93,793.16 213.18,792.87 C 220.43,792.58 230.02,788.52 233.38,787.66 L 233.38,803.29 C 230.02,803.29 220.43,803.29 213.18,803.29 C 205.93,803.29 197.64,802.42 189.87,803.29 C 182.1,804.16 174.33,807.05 166.56,808.5 C 158.79,809.95 147.13,811.39 143.25,811.97 Z" fill="#999999" stroke="none" stroke-width="1" opacity="0.34"/>
<path d="M 189.87,786.27 C 191.81,785.92 197.64,785.22 201.53,784.18 C 205.41,783.14 209.94,781.17 213.18,780.01 C 216.42,778.86 217.58,778.45 220.95,777.23 C 224.32,776.02 231.31,773.47 233.38,772.72" fill="none" stroke="#A8A8A8" stroke-width="0.9"/>
<rect x="208.7" y="764.48" width="1.2" height="1.2" fill="#9A9A9A" stroke="none" stroke-width="1"/>
<rect x="220.35" y="764.48" width="1.2" height="1.2" fill="#9A9A9A" stroke="none" stroke-width="1"/>
<rect x="228.12" y="759.26" width="1.2" height="1.2" fill="#9A9A9A" stroke="none" stroke-width="1"/>
<rect x="232.78" y="748.84" width="1.2" height="1.2" fill="#9A9A9A" stroke="none" stroke-width="1"/>
<rect x="204.81" y="774.9" width="1.2" height="1.2" fill="#9A9A9A" stroke="none" stroke-width="1"/>
<rect x="212.58" y="776.63" width="1.2" height="1.2" fill="#9A9A9A" stroke="none" stroke-width="1"/>
<rect x="200.93" y="767.95" width="1.2" height="1.2" fill="#9A9A9A" stroke="none" stroke-width="1"/>
<rect x="142.5" y="767.8" width="1.5" height="1.5" fill="#0000FF" stroke="none" stroke-width="1"/>
<rect x="142.5" y="781.7" width="1.5" height="1.5" fill="#0000FF" stroke="none" stroke-width="1"/>
<rect x="142.5" y="790.38" width="1.5" height="1.5" fill="#0000FF" stroke="none" stroke-width="1"/>
<rect x="142.5" y="804.28" width="1.5" height="1.5" fill="#0000FF" stroke="none" stroke-width="1"/>
<rect x="173.58" y="777.35" width="1.5" height="1.5" fill="#0000FF" stroke="none" stroke-width="1"/>
<rect x="173.58" y="807.75" width="1.5" height="1.5" fill="#0000FF" stroke="none" stroke-width="1"/>
<rect x="196.89" y="773.01" width="1.5" height="1.5" fill="#0000FF" stroke="none" stroke-width="1"/>
<rect x="196.89" y="771.27" width="1.5" height="1.5" fill="#0000FF" stroke="none" stroke-width="1"/>
<rect x="196.89" y="803.41" width="1.5" height="1.5" fill="#0000FF" stroke="none" stroke-width="1"/>
<rect x="196.89" y="807.75" width="1.5" height="1.5" fill="#0000FF" stroke="none" stroke-width="1"/>
<rect x="208.55" y="779.09" width="1.5" height="1.5" fill="#0000FF" stroke="none" stroke-width="1"/>
<rect x="208.55" y="786.91" width="1.5" height="1.5" fill="#0000FF" stroke="none" stroke-width="1"/>
<rect x="208.55" y="806.01" width="1.5" height="1.5" fill="#0000FF" stroke="none" stroke-width="1"/>
<rect x="212.43" y="792.99" width="1.5" height="1.5" fill="#0000FF" stroke="none" stroke-width="1"/>
<rect x="220.2" y="804.28" width="1.5" height="1.5" fill="#0000FF" stroke="none" stroke-width="1"/>
<rect x="227.97" y="790.38" width="1.5" height="1.5" fill="#0000FF" stroke="none" stroke-width="1"/>
<rect x="232.63" y="797.33" width="1.5" height="1.5" fill="#0000FF" stroke="none" stroke-width="1"/>
<rect x="232.63" y="802.54" width="1.5" height="1.5" fill="#0000FF" stroke="none" stroke-width="1"/>
<rect x="196.89" y="770.4" width="1.5" height="1.5" fill="#1D7A1D" stroke="none" stroke-width="1"/>
<rect x="196.89" y="783.43" width="1.5" height="1.5" fill="#1D7A1D" stroke="none" stroke-width="1"/>
<rect x="196.89" y="790.38" width="1.5" height="1.5" fill="#1D7A1D" stroke="none" stroke-width="1"/>
<rect x="204.66" y="786.91" width="1.5" height="1.5" fill="#1D7A1D" stroke="none" stroke-width="1"/>
<rect x="208.55" y="807.75" width="1.5" height="1.5" fill="#1D7A1D" stroke="none" stroke-width="1"/>
<rect x="204.66" y="802.54" width="1.5" height="1.5" fill="#1D7A1D" stroke="none" stroke-width="1"/>
<rect x="220.2" y="793.85" width="1.5" height="1.5" fill="#1D7A1D" stroke="none" stroke-width="1"/>
<rect x="227.97" y="786.91" width="1.5" height="1.5" fill="#1D7A1D" stroke="none" stroke-width="1"/>
<rect x="232.63" y="792.12" width="1.5" height="1.5" fill="#1D7A1D" stroke="none" stroke-width="1"/>
<rect x="142.5" y="799.07" width="1.5" height="1.5" fill="#1D7A1D" stroke="none" stroke-width="1"/>
<path d="M 143.25,792 C 145.19,792.29 151.02,793.21 154.91,793.74 C 158.79,794.26 162.68,794.81 166.56,795.13 C 170.44,795.44 174.33,795.99 178.22,795.65 C 182.1,795.3 186.63,793.74 189.87,793.04 C 193.11,792.35 195.05,791.27 197.64,791.48 C 200.23,791.68 202.82,793.1 205.41,794.26 C 208,795.41 210.59,797.56 213.18,798.43 C 215.77,799.29 218.36,799.06 220.95,799.47 C 223.54,799.87 226.65,800.6 228.72,800.86 C 230.79,801.12 232.61,801 233.38,801.03" fill="none" stroke="#0000FF" stroke-width="1.15"/>
<path d="M 143.25,800.86 C 147.13,800.71 160.09,800.54 166.56,799.99 C 173.03,799.44 178.22,798.37 182.1,797.56 C 185.98,796.75 187.28,795.68 189.87,795.13 C 192.46,794.58 195.05,794.11 197.64,794.26 C 200.23,794.4 202.82,795.3 205.41,795.99 C 208,796.69 210.59,797.9 213.18,798.43 C 215.77,798.95 218.36,799.21 220.95,799.12 C 223.54,799.03 226.65,798.43 228.72,797.9 C 230.79,797.38 232.61,796.31 233.38,795.99" fill="none" stroke="#0F6E0F" stroke-width="1.35"/>
</g>
<rect x="138.8" y="746.2" width="98.3" height="73.9" fill="none" stroke="#707070" stroke-width="0.7"/>
<rect x="138.8" y="737.4" width="98.3" height="8.8" fill="#D9D9D9" stroke="#707070" stroke-width="0.7"/>
<text x="187.95" y="743.8" font-size="4.5" text-anchor="middle" fill="#1A1A1A">odoribacteraceae_SGB40793</text>
<line x1="137.2" y1="756.39" x2="138.8" y2="756.39" stroke="#333" stroke-width="0.5"/>
<text x="136.6" y="757.79" font-size="4.1" text-anchor="end" fill="#4D4D4D">3</text>
<line x1="137.2" y1="773.76" x2="138.8" y2="773.76" stroke="#333" stroke-width="0.5"/>
<text x="136.6" y="775.16" font-size="4.1" text-anchor="end" fill="#4D4D4D">2</text>
<line x1="137.2" y1="791.13" x2="138.8" y2="791.13" stroke="#333" stroke-width="0.5"/>
<text x="136.6" y="792.53" font-size="4.1" text-anchor="end" fill="#4D4D4D">1</text>
<line x1="137.2" y1="808.5" x2="138.8" y2="808.5" stroke="#333" stroke-width="0.5"/>
<text x="136.6" y="809.9" font-size="4.1" text-anchor="end" fill="#4D4D4D">0</text>
<line x1="143.25" y1="820.1" x2="143.25" y2="821.7" stroke="#333" stroke-width="0.5"/>
<text x="143.25" y="825.7" font-size="4.1" text-anchor="middle" fill="#4D4D4D">0</text>
<line x1="166.56" y1="820.1" x2="166.56" y2="821.7" stroke="#333" stroke-width="0.5"/>
<text x="166.56" y="825.7" font-size="4.1" text-anchor="middle" fill="#4D4D4D">3</text>
<line x1="189.87" y1="820.1" x2="189.87" y2="821.7" stroke="#333" stroke-width="0.5"/>
<text x="189.87" y="825.7" font-size="4.1" text-anchor="middle" fill="#4D4D4D">6</text>
<line x1="213.18" y1="820.1" x2="213.18" y2="821.7" stroke="#333" stroke-width="0.5"/>
<text x="213.18" y="825.7" font-size="4.1" text-anchor="middle" fill="#4D4D4D">9</text>
<line x1="236.49" y1="820.1" x2="236.49" y2="821.7" stroke="#333" stroke-width="0.5"/>
<text x="236.49" y="825.7" font-size="4.1" text-anchor="middle" fill="#4D4D4D">12</text>
<rect x="248.5" y="746.2" width="98.3" height="73.9" fill="#fff" stroke="none" stroke-width="1"/>
<g><clipPath id="cp8"><rect x="248.5" y="746.2" width="98.3" height="73.9"/></clipPath></g>
<line x1="248.5" y1="817.07" x2="346.8" y2="817.07" stroke="#F2F2F2" stroke-width="0.45"/>
<line x1="248.5" y1="797.53" x2="346.8" y2="797.53" stroke="#F2F2F2" stroke-width="0.45"/>
<line x1="248.5" y1="777.99" x2="346.8" y2="777.99" stroke="#F2F2F2" stroke-width="0.45"/>
<line x1="248.5" y1="758.45" x2="346.8" y2="758.45" stroke="#F2F2F2" stroke-width="0.45"/>
<line x1="264.6" y1="746.2" x2="264.6" y2="820.1" stroke="#F2F2F2" stroke-width="0.45"/>
<line x1="287.91" y1="746.2" x2="287.91" y2="820.1" stroke="#F2F2F2" stroke-width="0.45"/>
<line x1="311.22" y1="746.2" x2="311.22" y2="820.1" stroke="#F2F2F2" stroke-width="0.45"/>
<line x1="334.53" y1="746.2" x2="334.53" y2="820.1" stroke="#F2F2F2" stroke-width="0.45"/>
<line x1="248.5" y1="748.68" x2="346.8" y2="748.68" stroke="#E6E6E6" stroke-width="0.6"/>
<line x1="248.5" y1="768.22" x2="346.8" y2="768.22" stroke="#E6E6E6" stroke-width="0.6"/>
<line x1="248.5" y1="787.76" x2="346.8" y2="787.76" stroke="#E6E6E6" stroke-width="0.6"/>
<line x1="248.5" y1="807.3" x2="346.8" y2="807.3" stroke="#E6E6E6" stroke-width="0.6"/>
<line x1="252.95" y1="746.2" x2="252.95" y2="820.1" stroke="#E6E6E6" stroke-width="0.6"/>
<line x1="276.26" y1="746.2" x2="276.26" y2="820.1" stroke="#E6E6E6" stroke-width="0.6"/>
<line x1="299.57" y1="746.2" x2="299.57" y2="820.1" stroke="#E6E6E6" stroke-width="0.6"/>
<line x1="322.88" y1="746.2" x2="322.88" y2="820.1" stroke="#E6E6E6" stroke-width="0.6"/>
<line x1="346.19" y1="746.2" x2="346.19" y2="820.1" stroke="#E6E6E6" stroke-width="0.6"/>
<g clip-path="url(#cp8)">
<path d="M 252.95,773.1 C 256.83,772.78 269.78,771.31 276.26,771.15 C 282.74,770.99 286.62,771.31 291.8,772.13 C 296.98,772.94 303.45,773.43 307.34,776.04 C 311.22,778.64 312.52,784.18 315.11,787.76 C 317.7,791.34 320.29,795.25 322.88,797.53 C 325.47,799.81 328.06,801.76 330.65,801.44 C 333.24,801.11 336.35,797.86 338.42,795.58 C 340.49,793.3 342.31,789.06 343.08,787.76 L 343.08,807.3 C 342.31,807.95 340.49,810.07 338.42,811.21 C 336.35,812.35 333.24,813.98 330.65,814.14 C 328.06,814.3 325.47,813.65 322.88,812.18 C 320.29,810.72 317.7,807.79 315.11,805.35 C 312.52,802.9 311.22,799.81 307.34,797.53 C 303.45,795.25 296.98,792.97 291.8,791.67 C 286.62,790.37 282.74,789.06 276.26,789.71 C 269.78,790.37 256.83,794.6 252.95,795.58 Z" fill="#999999" stroke="none" stroke-width="1" opacity="0.34"/>
<path d="M 252.95,772.13 C 256.83,773.43 269.78,778.32 276.26,779.94 C 282.74,781.57 287.91,781.57 291.8,781.9 C 295.68,782.22 296.98,781.57 299.57,781.9 C 302.16,782.22 304.75,781.9 307.34,783.85 C 309.93,785.81 312.52,790.85 315.11,793.62 C 317.7,796.39 318.22,799.32 322.88,800.46 C 327.54,801.6 339.71,800.46 343.08,800.46 L 343.08,811.21 C 339.71,811.21 327.54,811.53 322.88,811.21 C 318.22,810.88 317.7,808.93 315.11,809.25 C 312.52,809.58 309.93,812.18 307.34,813.16 C 304.75,814.14 302.16,816.09 299.57,815.12 C 296.98,814.14 295.68,809.91 291.8,807.3 C 287.91,804.69 282.74,802.9 276.26,799.48 C 269.78,796.06 256.83,788.9 252.95,786.78 Z" fill="#999999" stroke="none" stroke-width="1" opacity="0.34"/>
<path d="M 252.95,781.9 C 256.83,783.53 268.49,792.32 276.26,791.67 C 284.03,791.02 294.39,781.41 299.57,777.99 C 304.75,774.57 304.75,772.13 307.34,771.15 C 309.93,770.17 312.52,771.31 315.11,772.13 C 317.7,772.94 320.29,773.76 322.88,776.04 C 325.47,778.32 328.06,785.48 330.65,785.81 C 333.24,786.13 336.35,781.25 338.42,777.99 C 340.49,774.73 342.31,768.22 343.08,766.27 L 343.08,795.58 C 342.31,796.72 340.49,801.28 338.42,802.41 C 336.35,803.55 333.24,804.21 330.65,802.41 C 328.06,800.62 325.47,794.27 322.88,791.67 C 320.29,789.06 317.7,787.11 315.11,786.78 C 312.52,786.46 309.93,787.92 307.34,789.71 C 304.75,791.51 304.75,793.95 299.57,797.53 C 294.39,801.11 284.03,809.58 276.26,811.21 C 268.49,812.84 256.83,807.95 252.95,807.3 Z" fill="#999999" stroke="none" stroke-width="1" opacity="0.34"/>
<path d="M 252.95,794.5 C 254.89,795.17 260.72,797.35 264.6,798.51 C 268.49,799.66 272.38,801.28 276.26,801.44 C 280.14,801.6 284.03,801.76 287.91,799.48 C 291.8,797.2 296.33,791.02 299.57,787.76 C 302.81,784.5 304.75,781.41 307.34,779.94 C 309.93,778.48 312.52,778.64 315.11,778.97 C 317.7,779.29 320.29,779.29 322.88,781.9 C 325.47,784.5 328.06,792.97 330.65,794.6 C 333.24,796.23 336.35,793.95 338.42,791.67 C 340.49,789.39 342.31,782.71 343.08,780.92" fill="none" stroke="#A8A8A8" stroke-width="0.9"/>
<rect x="314.51" y="754.92" width="1.2" height="1.2" fill="#9A9A9A" stroke="none" stroke-width="1"/>
<rect x="314.51" y="757.85" width="1.2" height="1.2" fill="#9A9A9A" stroke="none" stroke-width="1"/>
<rect x="318.39" y="763.71" width="1.2" height="1.2" fill="#9A9A9A" stroke="none" stroke-width="1"/>
<rect x="318.39" y="770.55" width="1.2" height="1.2" fill="#9A9A9A" stroke="none" stroke-width="1"/>
<rect x="322.28" y="781.3" width="1.2" height="1.2" fill="#9A9A9A" stroke="none" stroke-width="1"/>
<rect x="330.05" y="781.3" width="1.2" height="1.2" fill="#9A9A9A" stroke="none" stroke-width="1"/>
<rect x="337.82" y="782.27" width="1.2" height="1.2" fill="#9A9A9A" stroke="none" stroke-width="1"/>
<rect x="342.48" y="749.06" width="1.2" height="1.2" fill="#9A9A9A" stroke="none" stroke-width="1"/>
<rect x="283.43" y="802.79" width="1.2" height="1.2" fill="#9A9A9A" stroke="none" stroke-width="1"/>
<rect x="252.35" y="761.76" width="1.2" height="1.2" fill="#9A9A9A" stroke="none" stroke-width="1"/>
<rect x="252.2" y="757.7" width="1.5" height="1.5" fill="#0000FF" stroke="none" stroke-width="1"/>
<rect x="252.2" y="783.1" width="1.5" height="1.5" fill="#0000FF" stroke="none" stroke-width="1"/>
<rect x="252.2" y="789.94" width="1.5" height="1.5" fill="#0000FF" stroke="none" stroke-width="1"/>
<rect x="252.2" y="801.66" width="1.5" height="1.5" fill="#0000FF" stroke="none" stroke-width="1"/>
<rect x="283.28" y="755.75" width="1.5" height="1.5" fill="#0000FF" stroke="none" stroke-width="1"/>
<rect x="283.28" y="771.38" width="1.5" height="1.5" fill="#0000FF" stroke="none" stroke-width="1"/>
<rect x="306.59" y="769.42" width="1.5" height="1.5" fill="#0000FF" stroke="none" stroke-width="1"/>
<rect x="306.59" y="806.55" width="1.5" height="1.5" fill="#0000FF" stroke="none" stroke-width="1"/>
<rect x="314.36" y="790.92" width="1.5" height="1.5" fill="#0000FF" stroke="none" stroke-width="1"/>
<rect x="314.36" y="795.8" width="1.5" height="1.5" fill="#0000FF" stroke="none" stroke-width="1"/>
<rect x="318.25" y="797.76" width="1.5" height="1.5" fill="#0000FF" stroke="none" stroke-width="1"/>
<rect x="318.25" y="805.57" width="1.5" height="1.5" fill="#0000FF" stroke="none" stroke-width="1"/>
<rect x="342.33" y="752.81" width="1.5" height="1.5" fill="#0000FF" stroke="none" stroke-width="1"/>
<rect x="342.33" y="804.6" width="1.5" height="1.5" fill="#0000FF" stroke="none" stroke-width="1"/>
<rect x="337.67" y="805.57" width="1.5" height="1.5" fill="#0000FF" stroke="none" stroke-width="1"/>
<rect x="252.2" y="771.38" width="1.5" height="1.5" fill="#1D7A1D" stroke="none" stroke-width="1"/>
<rect x="252.2" y="774.31" width="1.5" height="1.5" fill="#1D7A1D" stroke="none" stroke-width="1"/>
<rect x="252.2" y="778.22" width="1.5" height="1.5" fill="#1D7A1D" stroke="none" stroke-width="1"/>
<rect x="283.28" y="787.01" width="1.5" height="1.5" fill="#1D7A1D" stroke="none" stroke-width="1"/>
<rect x="283.28" y="792.87" width="1.5" height="1.5" fill="#1D7A1D" stroke="none" stroke-width="1"/>
<rect x="283.28" y="798.73" width="1.5" height="1.5" fill="#1D7A1D" stroke="none" stroke-width="1"/>
<rect x="306.59" y="776.26" width="1.5" height="1.5" fill="#1D7A1D" stroke="none" stroke-width="1"/>
<rect x="306.59" y="798.73" width="1.5" height="1.5" fill="#1D7A1D" stroke="none" stroke-width="1"/>
<rect x="306.59" y="800.69" width="1.5" height="1.5" fill="#1D7A1D" stroke="none" stroke-width="1"/>
<rect x="314.36" y="794.83" width="1.5" height="1.5" fill="#1D7A1D" stroke="none" stroke-width="1"/>
<rect x="314.36" y="803.62" width="1.5" height="1.5" fill="#1D7A1D" stroke="none" stroke-width="1"/>
<path d="M 252.95,783.17 C 254.89,782.79 260.72,781.52 264.6,780.92 C 268.49,780.32 271.73,779.55 276.26,779.55 C 280.79,779.55 287.91,780.32 291.8,780.92 C 295.68,781.52 296.98,782.24 299.57,783.17 C 302.16,784.1 304.75,784.21 307.34,786.49 C 309.93,788.77 312.52,793.78 315.11,796.85 C 317.7,799.91 320.29,802.98 322.88,804.86 C 325.47,806.73 328.06,808.21 330.65,808.08 C 333.24,807.95 336.35,805.8 338.42,804.08 C 340.49,802.35 342.31,798.78 343.08,797.73" fill="none" stroke="#0000FF" stroke-width="1.15"/>
<path d="M 252.95,779.16 C 254.89,780.11 260.72,783.07 264.6,784.83 C 268.49,786.59 273.02,788.38 276.26,789.71 C 279.5,791.05 280.14,792.27 284.03,792.84 C 287.91,793.41 295.69,792.87 299.57,793.13 C 303.45,793.39 304.75,792.99 307.34,794.4 C 309.93,795.82 312.52,799.74 315.11,801.63 C 317.7,803.52 320.29,804.79 322.88,805.74 C 325.47,806.68 328.06,807.17 330.65,807.3 C 333.24,807.43 336.35,806.73 338.42,806.52 C 340.49,806.31 342.31,806.11 343.08,806.03" fill="none" stroke="#0F6E0F" stroke-width="1.35"/>
</g>
<rect x="248.5" y="746.2" width="98.3" height="73.9" fill="none" stroke="#707070" stroke-width="0.7"/>
<rect x="248.5" y="737.4" width="98.3" height="8.8" fill="#D9D9D9" stroke="#707070" stroke-width="0.7"/>
<text x="297.65" y="743.8" font-size="4.5" text-anchor="middle" fill="#1A1A1A">Phocaeicola_vulgatus</text>
<line x1="246.9" y1="748.68" x2="248.5" y2="748.68" stroke="#333" stroke-width="0.5"/>
<text x="246.3" y="750.08" font-size="4.1" text-anchor="end" fill="#4D4D4D">6</text>
<line x1="246.9" y1="768.22" x2="248.5" y2="768.22" stroke="#333" stroke-width="0.5"/>
<text x="246.3" y="769.62" font-size="4.1" text-anchor="end" fill="#4D4D4D">4</text>
<line x1="246.9" y1="787.76" x2="248.5" y2="787.76" stroke="#333" stroke-width="0.5"/>
<text x="246.3" y="789.16" font-size="4.1" text-anchor="end" fill="#4D4D4D">2</text>
<line x1="246.9" y1="807.3" x2="248.5" y2="807.3" stroke="#333" stroke-width="0.5"/>
<text x="246.3" y="808.7" font-size="4.1" text-anchor="end" fill="#4D4D4D">0</text>
<line x1="252.95" y1="820.1" x2="252.95" y2="821.7" stroke="#333" stroke-width="0.5"/>
<text x="252.95" y="825.7" font-size="4.1" text-anchor="middle" fill="#4D4D4D">0</text>
<line x1="276.26" y1="820.1" x2="276.26" y2="821.7" stroke="#333" stroke-width="0.5"/>
<text x="276.26" y="825.7" font-size="4.1" text-anchor="middle" fill="#4D4D4D">3</text>
<line x1="299.57" y1="820.1" x2="299.57" y2="821.7" stroke="#333" stroke-width="0.5"/>
<text x="299.57" y="825.7" font-size="4.1" text-anchor="middle" fill="#4D4D4D">6</text>
<line x1="322.88" y1="820.1" x2="322.88" y2="821.7" stroke="#333" stroke-width="0.5"/>
<text x="322.88" y="825.7" font-size="4.1" text-anchor="middle" fill="#4D4D4D">9</text>
<line x1="346.19" y1="820.1" x2="346.19" y2="821.7" stroke="#333" stroke-width="0.5"/>
<text x="346.19" y="825.7" font-size="4.1" text-anchor="middle" fill="#4D4D4D">12</text>
<rect x="358.3" y="746.2" width="98.3" height="73.9" fill="#fff" stroke="none" stroke-width="1"/>
<g><clipPath id="cp9"><rect x="358.3" y="746.2" width="98.3" height="73.9"/></clipPath></g>
<line x1="358.3" y1="815.88" x2="456.6" y2="815.88" stroke="#F2F2F2" stroke-width="0.45"/>
<line x1="358.3" y1="801.12" x2="456.6" y2="801.12" stroke="#F2F2F2" stroke-width="0.45"/>
<line x1="358.3" y1="786.36" x2="456.6" y2="786.36" stroke="#F2F2F2" stroke-width="0.45"/>
<line x1="358.3" y1="771.6" x2="456.6" y2="771.6" stroke="#F2F2F2" stroke-width="0.45"/>
<line x1="358.3" y1="756.84" x2="456.6" y2="756.84" stroke="#F2F2F2" stroke-width="0.45"/>
<line x1="374.4" y1="746.2" x2="374.4" y2="820.1" stroke="#F2F2F2" stroke-width="0.45"/>
<line x1="397.71" y1="746.2" x2="397.71" y2="820.1" stroke="#F2F2F2" stroke-width="0.45"/>
<line x1="421.02" y1="746.2" x2="421.02" y2="820.1" stroke="#F2F2F2" stroke-width="0.45"/>
<line x1="444.33" y1="746.2" x2="444.33" y2="820.1" stroke="#F2F2F2" stroke-width="0.45"/>
<line x1="358.3" y1="749.46" x2="456.6" y2="749.46" stroke="#E6E6E6" stroke-width="0.6"/>
<line x1="358.3" y1="764.22" x2="456.6" y2="764.22" stroke="#E6E6E6" stroke-width="0.6"/>
<line x1="358.3" y1="778.98" x2="456.6" y2="778.98" stroke="#E6E6E6" stroke-width="0.6"/>
<line x1="358.3" y1="793.74" x2="456.6" y2="793.74" stroke="#E6E6E6" stroke-width="0.6"/>
<line x1="358.3" y1="808.5" x2="456.6" y2="808.5" stroke="#E6E6E6" stroke-width="0.6"/>
<line x1="362.75" y1="746.2" x2="362.75" y2="820.1" stroke="#E6E6E6" stroke-width="0.6"/>
<line x1="386.06" y1="746.2" x2="386.06" y2="820.1" stroke="#E6E6E6" stroke-width="0.6"/>
<line x1="409.37" y1="746.2" x2="409.37" y2="820.1" stroke="#E6E6E6" stroke-width="0.6"/>
<line x1="432.68" y1="746.2" x2="432.68" y2="820.1" stroke="#E6E6E6" stroke-width="0.6"/>
<line x1="455.99" y1="746.2" x2="455.99" y2="820.1" stroke="#E6E6E6" stroke-width="0.6"/>
<g clip-path="url(#cp9)">
<path d="M 362.75,796.69 C 366.63,797.06 379.58,798.41 386.06,798.91 C 392.54,799.4 397.72,798.91 401.6,799.64 C 405.49,800.38 406.78,802.72 409.37,803.33 C 411.96,803.95 414.55,804.56 417.14,803.33 C 419.73,802.1 422.32,798.78 424.91,795.95 C 427.5,793.12 430.09,788.94 432.68,786.36 C 435.27,783.78 437.86,781.07 440.45,780.46 C 443.04,779.84 446.15,781.44 448.22,782.67 C 450.29,783.9 452.11,786.98 452.88,787.84 L 452.88,803.33 C 452.11,801.98 450.29,797.31 448.22,795.22 C 446.15,793.12 443.04,790.05 440.45,790.79 C 437.86,791.53 435.27,796.57 432.68,799.64 C 430.09,802.72 427.5,806.53 424.91,809.24 C 422.32,811.94 419.73,814.65 417.14,815.88 C 414.55,817.11 411.96,816.62 409.37,816.62 C 406.78,816.62 405.49,816.5 401.6,815.88 C 397.72,815.26 392.54,813.54 386.06,812.93 C 379.58,812.31 366.63,812.31 362.75,812.19 Z" fill="#999999" stroke="none" stroke-width="1" opacity="0.34"/>
<path d="M 362.75,800.38 C 366.63,801 378.29,803.09 386.06,804.07 C 393.83,805.06 402.89,806.53 409.37,806.29 C 415.85,806.04 421.02,804.69 424.91,802.6 C 428.79,800.5 430.09,796.69 432.68,793.74 C 435.27,790.79 437.86,786.11 440.45,784.88 C 443.04,783.65 446.15,785.38 448.22,786.36 C 450.29,787.34 452.11,790.05 452.88,790.79 L 452.88,805.55 C 452.11,804.32 450.29,799.89 448.22,798.17 C 446.15,796.45 443.04,794.48 440.45,795.22 C 437.86,795.95 435.27,800.38 432.68,802.6 C 430.09,804.81 428.79,806.29 424.91,808.5 C 421.02,810.71 415.85,815.02 409.37,815.88 C 402.89,816.74 393.83,814.28 386.06,813.67 C 378.29,813.05 366.63,812.44 362.75,812.19 Z" fill="#999999" stroke="none" stroke-width="1" opacity="0.34"/>
<path d="M 417.14,805.55 C 423.1,805.55 446.93,805.55 452.88,805.55 L 452.88,809.98 C 446.93,809.98 423.1,809.98 417.14,809.98 Z" fill="#999999" stroke="none" stroke-width="1" opacity="0.34"/>
<path d="M 417.14,807.76 C 419.73,807.64 426.72,807.02 432.68,807.02 C 438.64,807.02 449.51,807.64 452.88,807.76" fill="none" stroke="#A8A8A8" stroke-width="0.9"/>
<rect x="447.62" y="802.73" width="1.2" height="1.2" fill="#9A9A9A" stroke="none" stroke-width="1"/>
<rect x="439.85" y="804.21" width="1.2" height="1.2" fill="#9A9A9A" stroke="none" stroke-width="1"/>
<rect x="362" y="798.89" width="1.5" height="1.5" fill="#0000FF" stroke="none" stroke-width="1"/>
<rect x="362" y="807.75" width="1.5" height="1.5" fill="#0000FF" stroke="none" stroke-width="1"/>
<rect x="424.16" y="804.06" width="1.5" height="1.5" fill="#0000FF" stroke="none" stroke-width="1"/>
<rect x="431.93" y="785.61" width="1.5" height="1.5" fill="#0000FF" stroke="none" stroke-width="1"/>
<rect x="431.93" y="804.06" width="1.5" height="1.5" fill="#0000FF" stroke="none" stroke-width="1"/>
<rect x="439.7" y="758.3" width="1.5" height="1.5" fill="#0000FF" stroke="none" stroke-width="1"/>
<rect x="439.7" y="775.28" width="1.5" height="1.5" fill="#0000FF" stroke="none" stroke-width="1"/>
<rect x="439.7" y="795.2" width="1.5" height="1.5" fill="#0000FF" stroke="none" stroke-width="1"/>
<rect x="447.47" y="773.06" width="1.5" height="1.5" fill="#0000FF" stroke="none" stroke-width="1"/>
<rect x="447.47" y="785.61" width="1.5" height="1.5" fill="#0000FF" stroke="none" stroke-width="1"/>
<rect x="452.13" y="800.37" width="1.5" height="1.5" fill="#0000FF" stroke="none" stroke-width="1"/>
<rect x="452.13" y="806.27" width="1.5" height="1.5" fill="#0000FF" stroke="none" stroke-width="1"/>
<rect x="428.05" y="804.06" width="1.5" height="1.5" fill="#0000FF" stroke="none" stroke-width="1"/>
<rect x="393.08" y="784.87" width="1.5" height="1.5" fill="#1D7A1D" stroke="none" stroke-width="1"/>
<rect x="393.08" y="797.42" width="1.5" height="1.5" fill="#1D7A1D" stroke="none" stroke-width="1"/>
<rect x="416.39" y="804.8" width="1.5" height="1.5" fill="#1D7A1D" stroke="none" stroke-width="1"/>
<rect x="424.16" y="804.06" width="1.5" height="1.5" fill="#1D7A1D" stroke="none" stroke-width="1"/>
<rect x="428.05" y="782.66" width="1.5" height="1.5" fill="#1D7A1D" stroke="none" stroke-width="1"/>
<rect x="428.05" y="795.94" width="1.5" height="1.5" fill="#1D7A1D" stroke="none" stroke-width="1"/>
<rect x="431.93" y="748.71" width="1.5" height="1.5" fill="#1D7A1D" stroke="none" stroke-width="1"/>
<rect x="431.93" y="776.75" width="1.5" height="1.5" fill="#1D7A1D" stroke="none" stroke-width="1"/>
<rect x="431.93" y="778.23" width="1.5" height="1.5" fill="#1D7A1D" stroke="none" stroke-width="1"/>
<rect x="439.7" y="773.8" width="1.5" height="1.5" fill="#1D7A1D" stroke="none" stroke-width="1"/>
<rect x="439.7" y="800.37" width="1.5" height="1.5" fill="#1D7A1D" stroke="none" stroke-width="1"/>
<rect x="447.47" y="776.75" width="1.5" height="1.5" fill="#1D7A1D" stroke="none" stroke-width="1"/>
<rect x="452.13" y="776.02" width="1.5" height="1.5" fill="#1D7A1D" stroke="none" stroke-width="1"/>
<rect x="452.13" y="791.51" width="1.5" height="1.5" fill="#1D7A1D" stroke="none" stroke-width="1"/>
<path d="M 362.75,806.29 C 364.69,806.53 370.52,807.33 374.4,807.76 C 378.29,808.19 381.53,808.5 386.06,808.87 C 390.59,809.24 397.72,809.67 401.6,809.98 C 405.49,810.28 406.78,810.71 409.37,810.71 C 411.96,810.71 414.55,810.84 417.14,809.98 C 419.73,809.12 422.32,807.52 424.91,805.55 C 427.5,803.58 430.09,800.75 432.68,798.17 C 435.27,795.59 437.86,791.03 440.45,790.05 C 443.04,789.07 446.15,790.91 448.22,792.26 C 450.29,793.62 452.11,797.18 452.88,798.17" fill="none" stroke="#0000FF" stroke-width="1.15"/>
<path d="M 362.75,805.33 C 364.69,805.24 370.52,804.9 374.4,804.81 C 378.29,804.72 382.18,804.81 386.06,804.81 C 389.94,804.81 393.83,804.28 397.71,804.81 C 401.6,805.34 406.13,807.61 409.37,807.98 C 412.61,808.35 414.55,808.54 417.14,807.02 C 419.73,805.51 422.32,801.73 424.91,798.91 C 427.5,796.08 430.09,792.26 432.68,790.05 C 435.27,787.84 437.86,785.87 440.45,785.62 C 443.04,785.38 446.15,787.1 448.22,788.57 C 450.29,790.05 452.11,793.49 452.88,794.48" fill="none" stroke="#0F6E0F" stroke-width="1.35"/>
</g>
<rect x="358.3" y="746.2" width="98.3" height="73.9" fill="none" stroke="#707070" stroke-width="0.7"/>
<rect x="358.3" y="737.4" width="98.3" height="8.8" fill="#D9D9D9" stroke="#707070" stroke-width="0.7"/>
<text x="407.45" y="743.8" font-size="4.5" text-anchor="middle" fill="#1A1A1A">Pseudoflavonifractor_sp_60</text>
<line x1="356.7" y1="749.46" x2="358.3" y2="749.46" stroke="#333" stroke-width="0.5"/>
<text x="356.1" y="750.86" font-size="4.1" text-anchor="end" fill="#4D4D4D">0.8</text>
<line x1="356.7" y1="764.22" x2="358.3" y2="764.22" stroke="#333" stroke-width="0.5"/>
<text x="356.1" y="765.62" font-size="4.1" text-anchor="end" fill="#4D4D4D">0.6</text>
<line x1="356.7" y1="778.98" x2="358.3" y2="778.98" stroke="#333" stroke-width="0.5"/>
<text x="356.1" y="780.38" font-size="4.1" text-anchor="end" fill="#4D4D4D">0.4</text>
<line x1="356.7" y1="793.74" x2="358.3" y2="793.74" stroke="#333" stroke-width="0.5"/>
<text x="356.1" y="795.14" font-size="4.1" text-anchor="end" fill="#4D4D4D">0.2</text>
<line x1="356.7" y1="808.5" x2="358.3" y2="808.5" stroke="#333" stroke-width="0.5"/>
<text x="356.1" y="809.9" font-size="4.1" text-anchor="end" fill="#4D4D4D">0.0</text>
<line x1="362.75" y1="820.1" x2="362.75" y2="821.7" stroke="#333" stroke-width="0.5"/>
<text x="362.75" y="825.7" font-size="4.1" text-anchor="middle" fill="#4D4D4D">0</text>
<line x1="386.06" y1="820.1" x2="386.06" y2="821.7" stroke="#333" stroke-width="0.5"/>
<text x="386.06" y="825.7" font-size="4.1" text-anchor="middle" fill="#4D4D4D">3</text>
<line x1="409.37" y1="820.1" x2="409.37" y2="821.7" stroke="#333" stroke-width="0.5"/>
<text x="409.37" y="825.7" font-size="4.1" text-anchor="middle" fill="#4D4D4D">6</text>
<line x1="432.68" y1="820.1" x2="432.68" y2="821.7" stroke="#333" stroke-width="0.5"/>
<text x="432.68" y="825.7" font-size="4.1" text-anchor="middle" fill="#4D4D4D">9</text>
<line x1="455.99" y1="820.1" x2="455.99" y2="821.7" stroke="#333" stroke-width="0.5"/>
<text x="455.99" y="825.7" font-size="4.1" text-anchor="middle" fill="#4D4D4D">12</text>
<rect x="464.4" y="746.2" width="98.3" height="73.9" fill="#fff" stroke="none" stroke-width="1"/>
<g><clipPath id="cp10"><rect x="464.4" y="746.2" width="98.3" height="73.9"/></clipPath></g>
<line x1="464.4" y1="816.9" x2="562.7" y2="816.9" stroke="#F2F2F2" stroke-width="0.45"/>
<line x1="464.4" y1="796.7" x2="562.7" y2="796.7" stroke="#F2F2F2" stroke-width="0.45"/>
<line x1="464.4" y1="776.5" x2="562.7" y2="776.5" stroke="#F2F2F2" stroke-width="0.45"/>
<line x1="464.4" y1="756.3" x2="562.7" y2="756.3" stroke="#F2F2F2" stroke-width="0.45"/>
<line x1="480.5" y1="746.2" x2="480.5" y2="820.1" stroke="#F2F2F2" stroke-width="0.45"/>
<line x1="503.81" y1="746.2" x2="503.81" y2="820.1" stroke="#F2F2F2" stroke-width="0.45"/>
<line x1="527.12" y1="746.2" x2="527.12" y2="820.1" stroke="#F2F2F2" stroke-width="0.45"/>
<line x1="550.43" y1="746.2" x2="550.43" y2="820.1" stroke="#F2F2F2" stroke-width="0.45"/>
<line x1="464.4" y1="746.2" x2="562.7" y2="746.2" stroke="#E6E6E6" stroke-width="0.6"/>
<line x1="464.4" y1="766.4" x2="562.7" y2="766.4" stroke="#E6E6E6" stroke-width="0.6"/>
<line x1="464.4" y1="786.6" x2="562.7" y2="786.6" stroke="#E6E6E6" stroke-width="0.6"/>
<line x1="464.4" y1="806.8" x2="562.7" y2="806.8" stroke="#E6E6E6" stroke-width="0.6"/>
<line x1="468.85" y1="746.2" x2="468.85" y2="820.1" stroke="#E6E6E6" stroke-width="0.6"/>
<line x1="492.16" y1="746.2" x2="492.16" y2="820.1" stroke="#E6E6E6" stroke-width="0.6"/>
<line x1="515.47" y1="746.2" x2="515.47" y2="820.1" stroke="#E6E6E6" stroke-width="0.6"/>
<line x1="538.78" y1="746.2" x2="538.78" y2="820.1" stroke="#E6E6E6" stroke-width="0.6"/>
<line x1="562.09" y1="746.2" x2="562.09" y2="820.1" stroke="#E6E6E6" stroke-width="0.6"/>
<g clip-path="url(#cp10)">
<path d="M 468.85,795.18 C 472.73,795.27 484.39,795.44 492.16,795.69 C 499.93,795.94 510.29,796.53 515.47,796.7 C 520.65,796.87 520.65,796.03 523.24,796.7 C 525.83,797.37 528.42,799.73 531.01,800.74 C 533.6,801.75 536.19,802.25 538.78,802.76 C 541.37,803.26 543.18,803.77 546.55,803.77 C 549.92,803.77 556.91,802.93 558.98,802.76 L 558.98,810.84 C 556.91,811.01 549.92,811.51 546.55,811.85 C 543.18,812.19 541.37,812.52 538.78,812.86 C 536.19,813.2 533.6,814.04 531.01,813.87 C 528.42,813.7 525.83,812.35 523.24,811.85 C 520.65,811.34 520.65,810.84 515.47,810.84 C 510.29,810.84 499.93,810.84 492.16,811.85 C 484.39,812.86 472.73,816.06 468.85,816.9 Z" fill="#999999" stroke="none" stroke-width="1" opacity="0.34"/>
<path d="M 468.85,797.71 C 472.73,797.71 484.39,797.71 492.16,797.71 C 499.93,797.71 510.29,797.54 515.47,797.71 C 520.65,797.88 519.36,797.71 523.24,798.72 C 527.12,799.73 532.82,802.93 538.78,803.77 C 544.74,804.61 555.62,803.77 558.98,803.77 L 558.98,809.83 C 555.62,809.83 544.74,810 538.78,809.83 C 532.82,809.66 527.12,809.32 523.24,808.82 C 519.36,808.31 520.65,807.14 515.47,806.8 C 510.29,806.46 499.93,806.13 492.16,806.8 C 484.39,807.47 472.73,810.17 468.85,810.84 Z" fill="#999999" stroke="none" stroke-width="1" opacity="0.34"/>
<path d="M 523.24,797.71 C 524.53,797.71 528.42,798.05 531.01,797.71 C 533.6,797.37 536.19,796.53 538.78,795.69 C 541.37,794.85 543.96,794.17 546.55,792.66 C 549.14,791.14 552.25,789.46 554.32,786.6 C 556.39,783.74 558.2,777.34 558.98,775.49 L 558.98,808.82 C 558.2,807.98 556.39,804.61 554.32,803.77 C 552.25,802.93 549.14,803.6 546.55,803.77 C 543.96,803.94 541.37,804.27 538.78,804.78 C 536.19,805.28 533.6,805.96 531.01,806.8 C 528.42,807.64 524.53,809.32 523.24,809.83 Z" fill="#999999" stroke="none" stroke-width="1" opacity="0.34"/>
<path d="M 523.24,803.77 C 524.53,803.55 527.12,803.35 531.01,802.46 C 534.89,801.56 542.66,799.54 546.55,798.42 C 550.43,797.29 552.25,796.9 554.32,795.69 C 556.39,794.48 558.2,791.9 558.98,791.14" fill="none" stroke="#A8A8A8" stroke-width="0.9"/>
<rect x="530.41" y="792.06" width="1.2" height="1.2" fill="#9A9A9A" stroke="none" stroke-width="1"/>
<rect x="545.95" y="795.09" width="1.2" height="1.2" fill="#9A9A9A" stroke="none" stroke-width="1"/>
<rect x="558.38" y="748.63" width="1.2" height="1.2" fill="#9A9A9A" stroke="none" stroke-width="1"/>
<rect x="558.38" y="801.15" width="1.2" height="1.2" fill="#9A9A9A" stroke="none" stroke-width="1"/>
<rect x="553.72" y="787.01" width="1.2" height="1.2" fill="#9A9A9A" stroke="none" stroke-width="1"/>
<rect x="538.18" y="798.12" width="1.2" height="1.2" fill="#9A9A9A" stroke="none" stroke-width="1"/>
<rect x="468.1" y="797.46" width="1.5" height="1.5" fill="#0000FF" stroke="none" stroke-width="1"/>
<rect x="468.1" y="803.02" width="1.5" height="1.5" fill="#0000FF" stroke="none" stroke-width="1"/>
<rect x="468.1" y="806.05" width="1.5" height="1.5" fill="#0000FF" stroke="none" stroke-width="1"/>
<rect x="499.18" y="796.45" width="1.5" height="1.5" fill="#0000FF" stroke="none" stroke-width="1"/>
<rect x="499.18" y="806.05" width="1.5" height="1.5" fill="#0000FF" stroke="none" stroke-width="1"/>
<rect x="522.49" y="792.41" width="1.5" height="1.5" fill="#0000FF" stroke="none" stroke-width="1"/>
<rect x="522.49" y="806.05" width="1.5" height="1.5" fill="#0000FF" stroke="none" stroke-width="1"/>
<rect x="530.26" y="806.05" width="1.5" height="1.5" fill="#0000FF" stroke="none" stroke-width="1"/>
<rect x="558.23" y="805.54" width="1.5" height="1.5" fill="#0000FF" stroke="none" stroke-width="1"/>
<rect x="468.1" y="790.39" width="1.5" height="1.5" fill="#1D7A1D" stroke="none" stroke-width="1"/>
<rect x="499.18" y="788.88" width="1.5" height="1.5" fill="#1D7A1D" stroke="none" stroke-width="1"/>
<rect x="522.49" y="786.86" width="1.5" height="1.5" fill="#1D7A1D" stroke="none" stroke-width="1"/>
<rect x="522.49" y="805.04" width="1.5" height="1.5" fill="#1D7A1D" stroke="none" stroke-width="1"/>
<rect x="538.03" y="805.04" width="1.5" height="1.5" fill="#1D7A1D" stroke="none" stroke-width="1"/>
<path d="M 468.85,804.07 C 472.73,803.94 484.39,803.53 492.16,803.26 C 499.93,803 510.29,802.46 515.47,802.46 C 520.65,802.46 520.65,802.51 523.24,803.26 C 525.83,804.02 528.42,806.33 531.01,807 C 533.6,807.68 534.12,807.34 538.78,807.3 C 543.44,807.27 555.62,806.88 558.98,806.8" fill="none" stroke="#0000FF" stroke-width="1.15"/>
<path d="M 468.85,803.77 C 470.79,803.52 476.62,802.74 480.5,802.25 C 484.39,801.77 487.63,801.08 492.16,800.84 C 496.69,800.61 503.81,800.71 507.7,800.84 C 511.58,800.98 512.88,801.25 515.47,801.65 C 518.06,802.05 520.65,802.32 523.24,803.26 C 525.83,804.21 528.42,806.63 531.01,807.3 C 533.6,807.98 534.12,807.39 538.78,807.3 C 543.44,807.22 555.62,806.88 558.98,806.8" fill="none" stroke="#0F6E0F" stroke-width="1.35"/>
</g>
<rect x="464.4" y="746.2" width="98.3" height="73.9" fill="none" stroke="#707070" stroke-width="0.7"/>
<rect x="464.4" y="737.4" width="98.3" height="8.8" fill="#D9D9D9" stroke="#707070" stroke-width="0.7"/>
<text x="513.55" y="743.8" font-size="4.5" text-anchor="middle" fill="#1A1A1A">rikenellaceae_SGB05885</text>
<line x1="462.8" y1="746.2" x2="464.4" y2="746.2" stroke="#333" stroke-width="0.5"/>
<text x="462.2" y="747.6" font-size="4.1" text-anchor="end" fill="#4D4D4D">6</text>
<line x1="462.8" y1="766.4" x2="464.4" y2="766.4" stroke="#333" stroke-width="0.5"/>
<text x="462.2" y="767.8" font-size="4.1" text-anchor="end" fill="#4D4D4D">4</text>
<line x1="462.8" y1="786.6" x2="464.4" y2="786.6" stroke="#333" stroke-width="0.5"/>
<text x="462.2" y="788" font-size="4.1" text-anchor="end" fill="#4D4D4D">2</text>
<line x1="462.8" y1="806.8" x2="464.4" y2="806.8" stroke="#333" stroke-width="0.5"/>
<text x="462.2" y="808.2" font-size="4.1" text-anchor="end" fill="#4D4D4D">0</text>
<line x1="468.85" y1="820.1" x2="468.85" y2="821.7" stroke="#333" stroke-width="0.5"/>
<text x="468.85" y="825.7" font-size="4.1" text-anchor="middle" fill="#4D4D4D">0</text>
<line x1="492.16" y1="820.1" x2="492.16" y2="821.7" stroke="#333" stroke-width="0.5"/>
<text x="492.16" y="825.7" font-size="4.1" text-anchor="middle" fill="#4D4D4D">3</text>
<line x1="515.47" y1="820.1" x2="515.47" y2="821.7" stroke="#333" stroke-width="0.5"/>
<text x="515.47" y="825.7" font-size="4.1" text-anchor="middle" fill="#4D4D4D">6</text>
<line x1="538.78" y1="820.1" x2="538.78" y2="821.7" stroke="#333" stroke-width="0.5"/>
<text x="538.78" y="825.7" font-size="4.1" text-anchor="middle" fill="#4D4D4D">9</text>
<line x1="562.09" y1="820.1" x2="562.09" y2="821.7" stroke="#333" stroke-width="0.5"/>
<text x="562.09" y="825.7" font-size="4.1" text-anchor="middle" fill="#4D4D4D">12</text>
<rect x="573.5" y="746.2" width="98.3" height="73.9" fill="#fff" stroke="none" stroke-width="1"/>
<g><clipPath id="cp11"><rect x="573.5" y="746.2" width="98.3" height="73.9"/></clipPath></g>
<line x1="573.5" y1="800.87" x2="671.8" y2="800.87" stroke="#F2F2F2" stroke-width="0.45"/>
<line x1="573.5" y1="776.21" x2="671.8" y2="776.21" stroke="#F2F2F2" stroke-width="0.45"/>
<line x1="573.5" y1="751.55" x2="671.8" y2="751.55" stroke="#F2F2F2" stroke-width="0.45"/>
<line x1="589.61" y1="746.2" x2="589.61" y2="820.1" stroke="#F2F2F2" stroke-width="0.45"/>
<line x1="612.92" y1="746.2" x2="612.92" y2="820.1" stroke="#F2F2F2" stroke-width="0.45"/>
<line x1="636.23" y1="746.2" x2="636.23" y2="820.1" stroke="#F2F2F2" stroke-width="0.45"/>
<line x1="659.54" y1="746.2" x2="659.54" y2="820.1" stroke="#F2F2F2" stroke-width="0.45"/>
<line x1="573.5" y1="763.88" x2="671.8" y2="763.88" stroke="#E6E6E6" stroke-width="0.6"/>
<line x1="573.5" y1="788.54" x2="671.8" y2="788.54" stroke="#E6E6E6" stroke-width="0.6"/>
<line x1="573.5" y1="813.2" x2="671.8" y2="813.2" stroke="#E6E6E6" stroke-width="0.6"/>
<line x1="577.95" y1="746.2" x2="577.95" y2="820.1" stroke="#E6E6E6" stroke-width="0.6"/>
<line x1="601.26" y1="746.2" x2="601.26" y2="820.1" stroke="#E6E6E6" stroke-width="0.6"/>
<line x1="624.57" y1="746.2" x2="624.57" y2="820.1" stroke="#E6E6E6" stroke-width="0.6"/>
<line x1="647.88" y1="746.2" x2="647.88" y2="820.1" stroke="#E6E6E6" stroke-width="0.6"/>
<line x1="671.19" y1="746.2" x2="671.19" y2="820.1" stroke="#E6E6E6" stroke-width="0.6"/>
<g clip-path="url(#cp11)">
<path d="M 577.95,768.81 C 581.84,769.02 596.08,769.43 601.26,770.05 C 606.44,770.66 605.15,770.66 609.03,772.51 C 612.92,774.36 620.69,778.68 624.57,781.14 C 628.46,783.61 629.75,786.07 632.34,787.31 C 634.93,788.54 637.52,787.92 640.11,788.54 C 642.7,789.16 645.29,790.18 647.88,791.01 C 650.47,791.83 652.28,792.24 655.65,793.47 C 659.02,794.71 666.01,797.58 668.08,798.4 L 668.08,816.9 C 666.01,816.08 659.02,812.58 655.65,811.97 C 652.28,811.35 650.47,812.38 647.88,813.2 C 645.29,814.02 642.7,816.49 640.11,816.9 C 637.52,817.31 634.93,817.52 632.34,815.67 C 629.75,813.82 628.46,808.27 624.57,805.8 C 620.69,803.34 612.92,801.28 609.03,800.87 C 605.15,800.46 606.44,800.93 601.26,803.34 C 596.08,805.74 581.84,813.3 577.95,815.3 Z" fill="#999999" stroke="none" stroke-width="1" opacity="0.34"/>
<path d="M 577.95,795.94 C 581.84,794.71 594.78,790.39 601.26,788.54 C 607.74,786.69 612.92,785.66 616.8,784.84 C 620.69,784.02 621.98,783.4 624.57,783.61 C 627.16,783.81 629.75,784.43 632.34,786.07 C 634.93,787.72 637.52,791.42 640.11,793.47 C 642.7,795.53 643.22,796.76 647.88,798.4 C 652.54,800.05 664.72,802.51 668.08,803.34 L 668.08,815.67 C 664.72,815.26 652.54,814.02 647.88,813.2 C 643.22,812.38 642.7,811.76 640.11,810.73 C 637.52,809.71 634.93,807.86 632.34,807.04 C 629.75,806.21 627.16,806.21 624.57,805.8 C 621.98,805.39 620.69,804.36 616.8,804.57 C 612.92,804.77 607.74,804.98 601.26,807.04 C 594.78,809.09 581.84,815.25 577.95,816.9 Z" fill="#999999" stroke="none" stroke-width="1" opacity="0.34"/>
<path d="M 577.95,781.14 C 581.84,781.35 593.49,781.35 601.26,782.38 C 609.03,783.4 618.1,786.28 624.57,787.31 C 631.05,788.33 636.23,788.95 640.11,788.54 C 644,788.13 645.29,786.49 647.88,784.84 C 650.47,783.2 653.06,780.94 655.65,778.68 C 658.24,776.42 661.35,774.15 663.42,771.28 C 665.49,768.4 667.31,763.06 668.08,761.41 L 668.08,800.87 C 667.31,800.46 665.49,798.4 663.42,798.4 C 661.35,798.4 658.24,800.05 655.65,800.87 C 653.06,801.69 650.47,802.31 647.88,803.34 C 645.29,804.36 644,806.42 640.11,807.04 C 636.23,807.65 631.05,807.24 624.57,807.04 C 618.1,806.83 609.03,805.6 601.26,805.8 C 593.49,806.01 581.84,807.86 577.95,808.27 Z" fill="#999999" stroke="none" stroke-width="1" opacity="0.34"/>
<path d="M 640.11,797.66 C 641.4,796.76 645.29,793.97 647.88,792.24 C 650.47,790.51 653.06,789.16 655.65,787.31 C 658.24,785.46 661.35,782.79 663.42,781.14 C 665.49,779.5 667.31,778.06 668.08,777.44" fill="none" stroke="#A8A8A8" stroke-width="0.9"/>
<path d="M 577.95,794.71 C 581.84,794.91 593.49,795.53 601.26,795.94 C 609.03,796.35 618.1,796.55 624.57,797.17 C 631.05,797.79 636.23,798.82 640.11,799.64 C 644,800.46 646.59,801.69 647.88,802.1" fill="none" stroke="#A8A8A8" stroke-width="0.9"/>
<rect x="631.74" y="769.45" width="1.2" height="1.2" fill="#9A9A9A" stroke="none" stroke-width="1"/>
<rect x="643.39" y="780.54" width="1.2" height="1.2" fill="#9A9A9A" stroke="none" stroke-width="1"/>
<rect x="647.28" y="768.21" width="1.2" height="1.2" fill="#9A9A9A" stroke="none" stroke-width="1"/>
<rect x="655.05" y="766.98" width="1.2" height="1.2" fill="#9A9A9A" stroke="none" stroke-width="1"/>
<rect x="662.82" y="770.68" width="1.2" height="1.2" fill="#9A9A9A" stroke="none" stroke-width="1"/>
<rect x="667.48" y="755.88" width="1.2" height="1.2" fill="#9A9A9A" stroke="none" stroke-width="1"/>
<rect x="667.48" y="758.35" width="1.2" height="1.2" fill="#9A9A9A" stroke="none" stroke-width="1"/>
<rect x="631.74" y="784.24" width="1.2" height="1.2" fill="#9A9A9A" stroke="none" stroke-width="1"/>
<rect x="577.2" y="761.9" width="1.5" height="1.5" fill="#0000FF" stroke="none" stroke-width="1"/>
<rect x="577.2" y="773.61" width="1.5" height="1.5" fill="#0000FF" stroke="none" stroke-width="1"/>
<rect x="577.2" y="781.62" width="1.5" height="1.5" fill="#0000FF" stroke="none" stroke-width="1"/>
<rect x="577.2" y="808.75" width="1.5" height="1.5" fill="#0000FF" stroke="none" stroke-width="1"/>
<rect x="608.28" y="758.2" width="1.5" height="1.5" fill="#0000FF" stroke="none" stroke-width="1"/>
<rect x="608.28" y="761.9" width="1.5" height="1.5" fill="#0000FF" stroke="none" stroke-width="1"/>
<rect x="608.28" y="776.69" width="1.5" height="1.5" fill="#0000FF" stroke="none" stroke-width="1"/>
<rect x="608.28" y="807.52" width="1.5" height="1.5" fill="#0000FF" stroke="none" stroke-width="1"/>
<rect x="631.59" y="812.45" width="1.5" height="1.5" fill="#0000FF" stroke="none" stroke-width="1"/>
<rect x="631.59" y="805.05" width="1.5" height="1.5" fill="#0000FF" stroke="none" stroke-width="1"/>
<rect x="639.36" y="808.75" width="1.5" height="1.5" fill="#0000FF" stroke="none" stroke-width="1"/>
<rect x="643.25" y="791.49" width="1.5" height="1.5" fill="#0000FF" stroke="none" stroke-width="1"/>
<rect x="643.25" y="808.75" width="1.5" height="1.5" fill="#0000FF" stroke="none" stroke-width="1"/>
<rect x="654.9" y="809.98" width="1.5" height="1.5" fill="#0000FF" stroke="none" stroke-width="1"/>
<rect x="662.67" y="798.89" width="1.5" height="1.5" fill="#0000FF" stroke="none" stroke-width="1"/>
<rect x="667.33" y="809.98" width="1.5" height="1.5" fill="#0000FF" stroke="none" stroke-width="1"/>
<rect x="577.2" y="801.35" width="1.5" height="1.5" fill="#1D7A1D" stroke="none" stroke-width="1"/>
<rect x="577.2" y="806.29" width="1.5" height="1.5" fill="#1D7A1D" stroke="none" stroke-width="1"/>
<rect x="577.2" y="811.22" width="1.5" height="1.5" fill="#1D7A1D" stroke="none" stroke-width="1"/>
<rect x="608.28" y="769.3" width="1.5" height="1.5" fill="#1D7A1D" stroke="none" stroke-width="1"/>
<rect x="608.28" y="800.12" width="1.5" height="1.5" fill="#1D7A1D" stroke="none" stroke-width="1"/>
<rect x="631.59" y="748.33" width="1.5" height="1.5" fill="#1D7A1D" stroke="none" stroke-width="1"/>
<rect x="631.59" y="808.75" width="1.5" height="1.5" fill="#1D7A1D" stroke="none" stroke-width="1"/>
<rect x="639.36" y="775.46" width="1.5" height="1.5" fill="#1D7A1D" stroke="none" stroke-width="1"/>
<rect x="639.36" y="806.29" width="1.5" height="1.5" fill="#1D7A1D" stroke="none" stroke-width="1"/>
<rect x="647.13" y="808.75" width="1.5" height="1.5" fill="#1D7A1D" stroke="none" stroke-width="1"/>
<rect x="662.67" y="809.98" width="1.5" height="1.5" fill="#1D7A1D" stroke="none" stroke-width="1"/>
<rect x="667.33" y="806.29" width="1.5" height="1.5" fill="#1D7A1D" stroke="none" stroke-width="1"/>
<path d="M 577.95,790.39 C 579.25,789.88 581.84,788.29 585.72,787.31 C 589.61,786.32 596.73,784.64 601.26,784.47 C 605.79,784.31 609.03,784.68 612.92,786.32 C 616.8,787.96 621.33,791.7 624.57,794.34 C 627.81,796.97 629.75,800.75 632.34,802.1 C 634.93,803.46 637.52,802.47 640.11,802.47 C 642.7,802.47 645.29,801.84 647.88,802.1 C 650.47,802.37 653.06,803.21 655.65,804.08 C 658.24,804.94 661.35,806.44 663.42,807.28 C 665.49,808.12 667.31,808.82 668.08,809.13" fill="none" stroke="#0000FF" stroke-width="1.15"/>
<path d="M 577.95,807.28 C 579.89,806.52 585.72,804.2 589.61,802.72 C 593.49,801.24 596.73,799.66 601.26,798.4 C 605.79,797.15 612.92,795.81 616.8,795.2 C 620.69,794.58 621.98,794.58 624.57,794.71 C 627.16,794.83 629.75,794.79 632.34,795.94 C 634.93,797.09 637.52,799.86 640.11,801.61 C 642.7,803.36 645.29,805.21 647.88,806.42 C 650.47,807.63 653.06,808.37 655.65,808.88 C 658.24,809.4 661.35,809.4 663.42,809.5 C 665.49,809.6 667.31,809.5 668.08,809.5" fill="none" stroke="#0F6E0F" stroke-width="1.35"/>
</g>
<rect x="573.5" y="746.2" width="98.3" height="73.9" fill="none" stroke="#707070" stroke-width="0.7"/>
<rect x="573.5" y="737.4" width="98.3" height="8.8" fill="#D9D9D9" stroke="#707070" stroke-width="0.7"/>
<text x="622.65" y="743.8" font-size="4.5" text-anchor="middle" fill="#1A1A1A">ruminococcaceae_SGB43514</text>
<line x1="571.9" y1="763.88" x2="573.5" y2="763.88" stroke="#333" stroke-width="0.5"/>
<text x="571.3" y="765.28" font-size="4.1" text-anchor="end" fill="#4D4D4D">4</text>
<line x1="571.9" y1="788.54" x2="573.5" y2="788.54" stroke="#333" stroke-width="0.5"/>
<text x="571.3" y="789.94" font-size="4.1" text-anchor="end" fill="#4D4D4D">2</text>
<line x1="571.9" y1="813.2" x2="573.5" y2="813.2" stroke="#333" stroke-width="0.5"/>
<text x="571.3" y="814.6" font-size="4.1" text-anchor="end" fill="#4D4D4D">0</text>
<line x1="577.95" y1="820.1" x2="577.95" y2="821.7" stroke="#333" stroke-width="0.5"/>
<text x="577.95" y="825.7" font-size="4.1" text-anchor="middle" fill="#4D4D4D">0</text>
<line x1="601.26" y1="820.1" x2="601.26" y2="821.7" stroke="#333" stroke-width="0.5"/>
<text x="601.26" y="825.7" font-size="4.1" text-anchor="middle" fill="#4D4D4D">3</text>
<line x1="624.57" y1="820.1" x2="624.57" y2="821.7" stroke="#333" stroke-width="0.5"/>
<text x="624.57" y="825.7" font-size="4.1" text-anchor="middle" fill="#4D4D4D">6</text>
<line x1="647.88" y1="820.1" x2="647.88" y2="821.7" stroke="#333" stroke-width="0.5"/>
<text x="647.88" y="825.7" font-size="4.1" text-anchor="middle" fill="#4D4D4D">9</text>
<line x1="671.19" y1="820.1" x2="671.19" y2="821.7" stroke="#333" stroke-width="0.5"/>
<text x="671.19" y="825.7" font-size="4.1" text-anchor="middle" fill="#4D4D4D">12</text>
<text x="18.4" y="733.7" font-size="7.8" text-anchor="middle" fill="#111" font-weight="bold" transform="rotate(-90 18.4 733.7)">Relative abundance (%)</text>
<text x="32.3" y="840.3" font-size="6.9" text-anchor="start" fill="#111" font-weight="bold">Time</text>
<line x1="52.1" y1="838.1" x2="140" y2="838.1" stroke="#000" stroke-width="1.3"/>
<polygon points="145,838.1 136.2,835.2 138,838.1 136.2,841" fill="#000" stroke="none" stroke-width="1"/>
</svg></body></html>
